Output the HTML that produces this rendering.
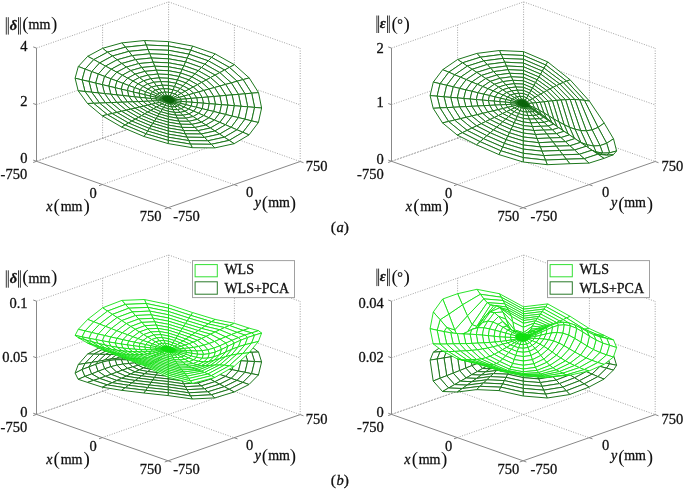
<!DOCTYPE html>
<html><head><meta charset="utf-8"><style>
html,body{margin:0;padding:0;background:#fff;}
svg{display:block;will-change:transform;}
.t{font-family:"Liberation Serif",serif;fill:#111;stroke:#111;stroke-width:0.3px;}
.par{font-size:16px;}
.bar{stroke:#222;stroke-width:0.9;}
.gd{stroke:#8a8a8a;stroke-width:0.8;stroke-dasharray:1 1.5;fill:none;}
.ax{stroke:#888;stroke-width:1;fill:none;}
.gd2{stroke:#8a8a8a;stroke-width:0.9;stroke-dasharray:2 1;fill:none;}
.dk polygon{fill:#fff;stroke:#1c761c;stroke-width:1;stroke-linejoin:round;}
.lt polygon{fill:#fff;stroke:#12e012;stroke-width:0.9;stroke-linejoin:round;}
.dkf polygon{fill:#0b650b;stroke:#0b650b;stroke-width:1;}
.ltf polygon{fill:#12e012;stroke:#12e012;stroke-width:0.9;}
</style></head><body>
<svg width="685" height="489" viewBox="0 0 685 489">
<line class="gd2" x1="36.5" y1="161.3" x2="168.6" y2="115.1"/>
<line class="gd" x1="102.3" y1="184.5" x2="234.4" y2="138.3"/>
<line class="gd" x1="102.6" y1="138.2" x2="234.1" y2="184.6"/>
<line class="gd" x1="168.6" y1="115.1" x2="300.2" y2="161.5"/>
<line class="gd" x1="102.6" y1="138.2" x2="102.6" y2="25.0"/>
<line class="gd" x1="168.6" y1="115.1" x2="168.6" y2="1.9"/>
<line class="gd" x1="36.5" y1="104.7" x2="168.6" y2="58.5"/>
<line class="gd" x1="36.5" y1="48.1" x2="168.6" y2="1.9"/>
<line class="gd" x1="234.4" y1="138.3" x2="234.4" y2="25.1"/>
<line class="gd" x1="300.2" y1="161.5" x2="300.2" y2="48.3"/>
<line class="gd" x1="168.6" y1="58.5" x2="300.2" y2="104.9"/>
<line class="gd" x1="168.6" y1="1.9" x2="300.2" y2="48.3"/>
<line class="ax" x1="36.5" y1="161.3" x2="36.5" y2="48.1"/>
<line class="ax" x1="36.5" y1="161.3" x2="168.1" y2="207.7"/>
<line class="ax" x1="168.1" y1="207.7" x2="300.2" y2="161.5"/>
<line class="ax" x1="36.5" y1="161.3" x2="33.2" y2="160.1"/>
<line class="ax" x1="36.5" y1="104.7" x2="33.2" y2="103.5"/>
<line class="ax" x1="36.5" y1="48.1" x2="33.2" y2="46.9"/>
<line class="ax" x1="36.5" y1="161.3" x2="33.2" y2="162.5"/>
<line class="ax" x1="102.3" y1="184.5" x2="99.0" y2="185.7"/>
<line class="ax" x1="168.1" y1="207.7" x2="164.7" y2="208.9"/>
<line class="ax" x1="168.1" y1="207.7" x2="171.4" y2="208.9"/>
<line class="ax" x1="234.1" y1="184.6" x2="237.5" y2="185.8"/>
<line class="ax" x1="300.2" y1="161.5" x2="303.5" y2="162.7"/>
<line class="gd2" x1="391.5" y1="161.3" x2="523.6" y2="115.1"/>
<line class="gd" x1="457.3" y1="184.5" x2="589.4" y2="138.3"/>
<line class="gd" x1="457.6" y1="138.2" x2="589.1" y2="184.6"/>
<line class="gd" x1="523.6" y1="115.1" x2="655.2" y2="161.5"/>
<line class="gd" x1="457.6" y1="138.2" x2="457.6" y2="25.0"/>
<line class="gd" x1="523.6" y1="115.1" x2="523.6" y2="1.9"/>
<line class="gd" x1="391.5" y1="104.7" x2="523.6" y2="58.5"/>
<line class="gd" x1="391.5" y1="48.1" x2="523.6" y2="1.9"/>
<line class="gd" x1="589.4" y1="138.3" x2="589.4" y2="25.1"/>
<line class="gd" x1="655.2" y1="161.5" x2="655.2" y2="48.3"/>
<line class="gd" x1="523.6" y1="58.5" x2="655.2" y2="104.9"/>
<line class="gd" x1="523.6" y1="1.9" x2="655.2" y2="48.3"/>
<line class="ax" x1="391.5" y1="161.3" x2="391.5" y2="48.1"/>
<line class="ax" x1="391.5" y1="161.3" x2="523.1" y2="207.7"/>
<line class="ax" x1="523.1" y1="207.7" x2="655.2" y2="161.5"/>
<line class="ax" x1="391.5" y1="161.3" x2="388.2" y2="160.1"/>
<line class="ax" x1="391.5" y1="104.7" x2="388.2" y2="103.5"/>
<line class="ax" x1="391.5" y1="48.1" x2="388.2" y2="46.9"/>
<line class="ax" x1="391.5" y1="161.3" x2="388.2" y2="162.5"/>
<line class="ax" x1="457.3" y1="184.5" x2="454.0" y2="185.7"/>
<line class="ax" x1="523.1" y1="207.7" x2="519.7" y2="208.9"/>
<line class="ax" x1="523.1" y1="207.7" x2="526.4" y2="208.9"/>
<line class="ax" x1="589.1" y1="184.6" x2="592.5" y2="185.8"/>
<line class="ax" x1="655.2" y1="161.5" x2="658.5" y2="162.7"/>
<line class="gd2" x1="36.5" y1="414.4" x2="168.6" y2="368.2"/>
<line class="gd" x1="102.3" y1="437.6" x2="234.4" y2="391.4"/>
<line class="gd" x1="102.6" y1="391.3" x2="234.1" y2="437.7"/>
<line class="gd" x1="168.6" y1="368.2" x2="300.2" y2="414.6"/>
<line class="gd" x1="102.6" y1="391.3" x2="102.6" y2="278.1"/>
<line class="gd" x1="168.6" y1="368.2" x2="168.6" y2="255.0"/>
<line class="gd" x1="36.5" y1="357.8" x2="168.6" y2="311.6"/>
<line class="gd" x1="36.5" y1="301.2" x2="168.6" y2="255.0"/>
<line class="gd" x1="234.4" y1="391.4" x2="234.4" y2="278.2"/>
<line class="gd" x1="300.2" y1="414.6" x2="300.2" y2="301.4"/>
<line class="gd" x1="168.6" y1="311.6" x2="300.2" y2="358.0"/>
<line class="gd" x1="168.6" y1="255.0" x2="300.2" y2="301.4"/>
<line class="ax" x1="36.5" y1="414.4" x2="36.5" y2="301.2"/>
<line class="ax" x1="36.5" y1="414.4" x2="168.1" y2="460.8"/>
<line class="ax" x1="168.1" y1="460.8" x2="300.2" y2="414.6"/>
<line class="ax" x1="36.5" y1="414.4" x2="33.2" y2="413.2"/>
<line class="ax" x1="36.5" y1="357.8" x2="33.2" y2="356.6"/>
<line class="ax" x1="36.5" y1="301.2" x2="33.2" y2="300.0"/>
<line class="ax" x1="36.5" y1="414.4" x2="33.2" y2="415.6"/>
<line class="ax" x1="102.3" y1="437.6" x2="99.0" y2="438.8"/>
<line class="ax" x1="168.1" y1="460.8" x2="164.7" y2="462.0"/>
<line class="ax" x1="168.1" y1="460.8" x2="171.4" y2="462.0"/>
<line class="ax" x1="234.1" y1="437.7" x2="237.5" y2="438.9"/>
<line class="ax" x1="300.2" y1="414.6" x2="303.5" y2="415.8"/>
<line class="gd2" x1="391.5" y1="414.4" x2="523.6" y2="368.2"/>
<line class="gd" x1="457.3" y1="437.6" x2="589.4" y2="391.4"/>
<line class="gd" x1="457.6" y1="391.3" x2="589.1" y2="437.7"/>
<line class="gd" x1="523.6" y1="368.2" x2="655.2" y2="414.6"/>
<line class="gd" x1="457.6" y1="391.3" x2="457.6" y2="278.1"/>
<line class="gd" x1="523.6" y1="368.2" x2="523.6" y2="255.0"/>
<line class="gd" x1="391.5" y1="357.8" x2="523.6" y2="311.6"/>
<line class="gd" x1="391.5" y1="301.2" x2="523.6" y2="255.0"/>
<line class="gd" x1="589.4" y1="391.4" x2="589.4" y2="278.2"/>
<line class="gd" x1="655.2" y1="414.6" x2="655.2" y2="301.4"/>
<line class="gd" x1="523.6" y1="311.6" x2="655.2" y2="358.0"/>
<line class="gd" x1="523.6" y1="255.0" x2="655.2" y2="301.4"/>
<line class="ax" x1="391.5" y1="414.4" x2="391.5" y2="301.2"/>
<line class="ax" x1="391.5" y1="414.4" x2="523.1" y2="460.8"/>
<line class="ax" x1="523.1" y1="460.8" x2="655.2" y2="414.6"/>
<line class="ax" x1="391.5" y1="414.4" x2="388.2" y2="413.2"/>
<line class="ax" x1="391.5" y1="357.8" x2="388.2" y2="356.6"/>
<line class="ax" x1="391.5" y1="301.2" x2="388.2" y2="300.0"/>
<line class="ax" x1="391.5" y1="414.4" x2="388.2" y2="415.6"/>
<line class="ax" x1="457.3" y1="437.6" x2="454.0" y2="438.8"/>
<line class="ax" x1="523.1" y1="460.8" x2="519.7" y2="462.0"/>
<line class="ax" x1="523.1" y1="460.8" x2="526.4" y2="462.0"/>
<line class="ax" x1="589.1" y1="437.7" x2="592.5" y2="438.9"/>
<line class="ax" x1="655.2" y1="414.6" x2="658.5" y2="415.8"/>
<g class="dk">
<polygon points="190.8,50.2 168.5,46.0 168.5,41.6 192.7,46.1"/>
<polygon points="168.5,46.0 146.2,45.0 144.4,40.5 168.5,41.6"/>
<polygon points="211.6,57.4 190.8,50.2 192.7,46.1 215.1,53.9"/>
<polygon points="189.0,54.2 168.5,50.3 168.5,46.0 190.8,50.2"/>
<polygon points="168.5,50.3 148.0,49.5 146.2,45.0 168.5,46.0"/>
<polygon points="146.2,45.0 125.4,47.2 121.9,42.9 144.4,40.5"/>
<polygon points="208.2,60.8 189.0,54.2 190.8,50.2 211.6,57.4"/>
<polygon points="187.3,58.1 168.5,54.6 168.5,50.3 189.0,54.2"/>
<polygon points="168.5,54.6 149.7,53.8 148.0,49.5 168.5,50.3"/>
<polygon points="148.0,49.5 128.8,51.4 125.4,47.2 146.2,45.0"/>
<polygon points="229.4,67.4 211.6,57.4 215.1,53.9 234.4,64.7"/>
<polygon points="204.8,64.2 187.3,58.1 189.0,54.2 208.2,60.8"/>
<polygon points="185.6,61.9 168.5,58.8 168.5,54.6 187.3,58.1"/>
<polygon points="149.7,53.8 132.2,55.6 128.8,51.4 148.0,49.5"/>
<polygon points="168.5,58.8 151.4,58.0 149.7,53.8 168.5,54.6"/>
<polygon points="224.6,70.0 208.2,60.8 211.6,57.4 229.4,67.4"/>
<polygon points="125.4,47.2 107.5,52.2 102.6,48.3 121.9,42.9"/>
<polygon points="201.5,67.5 185.6,61.9 187.3,58.1 204.8,64.2"/>
<polygon points="183.9,65.7 168.5,62.8 168.5,58.8 185.6,61.9"/>
<polygon points="151.4,58.0 135.5,59.6 132.2,55.6 149.7,53.8"/>
<polygon points="128.8,51.4 112.4,56.0 107.5,52.2 125.4,47.2"/>
<polygon points="219.8,72.6 204.8,64.2 208.2,60.8 224.6,70.0"/>
<polygon points="168.5,62.8 153.1,62.2 151.4,58.0 168.5,58.8"/>
<polygon points="198.2,70.7 183.9,65.7 185.6,61.9 201.5,67.5"/>
<polygon points="243.1,79.6 229.4,67.4 234.4,64.7 249.2,77.9"/>
<polygon points="132.2,55.6 117.1,59.8 112.4,56.0 128.8,51.4"/>
<polygon points="215.1,75.1 201.5,67.5 204.8,64.2 219.8,72.6"/>
<polygon points="153.1,62.2 138.7,63.6 135.5,59.6 151.4,58.0"/>
<polygon points="182.2,69.4 168.5,66.8 168.5,62.8 183.9,65.7"/>
<polygon points="168.5,66.8 154.7,66.2 153.1,62.2 168.5,62.8"/>
<polygon points="195.0,73.8 182.2,69.4 183.9,65.7 198.2,70.7"/>
<polygon points="237.1,81.2 224.6,70.0 229.4,67.4 243.1,79.6"/>
<polygon points="135.5,59.6 121.8,63.5 117.1,59.8 132.2,55.6"/>
<polygon points="210.5,77.6 198.2,70.7 201.5,67.5 215.1,75.1"/>
<polygon points="154.7,66.2 141.8,67.5 138.7,63.6 153.1,62.2"/>
<polygon points="180.6,73.0 168.4,70.7 168.5,66.8 182.2,69.4"/>
<polygon points="168.4,70.7 156.3,70.2 154.7,66.2 168.5,66.8"/>
<polygon points="107.5,52.2 93.8,59.6 87.7,56.3 102.6,48.3"/>
<polygon points="231.3,82.9 219.8,72.6 224.6,70.0 237.1,81.2"/>
<polygon points="138.7,63.6 126.3,67.1 121.8,63.5 135.5,59.6"/>
<polygon points="191.9,76.9 180.6,73.0 182.2,69.4 195.0,73.8"/>
<polygon points="206.1,80.0 195.0,73.8 198.2,70.7 210.5,77.6"/>
<polygon points="112.4,56.0 99.7,62.9 93.8,59.6 107.5,52.2"/>
<polygon points="156.3,70.2 144.9,71.4 141.8,67.5 154.7,66.2"/>
<polygon points="225.6,84.4 215.1,75.1 219.8,72.6 231.3,82.9"/>
<polygon points="179.0,76.5 168.4,74.5 168.4,70.7 180.6,73.0"/>
<polygon points="168.4,74.5 157.8,74.1 156.3,70.2 168.4,70.7"/>
<polygon points="141.8,67.5 130.8,70.6 126.3,67.1 138.7,63.6"/>
<polygon points="117.1,59.8 105.5,66.1 99.7,62.9 112.4,56.0"/>
<polygon points="188.9,79.9 179.0,76.5 180.6,73.0 191.9,76.9"/>
<polygon points="201.7,82.4 191.9,76.9 195.0,73.8 206.1,80.0"/>
<polygon points="220.0,86.0 210.5,77.6 215.1,75.1 225.6,84.4"/>
<polygon points="157.8,74.1 147.9,75.1 144.9,71.4 156.3,70.2"/>
<polygon points="121.8,63.5 111.2,69.2 105.5,66.1 117.1,59.8"/>
<polygon points="177.5,80.0 168.4,78.3 168.4,74.5 179.0,76.5"/>
<polygon points="144.9,71.4 135.2,74.1 130.8,70.6 141.8,67.5"/>
<polygon points="251.7,93.2 243.1,79.6 249.2,77.9 258.5,92.6"/>
<polygon points="168.4,78.3 159.3,77.9 157.8,74.1 168.4,74.5"/>
<polygon points="214.5,87.5 206.1,80.0 210.5,77.6 220.0,86.0"/>
<polygon points="197.4,84.7 188.9,79.9 191.9,76.9 201.7,82.4"/>
<polygon points="185.9,82.9 177.5,80.0 179.0,76.5 188.9,79.9"/>
<polygon points="245.0,93.8 237.1,81.2 243.1,79.6 251.7,93.2"/>
<polygon points="126.3,67.1 116.8,72.2 111.2,69.2 121.8,63.5"/>
<polygon points="159.3,77.9 150.9,78.7 147.9,75.1 157.8,74.1"/>
<polygon points="147.9,75.1 139.4,77.5 135.2,74.1 144.9,71.4"/>
<polygon points="176.0,83.3 168.4,81.9 168.4,78.3 177.5,80.0"/>
<polygon points="209.1,89.0 201.7,82.4 206.1,80.0 214.5,87.5"/>
<polygon points="238.5,94.4 231.3,82.9 237.1,81.2 245.0,93.8"/>
<polygon points="168.4,81.9 160.8,81.6 159.3,77.9 168.4,78.3"/>
<polygon points="193.2,87.0 185.9,82.9 188.9,79.9 197.4,84.7"/>
<polygon points="130.8,70.6 122.3,75.2 116.8,72.2 126.3,67.1"/>
<polygon points="183.0,85.8 176.0,83.3 177.5,80.0 185.9,82.9"/>
<polygon points="160.8,81.6 153.8,82.3 150.9,78.7 159.3,77.9"/>
<polygon points="232.1,94.9 225.6,84.4 231.3,82.9 238.5,94.4"/>
<polygon points="150.9,78.7 143.6,80.8 139.4,77.5 147.9,75.1"/>
<polygon points="203.9,90.5 197.4,84.7 201.7,82.4 209.1,89.0"/>
<polygon points="135.2,74.1 127.7,78.2 122.3,75.2 130.8,70.6"/>
<polygon points="93.8,59.6 85.1,69.1 78.3,66.5 87.7,56.3"/>
<polygon points="174.5,86.6 168.4,85.4 168.4,81.9 176.0,83.3"/>
<polygon points="189.1,89.2 183.0,85.8 185.9,82.9 193.2,87.0"/>
<polygon points="225.9,95.4 220.0,86.0 225.6,84.4 232.1,94.9"/>
<polygon points="168.4,85.4 162.3,85.2 160.8,81.6 168.4,81.9"/>
<polygon points="99.7,62.9 91.7,71.6 85.1,69.1 93.8,59.6"/>
<polygon points="180.2,88.6 174.5,86.6 176.0,83.3 183.0,85.8"/>
<polygon points="198.7,91.9 193.2,87.0 197.4,84.7 203.9,90.5"/>
<polygon points="153.8,82.3 147.7,84.0 143.6,80.8 150.9,78.7"/>
<polygon points="139.4,77.5 132.9,81.0 127.7,78.2 135.2,74.1"/>
<polygon points="162.3,85.2 156.6,85.8 153.8,82.3 160.8,81.6"/>
<polygon points="219.8,96.0 214.5,87.5 220.0,86.0 225.9,95.4"/>
<polygon points="105.5,66.1 98.3,74.0 91.7,71.6 99.7,62.9"/>
<polygon points="185.1,91.3 180.2,88.6 183.0,85.8 189.1,89.2"/>
<polygon points="213.8,96.5 209.1,89.0 214.5,87.5 219.8,96.0"/>
<polygon points="111.2,69.2 104.6,76.4 98.3,74.0 105.5,66.1"/>
<polygon points="173.1,89.8 168.4,88.9 168.4,85.4 174.5,86.6"/>
<polygon points="143.6,80.8 138.0,83.8 132.9,81.0 139.4,77.5"/>
<polygon points="193.7,93.3 189.1,89.2 193.2,87.0 198.7,91.9"/>
<polygon points="168.4,88.9 163.7,88.7 162.3,85.2 168.4,85.4"/>
<polygon points="156.6,85.8 151.7,87.1 147.7,84.0 153.8,82.3"/>
<polygon points="177.5,91.3 173.1,89.8 174.5,86.6 180.2,88.6"/>
<polygon points="116.8,72.2 110.9,78.8 104.6,76.4 111.2,69.2"/>
<polygon points="163.7,88.7 159.3,89.2 156.6,85.8 162.3,85.2"/>
<polygon points="207.9,97.0 203.9,90.5 209.1,89.0 213.8,96.5"/>
<polygon points="147.7,84.0 143.0,86.5 138.0,83.8 143.6,80.8"/>
<polygon points="181.2,93.4 177.5,91.3 180.2,88.6 185.1,91.3"/>
<polygon points="122.3,75.2 117.0,81.0 110.9,78.8 116.8,72.2"/>
<polygon points="188.9,94.7 185.1,91.3 189.1,89.2 193.7,93.3"/>
<polygon points="202.2,97.5 198.7,91.9 203.9,90.5 207.9,97.0"/>
<polygon points="159.3,89.2 155.5,90.2 151.7,87.1 156.6,85.8"/>
<polygon points="171.7,92.9 168.4,92.3 168.4,88.9 173.1,89.8"/>
<polygon points="168.4,92.3 165.1,92.1 163.7,88.7 168.4,88.9"/>
<polygon points="127.7,78.2 122.9,83.3 117.0,81.0 122.3,75.2"/>
<polygon points="254.6,107.4 251.7,93.2 258.5,92.6 261.6,108.0"/>
<polygon points="174.8,94.0 171.7,92.9 173.1,89.8 177.5,91.3"/>
<polygon points="151.7,87.1 147.9,89.2 143.0,86.5 147.7,84.0"/>
<polygon points="165.1,92.1 162.0,92.5 159.3,89.2 163.7,88.7"/>
<polygon points="247.7,106.8 245.0,93.8 251.7,93.2 254.6,107.4"/>
<polygon points="196.7,97.9 193.7,93.3 198.7,91.9 202.2,97.5"/>
<polygon points="184.1,96.0 181.2,93.4 185.1,91.3 188.9,94.7"/>
<polygon points="132.9,81.0 128.8,85.5 122.9,83.3 127.7,78.2"/>
<polygon points="241.0,106.3 238.5,94.4 245.0,93.8 247.7,106.8"/>
<polygon points="177.4,95.5 174.8,94.0 177.5,91.3 181.2,93.4"/>
<polygon points="162.0,92.5 159.3,93.2 155.5,90.2 159.3,89.2"/>
<polygon points="234.4,105.7 232.1,94.9 238.5,94.4 241.0,106.3"/>
<polygon points="138.0,83.8 134.5,87.6 128.8,85.5 132.9,81.0"/>
<polygon points="155.5,90.2 152.6,91.8 147.9,89.2 151.7,87.1"/>
<polygon points="191.2,98.4 188.9,94.7 193.7,93.3 196.7,97.9"/>
<polygon points="227.9,105.2 225.9,95.4 232.1,94.9 234.4,105.7"/>
<polygon points="170.3,95.9 168.4,95.6 168.4,92.3 171.7,92.9"/>
<polygon points="168.4,95.6 166.4,95.5 165.1,92.1 168.4,92.3"/>
<polygon points="179.5,97.3 177.4,95.5 181.2,93.4 184.1,96.0"/>
<polygon points="143.0,86.5 140.1,89.7 134.5,87.6 138.0,83.8"/>
<polygon points="172.2,96.6 170.3,95.9 171.7,92.9 174.8,94.0"/>
<polygon points="221.6,104.7 219.8,96.0 225.9,95.4 227.9,105.2"/>
<polygon points="166.4,95.5 164.6,95.7 162.0,92.5 165.1,92.1"/>
<polygon points="185.9,98.9 184.1,96.0 188.9,94.7 191.2,98.4"/>
<polygon points="159.3,93.2 157.3,94.3 152.6,91.8 155.5,90.2"/>
<polygon points="215.4,104.2 213.8,96.5 219.8,96.0 221.6,104.7"/>
<polygon points="173.7,97.5 172.2,96.6 174.8,94.0 177.4,95.5"/>
<polygon points="147.9,89.2 145.5,91.8 140.1,89.7 143.0,86.5"/>
<polygon points="164.6,95.7 163.0,96.1 159.3,93.2 162.0,92.5"/>
<polygon points="209.3,103.7 207.9,97.0 213.8,96.5 215.4,104.2"/>
<polygon points="170.0,96.7 168.4,96.4 168.4,95.6 170.3,95.9"/>
<polygon points="168.4,96.4 166.8,96.4 166.4,95.5 168.4,95.6"/>
<polygon points="174.9,98.5 173.7,97.5 177.4,95.5 179.5,97.3"/>
<polygon points="171.5,97.3 170.0,96.7 170.3,95.9 172.2,96.6"/>
<polygon points="180.7,99.3 179.5,97.3 184.1,96.0 185.9,98.9"/>
<polygon points="203.4,103.2 202.2,97.5 207.9,97.0 209.3,103.7"/>
<polygon points="152.6,91.8 150.8,93.8 145.5,91.8 147.9,89.2"/>
<polygon points="166.8,96.4 165.3,96.5 164.6,95.7 166.4,95.5"/>
<polygon points="172.8,98.0 171.5,97.3 172.2,96.6 173.7,97.5"/>
<polygon points="163.0,96.1 161.8,96.8 157.3,94.3 159.3,93.2"/>
<polygon points="197.6,102.7 196.7,97.9 202.2,97.5 203.4,103.2"/>
</g>
<g class="dkf">
<polygon points="169.5,97.8 168.4,97.5 168.4,96.4 170.0,96.7"/>
<polygon points="168.4,97.5 167.2,97.5 166.8,96.4 168.4,96.4"/>
</g>
<g class="dk">
<polygon points="165.3,96.5 164.0,96.9 163.0,96.1 164.6,95.7"/>
</g>
<g class="dkf">
<polygon points="170.6,98.1 169.5,97.8 170.0,96.7 171.5,97.3"/>
<polygon points="167.2,97.5 166.1,97.6 165.3,96.5 166.8,96.4"/>
</g>
<g class="dk">
<polygon points="157.3,94.3 156.0,95.7 150.8,93.8 152.6,91.8"/>
<polygon points="192.0,102.3 191.2,98.4 196.7,97.9 197.6,102.7"/>
<polygon points="173.7,98.9 172.8,98.0 173.7,97.5 174.9,98.5"/>
</g>
<g class="dkf">
<polygon points="171.5,98.6 170.6,98.1 171.5,97.3 172.8,98.0"/>
</g>
<g class="dk">
<polygon points="175.7,99.7 174.9,98.5 179.5,97.3 180.7,99.3"/>
</g>
<g class="dkf">
<polygon points="166.1,97.6 165.2,97.9 164.0,96.9 165.3,96.5"/>
</g>
<g class="dk">
<polygon points="164.0,96.9 163.0,97.4 161.8,96.8 163.0,96.1"/>
</g>
<g class="dkf">
<polygon points="169.1,98.8 168.4,98.6 168.4,97.5 169.5,97.8"/>
<polygon points="168.4,98.6 167.6,98.6 167.2,97.5 168.4,97.5"/>
</g>
<g class="dk">
<polygon points="186.5,101.8 185.9,98.9 191.2,98.4 192.0,102.3"/>
</g>
<g class="dkf">
<polygon points="172.2,99.3 171.5,98.6 172.8,98.0 173.7,98.9"/>
<polygon points="169.7,99.0 169.1,98.8 169.5,97.8 170.6,98.1"/>
<polygon points="167.6,98.6 167.0,98.7 166.1,97.6 167.2,97.5"/>
</g>
<g class="dk">
<polygon points="161.8,96.8 161.0,97.6 156.0,95.7 157.3,94.3"/>
</g>
<g class="dkf">
<polygon points="170.3,99.3 169.7,99.0 170.6,98.1 171.5,98.6"/>
<polygon points="165.2,97.9 164.5,98.2 163.0,97.4 164.0,96.9"/>
</g>
<g class="dk">
<polygon points="174.4,99.8 173.7,98.9 174.9,98.5 175.7,99.7"/>
<polygon points="85.1,69.1 82.1,79.9 75.1,78.2 78.3,66.5"/>
</g>
<g class="dkf">
<polygon points="167.0,98.7 166.4,98.8 165.2,97.9 166.1,97.6"/>
</g>
<g class="dk">
<polygon points="91.7,71.6 89.0,81.5 82.1,79.9 85.1,69.1"/>
<polygon points="181.2,101.4 180.7,99.3 185.9,98.9 186.5,101.8"/>
<polygon points="98.3,74.0 95.7,83.1 89.0,81.5 91.7,71.6"/>
</g>
<g class="dkf">
<polygon points="170.7,99.7 170.3,99.3 171.5,98.6 172.2,99.3"/>
<polygon points="172.7,100.0 172.2,99.3 173.7,98.9 174.4,99.8"/>
</g>
<g class="dk">
<polygon points="104.6,76.4 102.3,84.7 95.7,83.1 98.3,74.0"/>
<polygon points="163.0,97.4 162.3,98.1 161.0,97.6 161.8,96.8"/>
</g>
<g class="dkf">
<polygon points="168.7,99.6 168.4,99.6 168.4,98.6 169.1,98.8"/>
<polygon points="166.4,98.8 166.0,99.1 164.5,98.2 165.2,97.9"/>
</g>
<g class="dk">
<polygon points="110.9,78.8 108.8,86.2 102.3,84.7 104.6,76.4"/>
</g>
<g class="dkf">
<polygon points="168.4,99.6 168.0,99.6 167.6,98.6 168.4,98.6"/>
<polygon points="169.0,99.7 168.7,99.6 169.1,98.8 169.7,99.0"/>
<polygon points="168.0,99.6 167.7,99.6 167.0,98.7 167.6,98.6"/>
</g>
<g class="dk">
<polygon points="117.0,81.0 115.1,87.7 108.8,86.2 110.9,78.8"/>
<polygon points="175.9,101.0 175.7,99.7 180.7,99.3 181.2,101.4"/>
</g>
<g class="dkf">
<polygon points="169.2,99.9 169.0,99.7 169.7,99.0 170.3,99.3"/>
<polygon points="164.5,98.2 164.0,98.7 162.3,98.1 163.0,97.4"/>
</g>
<g class="dk">
<polygon points="122.9,83.3 121.3,89.2 115.1,87.7 117.0,81.0"/>
</g>
<g class="dkf">
<polygon points="171.0,100.1 170.7,99.7 172.2,99.3 172.7,100.0"/>
<polygon points="167.7,99.6 167.5,99.7 166.4,98.8 167.0,98.7"/>
</g>
<g class="dk">
<polygon points="128.8,85.5 127.4,90.6 121.3,89.2 122.9,83.3"/>
</g>
<g class="dkf">
<polygon points="169.4,100.1 169.2,99.9 170.3,99.3 170.7,99.7"/>
</g>
<g class="dk">
<polygon points="134.5,87.6 133.3,92.0 127.4,90.6 128.8,85.5"/>
<polygon points="174.6,100.9 174.4,99.8 175.7,99.7 175.9,101.0"/>
</g>
<g class="dkf">
<polygon points="167.5,99.7 167.3,99.8 166.0,99.1 166.4,98.8"/>
<polygon points="166.0,99.1 165.7,99.4 164.0,98.7 164.5,98.2"/>
</g>
<g class="dk">
<polygon points="140.1,89.7 139.1,93.4 133.3,92.0 134.5,87.6"/>
</g>
<g class="dkf">
<polygon points="172.8,100.7 172.7,100.0 174.4,99.8 174.6,100.9"/>
</g>
<g class="dk">
<polygon points="145.5,91.8 144.7,94.7 139.1,93.4 140.1,89.7"/>
</g>
<g class="dkf">
<polygon points="169.6,100.3 169.4,100.1 170.7,99.7 171.0,100.1"/>
</g>
<g class="dk">
<polygon points="150.8,93.8 150.2,96.0 144.7,94.7 145.5,91.8"/>
</g>
<g class="dkf">
<polygon points="168.3,100.4 168.4,99.6 168.7,99.6"/>
<polygon points="168.3,100.4 168.0,99.6 168.4,99.6"/>
<polygon points="171.1,100.6 171.0,100.1 172.7,100.0 172.8,100.7"/>
<polygon points="167.3,99.8 167.1,99.9 165.7,99.4 166.0,99.1"/>
<polygon points="168.3,100.4 168.7,99.6 169.0,99.7"/>
<polygon points="168.3,100.4 167.7,99.6 168.0,99.6"/>
<polygon points="168.3,100.4 169.0,99.7 169.2,99.9"/>
</g>
<g class="dk">
<polygon points="156.0,95.7 155.5,97.3 150.2,96.0 150.8,93.8"/>
</g>
<g class="dkf">
<polygon points="168.3,100.4 167.5,99.7 167.7,99.6"/>
<polygon points="168.3,100.4 169.2,99.9 169.4,100.1"/>
<polygon points="168.3,100.4 167.3,99.8 167.5,99.7"/>
<polygon points="169.6,100.5 169.6,100.3 171.0,100.1 171.1,100.6"/>
</g>
<g class="dk">
<polygon points="161.0,97.6 160.8,98.6 155.5,97.3 156.0,95.7"/>
</g>
<g class="dkf">
<polygon points="168.3,100.4 169.4,100.1 169.6,100.3"/>
</g>
<g class="dk">
<polygon points="162.3,98.1 162.1,98.9 160.8,98.6 161.0,97.6"/>
</g>
<g class="dkf">
<polygon points="168.3,100.4 167.1,99.9 167.3,99.8"/>
<polygon points="164.0,98.7 163.9,99.3 162.1,98.9 162.3,98.1"/>
<polygon points="165.7,99.4 165.6,99.7 163.9,99.3 164.0,98.7"/>
<polygon points="168.3,100.4 169.6,100.3 169.6,100.5"/>
<polygon points="167.1,99.9 167.1,100.1 165.6,99.7 165.7,99.4"/>
<polygon points="168.3,100.4 167.1,100.1 167.1,99.9"/>
<polygon points="168.3,100.4 169.6,100.5 169.6,100.7"/>
<polygon points="168.3,100.4 167.1,100.2 167.1,100.1"/>
<polygon points="169.6,100.7 169.6,100.5 171.1,100.6 171.0,101.0"/>
<polygon points="168.3,100.4 169.6,100.7 169.4,100.8"/>
<polygon points="168.3,100.4 167.3,100.4 167.1,100.2"/>
<polygon points="171.0,101.0 171.1,100.6 172.8,100.7 172.7,101.4"/>
<polygon points="168.3,100.4 169.4,100.8 169.2,100.9"/>
<polygon points="168.3,100.4 167.5,100.6 167.3,100.4"/>
<polygon points="167.1,100.1 167.1,100.2 165.7,100.1 165.6,99.7"/>
<polygon points="168.3,100.4 169.2,100.9 169.0,101.0"/>
<polygon points="172.7,101.4 172.8,100.7 174.6,100.9 174.4,101.8"/>
<polygon points="168.3,100.4 167.7,100.7 167.5,100.6"/>
<polygon points="168.3,100.4 169.0,101.0 168.7,101.0"/>
<polygon points="168.3,100.4 168.0,100.8 167.7,100.7"/>
<polygon points="168.3,100.4 168.7,101.0 168.3,100.9"/>
</g>
<g class="dk">
<polygon points="174.4,101.8 174.6,100.9 175.9,101.0 175.7,102.2"/>
</g>
<g class="dkf">
<polygon points="168.3,100.4 168.3,100.9 168.0,100.8"/>
<polygon points="169.4,100.8 169.6,100.7 171.0,101.0 170.7,101.4"/>
<polygon points="165.6,99.7 165.7,100.1 164.0,99.9 163.9,99.3"/>
</g>
<g class="dk">
<polygon points="175.7,102.2 175.9,101.0 181.2,101.4 180.7,103.4"/>
</g>
<g class="dkf">
<polygon points="167.1,100.2 167.3,100.4 166.0,100.5 165.7,100.1"/>
<polygon points="169.2,100.9 169.4,100.8 170.7,101.4 170.3,101.6"/>
<polygon points="170.7,101.4 171.0,101.0 172.7,101.4 172.2,102.0"/>
<polygon points="163.9,99.3 164.0,99.9 162.3,99.7 162.1,98.9"/>
<polygon points="167.3,100.4 167.5,100.6 166.4,100.8 166.0,100.5"/>
</g>
<g class="dk">
<polygon points="180.7,103.4 181.2,101.4 186.5,101.8 185.9,104.7"/>
</g>
<g class="dkf">
<polygon points="169.0,101.0 169.2,100.9 170.3,101.6 169.7,101.8"/>
</g>
<g class="dk">
<polygon points="162.1,98.9 162.3,99.7 161.0,99.6 160.8,98.6"/>
</g>
<g class="dkf">
<polygon points="167.5,100.6 167.7,100.7 167.0,101.1 166.4,100.8"/>
<polygon points="165.7,100.1 166.0,100.5 164.5,100.5 164.0,99.9"/>
<polygon points="172.2,102.0 172.7,101.4 174.4,101.8 173.7,102.7"/>
<polygon points="168.7,101.0 169.0,101.0 169.7,101.8 169.1,101.7"/>
</g>
<g class="dk">
<polygon points="185.9,104.7 186.5,101.8 192.0,102.3 191.2,106.0"/>
</g>
<g class="dkf">
<polygon points="167.7,100.7 168.0,100.8 167.6,101.4 167.0,101.1"/>
<polygon points="168.3,100.9 168.7,101.0 169.1,101.7 168.3,101.6"/>
<polygon points="170.3,101.6 170.7,101.4 172.2,102.0 171.5,102.4"/>
<polygon points="168.0,100.8 168.3,100.9 168.3,101.6 167.6,101.4"/>
</g>
<g class="dk">
<polygon points="173.7,102.7 174.4,101.8 175.7,102.2 174.9,103.2"/>
<polygon points="160.8,98.6 161.0,99.6 156.0,99.0 155.5,97.3"/>
<polygon points="191.2,106.0 192.0,102.3 197.6,102.7 196.6,107.3"/>
</g>
<g class="dkf">
<polygon points="166.0,100.5 166.4,100.8 165.2,101.1 164.5,100.5"/>
<polygon points="164.0,99.9 164.5,100.5 163.0,100.6 162.3,99.7"/>
<polygon points="169.7,101.8 170.3,101.6 171.5,102.4 170.6,102.6"/>
</g>
<g class="dk">
<polygon points="196.6,107.3 197.6,102.7 203.4,103.2 202.2,108.7"/>
</g>
<g class="dkf">
<polygon points="171.5,102.4 172.2,102.0 173.7,102.7 172.7,103.2"/>
<polygon points="166.4,100.8 167.0,101.1 166.1,101.6 165.2,101.1"/>
<polygon points="169.1,101.7 169.7,101.8 170.6,102.6 169.5,102.6"/>
</g>
<g class="dk">
<polygon points="162.3,99.7 163.0,100.6 161.8,100.6 161.0,99.6"/>
<polygon points="174.9,103.2 175.7,102.2 180.7,103.4 179.4,105.1"/>
<polygon points="202.2,108.7 203.4,103.2 209.3,103.7 207.9,110.1"/>
</g>
<g class="dkf">
<polygon points="167.0,101.1 167.6,101.4 167.2,102.1 166.1,101.6"/>
</g>
<g class="dk">
<polygon points="155.5,97.3 156.0,99.0 150.8,98.5 150.2,96.0"/>
</g>
<g class="dkf">
<polygon points="168.3,101.6 169.1,101.7 169.5,102.6 168.3,102.4"/>
<polygon points="167.6,101.4 168.3,101.6 168.3,102.4 167.2,102.1"/>
<polygon points="164.5,100.5 165.2,101.1 163.9,101.4 163.0,100.6"/>
</g>
<g class="dk">
<polygon points="172.7,103.2 173.7,102.7 174.9,103.2 173.7,103.9"/>
<polygon points="207.9,110.1 209.3,103.7 215.4,104.2 213.8,111.5"/>
</g>
<g class="dkf">
<polygon points="170.6,102.6 171.5,102.4 172.7,103.2 171.4,103.5"/>
</g>
<g class="dk">
<polygon points="213.8,111.5 215.4,104.2 221.6,104.7 219.7,113.0"/>
</g>
<g class="dkf">
<polygon points="165.2,101.1 166.1,101.6 165.2,102.1 163.9,101.4"/>
</g>
<g class="dk">
<polygon points="163.0,100.6 163.9,101.4 163.0,101.6 161.8,100.6"/>
</g>
<g class="dkf">
<polygon points="169.5,102.6 170.6,102.6 171.4,103.5 169.9,103.5"/>
</g>
<g class="dk">
<polygon points="150.2,96.0 150.8,98.5 145.5,97.9 144.7,94.7"/>
<polygon points="161.0,99.6 161.8,100.6 157.2,100.8 156.0,99.0"/>
<polygon points="219.7,113.0 221.6,104.7 227.9,105.2 225.8,114.5"/>
<polygon points="179.4,105.1 180.7,103.4 185.9,104.7 184.1,107.1"/>
<polygon points="171.4,103.5 172.7,103.2 173.7,103.9 172.1,104.2"/>
</g>
<g class="dkf">
<polygon points="166.1,101.6 167.2,102.1 166.7,102.8 165.2,102.1"/>
<polygon points="168.3,102.4 169.5,102.6 169.9,103.5 168.3,103.2"/>
<polygon points="167.2,102.1 168.3,102.4 168.3,103.2 166.7,102.8"/>
</g>
<g class="dk">
<polygon points="225.8,114.5 227.9,105.2 234.4,105.7 232.1,116.1"/>
<polygon points="173.7,103.9 174.9,103.2 179.4,105.1 177.4,106.3"/>
<polygon points="163.9,101.4 165.2,102.1 164.5,102.5 163.0,101.6"/>
<polygon points="144.7,94.7 145.5,97.9 140.0,97.4 139.1,93.4"/>
<polygon points="169.9,103.5 171.4,103.5 172.1,104.2 170.3,104.2"/>
<polygon points="232.1,116.1 234.4,105.7 241.0,106.3 238.4,117.6"/>
<polygon points="165.2,102.1 166.7,102.8 166.4,103.3 164.5,102.5"/>
<polygon points="238.4,117.6 241.0,106.3 247.7,106.8 245.0,119.2"/>
<polygon points="168.3,103.2 169.9,103.5 170.3,104.2 168.3,103.9"/>
<polygon points="184.1,107.1 185.9,104.7 191.2,106.0 188.8,109.1"/>
<polygon points="166.7,102.8 168.3,103.2 168.3,103.9 166.4,103.3"/>
<polygon points="161.8,100.6 163.0,101.6 159.3,102.5 157.2,100.8"/>
<polygon points="156.0,99.0 157.2,100.8 152.6,101.0 150.8,98.5"/>
<polygon points="139.1,93.4 140.0,97.4 134.5,96.8 133.3,92.0"/>
<polygon points="245.0,119.2 247.7,106.8 254.6,107.4 251.6,120.9"/>
<polygon points="172.1,104.2 173.7,103.9 177.4,106.3 174.7,106.9"/>
<polygon points="251.6,120.9 254.6,107.4 261.6,108.0 258.4,122.5"/>
<polygon points="177.4,106.3 179.4,105.1 184.1,107.1 181.2,108.8"/>
<polygon points="133.3,92.0 134.5,96.8 128.8,96.2 127.4,90.6"/>
<polygon points="163.0,101.6 164.5,102.5 161.9,104.0 159.3,102.5"/>
<polygon points="188.8,109.1 191.2,106.0 196.6,107.3 193.7,111.2"/>
<polygon points="170.3,104.2 172.1,104.2 174.7,106.9 171.6,106.9"/>
<polygon points="164.5,102.5 166.4,103.3 165.0,105.3 161.9,104.0"/>
<polygon points="150.8,98.5 152.6,101.0 147.8,101.2 145.5,97.9"/>
<polygon points="168.3,103.9 170.3,104.2 171.6,106.9 168.3,106.3"/>
<polygon points="127.4,90.6 128.8,96.2 122.9,95.5 121.3,89.2"/>
<polygon points="166.4,103.3 168.3,103.9 168.3,106.3 165.0,105.3"/>
<polygon points="193.7,111.2 196.6,107.3 202.2,108.7 198.7,113.3"/>
<polygon points="157.2,100.8 159.3,102.5 155.5,103.4 152.6,101.0"/>
<polygon points="121.3,89.2 122.9,95.5 116.9,94.9 115.1,87.7"/>
<polygon points="174.7,106.9 177.4,106.3 181.2,108.8 177.4,109.6"/>
<polygon points="181.2,108.8 184.1,107.1 188.8,109.1 185.0,111.3"/>
<polygon points="145.5,97.9 147.8,101.2 143.0,101.4 140.0,97.4"/>
<polygon points="198.7,113.3 202.2,108.7 207.9,110.1 203.8,115.5"/>
<polygon points="115.1,87.7 116.9,94.9 110.8,94.2 108.8,86.2"/>
<polygon points="159.3,102.5 161.9,104.0 159.2,105.5 155.5,103.4"/>
<polygon points="171.6,106.9 174.7,106.9 177.4,109.6 173.0,109.6"/>
<polygon points="108.8,86.2 110.8,94.2 104.6,93.6 102.3,84.7"/>
<polygon points="152.6,101.0 155.5,103.4 151.6,104.3 147.8,101.2"/>
<polygon points="203.8,115.5 207.9,110.1 213.8,111.5 209.0,117.8"/>
<polygon points="185.0,111.3 188.8,109.1 193.7,111.2 189.0,114.0"/>
<polygon points="161.9,104.0 165.0,105.3 163.6,107.4 159.2,105.5"/>
<polygon points="168.3,106.3 171.6,106.9 173.0,109.6 168.3,108.8"/>
<polygon points="140.0,97.4 143.0,101.4 138.0,101.6 134.5,96.8"/>
<polygon points="177.4,109.6 181.2,108.8 185.0,111.3 180.1,112.4"/>
<polygon points="165.0,105.3 168.3,106.3 168.3,108.8 163.6,107.4"/>
<polygon points="102.3,84.7 104.6,93.6 98.2,92.9 95.7,83.1"/>
<polygon points="209.0,117.8 213.8,111.5 219.7,113.0 214.4,120.1"/>
<polygon points="95.7,83.1 98.2,92.9 91.7,92.2 89.0,81.5"/>
<polygon points="189.0,114.0 193.7,111.2 198.7,113.3 193.1,116.6"/>
<polygon points="155.5,103.4 159.2,105.5 156.5,107.1 151.6,104.3"/>
<polygon points="134.5,96.8 138.0,101.6 132.8,101.8 128.8,96.2"/>
<polygon points="147.8,101.2 151.6,104.3 147.6,105.2 143.0,101.4"/>
<polygon points="214.4,120.1 219.7,113.0 225.8,114.5 219.9,122.4"/>
<polygon points="173.0,109.6 177.4,109.6 180.1,112.4 174.4,112.4"/>
<polygon points="89.0,81.5 91.7,92.2 85.0,91.5 82.1,79.9"/>
<polygon points="180.1,112.4 185.0,111.3 189.0,114.0 182.9,115.3"/>
<polygon points="159.2,105.5 163.6,107.4 162.2,109.5 156.5,107.1"/>
<polygon points="82.1,79.9 85.0,91.5 78.2,90.8 75.1,78.2"/>
<polygon points="168.3,108.8 173.0,109.6 174.4,112.4 168.3,111.3"/>
<polygon points="219.9,122.4 225.8,114.5 232.1,116.1 225.5,124.8"/>
<polygon points="128.8,96.2 132.8,101.8 127.6,102.0 122.9,95.5"/>
<polygon points="193.1,116.6 198.7,113.3 203.8,115.5 197.3,119.4"/>
<polygon points="163.6,107.4 168.3,108.8 168.3,111.3 162.2,109.5"/>
<polygon points="143.0,101.4 147.6,105.2 143.5,106.2 138.0,101.6"/>
<polygon points="151.6,104.3 156.5,107.1 153.7,108.7 147.6,105.2"/>
<polygon points="225.5,124.8 232.1,116.1 238.4,117.6 231.2,127.3"/>
<polygon points="174.4,112.4 180.1,112.4 182.9,115.3 175.9,115.2"/>
<polygon points="122.9,95.5 127.6,102.0 122.2,102.2 116.9,94.9"/>
<polygon points="182.9,115.3 189.0,114.0 193.1,116.6 185.8,118.2"/>
<polygon points="197.3,119.4 203.8,115.5 209.0,117.8 201.5,122.2"/>
<polygon points="231.2,127.3 238.4,117.6 245.0,119.2 237.0,129.8"/>
<polygon points="156.5,107.1 162.2,109.5 160.7,111.7 153.7,108.7"/>
<polygon points="168.3,111.3 174.4,112.4 175.9,115.2 168.3,113.9"/>
<polygon points="138.0,101.6 143.5,106.2 139.3,107.1 132.8,101.8"/>
<polygon points="116.9,94.9 122.2,102.2 116.7,102.4 110.8,94.2"/>
<polygon points="162.2,109.5 168.3,111.3 168.3,113.9 160.7,111.7"/>
<polygon points="237.0,129.8 245.0,119.2 251.6,120.9 242.9,132.3"/>
<polygon points="147.6,105.2 153.7,108.7 150.8,110.4 143.5,106.2"/>
<polygon points="201.5,122.2 209.0,117.8 214.4,120.1 205.9,125.1"/>
<polygon points="185.8,118.2 193.1,116.6 197.3,119.4 188.8,121.3"/>
<polygon points="175.9,115.2 182.9,115.3 185.8,118.2 177.4,118.2"/>
<polygon points="242.9,132.3 251.6,120.9 258.4,122.5 249.0,134.9"/>
<polygon points="110.8,94.2 116.7,102.4 111.1,102.6 104.6,93.6"/>
<polygon points="132.8,101.8 139.3,107.1 135.0,108.2 127.6,102.0"/>
<polygon points="153.7,108.7 160.7,111.7 159.2,113.9 150.8,110.4"/>
<polygon points="205.9,125.1 214.4,120.1 219.9,122.4 210.4,128.0"/>
<polygon points="168.3,113.9 175.9,115.2 177.4,118.2 168.3,116.6"/>
<polygon points="160.7,111.7 168.3,113.9 168.3,116.6 159.2,113.9"/>
<polygon points="143.5,106.2 150.8,110.4 147.8,112.1 139.3,107.1"/>
<polygon points="188.8,121.3 197.3,119.4 201.5,122.2 191.8,124.4"/>
<polygon points="104.6,93.6 111.1,102.6 105.4,102.8 98.2,92.9"/>
<polygon points="177.4,118.2 185.8,118.2 188.8,121.3 178.9,121.2"/>
<polygon points="127.6,102.0 135.0,108.2 130.6,109.2 122.2,102.2"/>
<polygon points="210.4,128.0 219.9,122.4 225.5,124.8 214.9,131.0"/>
<polygon points="98.2,92.9 105.4,102.8 99.6,103.1 91.7,92.2"/>
<polygon points="150.8,110.4 159.2,113.9 157.7,116.2 147.8,112.1"/>
<polygon points="191.8,124.4 201.5,122.2 205.9,125.1 194.9,127.5"/>
<polygon points="168.3,116.6 177.4,118.2 178.9,121.2 168.3,119.4"/>
<polygon points="139.3,107.1 147.8,112.1 144.8,113.8 135.0,108.2"/>
<polygon points="214.9,131.0 225.5,124.8 231.2,127.3 219.6,134.1"/>
<polygon points="159.2,113.9 168.3,116.6 168.3,119.4 157.7,116.2"/>
<polygon points="122.2,102.2 130.6,109.2 126.2,110.2 116.7,102.4"/>
<polygon points="91.7,92.2 99.6,103.1 93.6,103.3 85.0,91.5"/>
<polygon points="178.9,121.2 188.8,121.3 191.8,124.4 180.4,124.2"/>
<polygon points="194.9,127.5 205.9,125.1 210.4,128.0 198.0,130.7"/>
<polygon points="219.6,134.1 231.2,127.3 237.0,129.8 224.3,137.2"/>
<polygon points="147.8,112.1 157.7,116.2 156.1,118.6 144.8,113.8"/>
<polygon points="85.0,91.5 93.6,103.3 87.5,103.5 78.2,90.8"/>
<polygon points="135.0,108.2 144.8,113.8 141.7,115.6 130.6,109.2"/>
<polygon points="116.7,102.4 126.2,110.2 121.6,111.3 111.1,102.6"/>
<polygon points="168.3,119.4 178.9,121.2 180.4,124.2 168.3,122.2"/>
<polygon points="157.7,116.2 168.3,119.4 168.3,122.2 156.1,118.6"/>
<polygon points="180.4,124.2 191.8,124.4 194.9,127.5 182.0,127.4"/>
<polygon points="224.3,137.2 237.0,129.8 242.9,132.3 229.2,140.4"/>
<polygon points="198.0,130.7 210.4,128.0 214.9,131.0 201.2,134.0"/>
<polygon points="111.1,102.6 121.6,111.3 116.9,112.4 105.4,102.8"/>
<polygon points="130.6,109.2 141.7,115.6 138.5,117.4 126.2,110.2"/>
<polygon points="144.8,113.8 156.1,118.6 154.5,121.0 141.7,115.6"/>
<polygon points="168.3,122.2 180.4,124.2 182.0,127.4 168.2,125.1"/>
<polygon points="229.2,140.4 242.9,132.3 249.0,134.9 234.1,143.7"/>
<polygon points="182.0,127.4 194.9,127.5 198.0,130.7 183.6,130.6"/>
<polygon points="156.1,118.6 168.3,122.2 168.2,125.1 154.5,121.0"/>
<polygon points="201.2,134.0 214.9,131.0 219.6,134.1 204.5,137.4"/>
<polygon points="105.4,102.8 116.9,112.4 112.1,113.5 99.6,103.1"/>
<polygon points="126.2,110.2 138.5,117.4 135.2,119.2 121.6,111.3"/>
<polygon points="141.7,115.6 154.5,121.0 152.8,123.4 138.5,117.4"/>
<polygon points="168.2,125.1 182.0,127.4 183.6,130.6 168.2,128.0"/>
<polygon points="183.6,130.6 198.0,130.7 201.2,134.0 185.3,133.9"/>
<polygon points="204.5,137.4 219.6,134.1 224.3,137.2 207.9,140.8"/>
<polygon points="154.5,121.0 168.2,125.1 168.2,128.0 152.8,123.4"/>
<polygon points="99.6,103.1 112.1,113.5 107.3,114.6 93.6,103.3"/>
<polygon points="121.6,111.3 135.2,119.2 131.9,121.1 116.9,112.4"/>
<polygon points="138.5,117.4 152.8,123.4 151.1,125.9 135.2,119.2"/>
<polygon points="207.9,140.8 224.3,137.2 229.2,140.4 211.3,144.3"/>
<polygon points="93.6,103.3 107.3,114.6 102.3,115.8 87.5,103.5"/>
<polygon points="168.2,128.0 183.6,130.6 185.3,133.9 168.2,131.0"/>
<polygon points="185.3,133.9 201.2,134.0 204.5,137.4 187.0,137.2"/>
<polygon points="152.8,123.4 168.2,128.0 168.2,131.0 151.1,125.9"/>
<polygon points="116.9,112.4 131.9,121.1 128.5,123.0 112.1,113.5"/>
<polygon points="211.3,144.3 229.2,140.4 234.1,143.7 214.8,147.9"/>
<polygon points="135.2,119.2 151.1,125.9 149.4,128.5 131.9,121.1"/>
<polygon points="187.0,137.2 204.5,137.4 207.9,140.8 188.7,140.6"/>
<polygon points="168.2,131.0 185.3,133.9 187.0,137.2 168.2,134.1"/>
<polygon points="151.1,125.9 168.2,131.0 168.2,134.1 149.4,128.5"/>
<polygon points="112.1,113.5 128.5,123.0 125.1,125.0 107.3,114.6"/>
<polygon points="131.9,121.1 149.4,128.5 147.7,131.1 128.5,123.0"/>
<polygon points="188.7,140.6 207.9,140.8 211.3,144.3 190.5,144.1"/>
<polygon points="168.2,134.1 187.0,137.2 188.7,140.6 168.2,137.2"/>
<polygon points="149.4,128.5 168.2,134.1 168.2,137.2 147.7,131.1"/>
<polygon points="107.3,114.6 125.1,125.0 121.6,127.0 102.3,115.8"/>
<polygon points="128.5,123.0 147.7,131.1 145.9,133.8 125.1,125.0"/>
<polygon points="190.5,144.1 211.3,144.3 214.8,147.9 192.3,147.7"/>
<polygon points="168.2,137.2 188.7,140.6 190.5,144.1 168.2,140.4"/>
<polygon points="147.7,131.1 168.2,137.2 168.2,140.4 145.9,133.8"/>
<polygon points="125.1,125.0 145.9,133.8 144.0,136.5 121.6,127.0"/>
<polygon points="168.2,140.4 190.5,144.1 192.3,147.7 168.2,143.6"/>
<polygon points="145.9,133.8 168.2,140.4 168.2,143.6 144.0,136.5"/>
</g>
<g class="dk">
<polygon points="545.8,65.0 523.5,55.5 523.5,51.6 547.7,61.9"/>
<polygon points="566.6,81.1 545.8,65.0 547.7,61.9 570.1,79.8"/>
<polygon points="523.5,55.5 501.2,54.5 499.4,50.5 523.5,51.6"/>
<polygon points="544.0,68.1 523.5,59.3 523.5,55.5 545.8,65.0"/>
<polygon points="584.4,100.3 566.6,81.1 570.1,79.8 589.4,101.1"/>
<polygon points="563.2,82.5 544.0,68.1 545.8,65.0 566.6,81.1"/>
<polygon points="523.5,59.3 503.0,58.4 501.2,54.5 523.5,55.5"/>
<polygon points="501.2,54.5 480.4,57.2 476.9,53.4 499.4,50.5"/>
<polygon points="542.3,71.1 523.5,63.1 523.5,59.3 544.0,68.1"/>
<polygon points="579.6,99.8 563.2,82.5 566.6,81.1 584.4,100.3"/>
<polygon points="559.8,84.0 542.3,71.1 544.0,68.1 563.2,82.5"/>
<polygon points="503.0,58.4 483.8,60.9 480.4,57.2 501.2,54.5"/>
<polygon points="523.5,63.1 504.7,62.2 503.0,58.4 523.5,59.3"/>
<polygon points="598.1,127.4 584.4,100.3 589.4,101.1 604.2,123.1"/>
<polygon points="540.6,74.1 523.5,66.8 523.5,63.1 542.3,71.1"/>
<polygon points="574.8,99.5 559.8,84.0 563.2,82.5 579.6,99.8"/>
<polygon points="504.7,62.2 487.2,64.5 483.8,60.9 503.0,58.4"/>
<polygon points="556.5,85.6 540.6,74.1 542.3,71.1 559.8,84.0"/>
<polygon points="480.4,57.2 462.5,62.8 457.6,59.5 476.9,53.4"/>
<polygon points="523.5,66.8 506.4,66.0 504.7,62.2 523.5,63.1"/>
<polygon points="592.1,129.9 579.6,99.8 584.4,100.3 598.1,127.4"/>
<polygon points="538.9,77.0 523.5,70.4 523.5,66.8 540.6,74.1"/>
<polygon points="570.1,99.5 556.5,85.6 559.8,84.0 574.8,99.5"/>
<polygon points="483.8,60.9 467.4,66.1 462.5,62.8 480.4,57.2"/>
<polygon points="506.4,66.0 490.5,68.1 487.2,64.5 504.7,62.2"/>
<polygon points="586.3,130.8 574.8,99.5 579.6,99.8 592.1,129.9"/>
<polygon points="553.2,87.3 538.9,77.0 540.6,74.1 556.5,85.6"/>
<polygon points="523.5,70.4 508.1,69.7 506.4,66.0 523.5,66.8"/>
<polygon points="487.2,64.5 472.1,69.3 467.4,66.1 483.8,60.9"/>
<polygon points="580.6,130.5 570.1,99.5 574.8,99.5 586.3,130.8"/>
<polygon points="565.5,99.7 553.2,87.3 556.5,85.6 570.1,99.5"/>
<polygon points="537.2,79.8 523.5,73.9 523.5,70.4 538.9,77.0"/>
<polygon points="508.1,69.7 493.7,71.6 490.5,68.1 506.4,66.0"/>
<polygon points="550.0,88.9 537.2,79.8 538.9,77.0 553.2,87.3"/>
<polygon points="606.7,143.3 598.1,127.4 604.2,123.1 613.5,138.8"/>
<polygon points="523.5,73.9 509.7,73.3 508.1,69.7 523.5,70.4"/>
<polygon points="600.0,145.6 592.1,129.9 598.1,127.4 606.7,143.3"/>
<polygon points="490.5,68.1 476.8,72.4 472.1,69.3 487.2,64.5"/>
<polygon points="575.0,129.2 565.5,99.7 570.1,99.5 580.6,130.5"/>
<polygon points="462.5,62.8 448.8,72.2 442.7,69.7 457.6,59.5"/>
<polygon points="561.1,100.0 550.0,88.9 553.2,87.3 565.5,99.7"/>
<polygon points="593.5,146.0 586.3,130.8 592.1,129.9 600.0,145.6"/>
<polygon points="509.7,73.3 496.8,75.0 493.7,71.6 508.1,69.7"/>
<polygon points="535.6,82.6 523.4,77.4 523.5,73.9 537.2,79.8"/>
<polygon points="546.9,90.6 535.6,82.6 537.2,79.8 550.0,88.9"/>
<polygon points="523.4,77.4 511.3,76.8 509.7,73.3 523.5,73.9"/>
<polygon points="587.1,144.8 580.6,130.5 586.3,130.8 593.5,146.0"/>
<polygon points="493.7,71.6 481.3,75.5 476.8,72.4 490.5,68.1"/>
<polygon points="467.4,66.1 454.7,74.8 448.8,72.2 462.5,62.8"/>
<polygon points="569.5,127.3 561.1,100.0 565.5,99.7 575.0,129.2"/>
<polygon points="556.7,100.4 546.9,90.6 550.0,88.9 561.1,100.0"/>
<polygon points="511.3,76.8 499.9,78.3 496.8,75.0 509.7,73.3"/>
<polygon points="534.0,85.3 523.4,80.8 523.4,77.4 535.6,82.6"/>
<polygon points="580.9,142.5 575.0,129.2 580.6,130.5 587.1,144.8"/>
<polygon points="543.9,92.3 534.0,85.3 535.6,82.6 546.9,90.6"/>
<polygon points="472.1,69.3 460.5,77.2 454.7,74.8 467.4,66.1"/>
<polygon points="523.4,80.8 512.8,80.3 511.3,76.8 523.4,77.4"/>
<polygon points="496.8,75.0 485.8,78.5 481.3,75.5 493.7,71.6"/>
<polygon points="564.1,124.7 556.7,100.4 561.1,100.0 569.5,127.3"/>
<polygon points="574.8,139.3 569.5,127.3 575.0,129.2 580.9,142.5"/>
<polygon points="552.4,100.8 543.9,92.3 546.9,90.6 556.7,100.4"/>
<polygon points="512.8,80.3 502.9,81.6 499.9,78.3 511.3,76.8"/>
<polygon points="476.8,72.4 466.2,79.6 460.5,77.2 472.1,69.3"/>
<polygon points="532.5,88.0 523.4,84.1 523.4,80.8 534.0,85.3"/>
<polygon points="499.9,78.3 490.2,81.4 485.8,78.5 496.8,75.0"/>
<polygon points="540.9,94.0 532.5,88.0 534.0,85.3 543.9,92.3"/>
<polygon points="523.4,84.1 514.3,83.7 512.8,80.3 523.4,80.8"/>
<polygon points="558.9,121.9 552.4,100.8 556.7,100.4 564.1,124.7"/>
<polygon points="568.8,135.4 564.1,124.7 569.5,127.3 574.8,139.3"/>
<polygon points="481.3,75.5 471.8,82.0 466.2,79.6 476.8,72.4"/>
<polygon points="548.2,101.3 540.9,94.0 543.9,92.3 552.4,100.8"/>
<polygon points="514.3,83.7 505.9,84.8 502.9,81.6 512.8,80.3"/>
<polygon points="502.9,81.6 494.4,84.3 490.2,81.4 499.9,78.3"/>
<polygon points="609.6,152.9 606.7,143.3 613.5,138.8 616.6,150.9"/>
<polygon points="602.7,153.1 600.0,145.6 606.7,143.3 609.6,152.9"/>
<polygon points="531.0,90.5 523.4,87.3 523.4,84.1 532.5,88.0"/>
<polygon points="596.0,151.9 593.5,146.0 600.0,145.6 602.7,153.1"/>
<polygon points="485.8,78.5 477.3,84.3 471.8,82.0 481.3,75.5"/>
<polygon points="553.7,118.9 548.2,101.3 552.4,100.8 558.9,121.9"/>
<polygon points="538.0,95.6 531.0,90.5 532.5,88.0 540.9,94.0"/>
<polygon points="562.9,131.1 558.9,121.9 564.1,124.7 568.8,135.4"/>
<polygon points="523.4,87.3 515.8,87.0 514.3,83.7 523.4,84.1"/>
<polygon points="448.8,72.2 440.1,83.7 433.3,82.1 442.7,69.7"/>
<polygon points="589.4,149.6 587.1,144.8 593.5,146.0 596.0,151.9"/>
<polygon points="544.1,101.8 538.0,95.6 540.9,94.0 548.2,101.3"/>
<polygon points="515.8,87.0 508.8,87.9 505.9,84.8 514.3,83.7"/>
<polygon points="505.9,84.8 498.6,87.1 494.4,84.3 502.9,81.6"/>
<polygon points="582.9,146.4 580.9,142.5 587.1,144.8 589.4,149.6"/>
<polygon points="490.2,81.4 482.7,86.5 477.3,84.3 485.8,78.5"/>
<polygon points="454.7,74.8 446.7,85.3 440.1,83.7 448.8,72.2"/>
<polygon points="557.2,126.7 553.7,118.9 558.9,121.9 562.9,131.1"/>
<polygon points="548.7,115.8 544.1,101.8 548.2,101.3 553.7,118.9"/>
<polygon points="529.5,93.1 523.4,90.4 523.4,87.3 531.0,90.5"/>
<polygon points="576.6,142.5 574.8,139.3 580.9,142.5 582.9,146.4"/>
<polygon points="535.2,97.2 529.5,93.1 531.0,90.5 538.0,95.6"/>
<polygon points="460.5,77.2 453.3,86.8 446.7,85.3 454.7,74.8"/>
<polygon points="523.4,90.4 517.3,90.2 515.8,87.0 523.4,87.3"/>
<polygon points="494.4,84.3 487.9,88.7 482.7,86.5 490.2,81.4"/>
<polygon points="508.8,87.9 502.7,89.8 498.6,87.1 505.9,84.8"/>
<polygon points="540.1,102.3 535.2,97.2 538.0,95.6 544.1,101.8"/>
<polygon points="517.3,90.2 511.6,90.9 508.8,87.9 515.8,87.0"/>
<polygon points="466.2,79.6 459.6,88.4 453.3,86.8 460.5,77.2"/>
<polygon points="570.4,138.2 568.8,135.4 574.8,139.3 576.6,142.5"/>
<polygon points="551.7,122.2 548.7,115.8 553.7,118.9 557.2,126.7"/>
<polygon points="543.9,112.9 540.1,102.3 544.1,101.8 548.7,115.8"/>
<polygon points="498.6,87.1 493.0,90.9 487.9,88.7 494.4,84.3"/>
<polygon points="471.8,82.0 465.9,89.9 459.6,88.4 466.2,79.6"/>
<polygon points="528.1,95.5 523.4,93.5 523.4,90.4 529.5,93.1"/>
<polygon points="564.3,133.6 562.9,131.1 568.8,135.4 570.4,138.2"/>
<polygon points="532.5,98.8 528.1,95.5 529.5,93.1 535.2,97.2"/>
<polygon points="523.4,93.5 518.7,93.3 517.3,90.2 523.4,90.4"/>
<polygon points="511.6,90.9 506.7,92.5 502.7,89.8 508.8,87.9"/>
<polygon points="477.3,84.3 472.0,91.3 465.9,89.9 471.8,82.0"/>
<polygon points="536.2,102.7 532.5,98.8 535.2,97.2 540.1,102.3"/>
<polygon points="518.7,93.3 514.3,93.9 511.6,90.9 517.3,90.2"/>
<polygon points="546.2,117.9 543.9,112.9 548.7,115.8 551.7,122.2"/>
<polygon points="502.7,89.8 498.0,93.0 493.0,90.9 498.6,87.1"/>
<polygon points="558.4,128.9 557.2,126.7 562.9,131.1 564.3,133.6"/>
<polygon points="539.1,110.2 536.2,102.7 540.1,102.3 543.9,112.9"/>
<polygon points="482.7,86.5 477.9,92.8 472.0,91.3 477.3,84.3"/>
<polygon points="514.3,93.9 510.5,95.1 506.7,92.5 511.6,90.9"/>
<polygon points="526.7,97.9 523.4,96.5 523.4,93.5 528.1,95.5"/>
<polygon points="529.8,100.3 526.7,97.9 528.1,95.5 532.5,98.8"/>
<polygon points="523.4,96.5 520.1,96.4 518.7,93.3 523.4,93.5"/>
<polygon points="487.9,88.7 483.8,94.2 477.9,92.8 482.7,86.5"/>
<polygon points="506.7,92.5 502.9,95.0 498.0,93.0 502.7,89.8"/>
<polygon points="552.6,124.3 551.7,122.2 557.2,126.7 558.4,128.9"/>
<polygon points="540.9,113.9 539.1,110.2 543.9,112.9 546.2,117.9"/>
<polygon points="532.4,103.1 529.8,100.3 532.5,98.8 536.2,102.7"/>
<polygon points="520.1,96.4 517.0,96.8 514.3,93.9 518.7,93.3"/>
<polygon points="493.0,90.9 489.5,95.5 483.8,94.2 487.9,88.7"/>
<polygon points="534.5,107.8 532.4,103.1 536.2,102.7 539.1,110.2"/>
<polygon points="510.5,95.1 507.6,97.0 502.9,95.0 506.7,92.5"/>
<polygon points="547.0,119.7 546.2,117.9 551.7,122.2 552.6,124.3"/>
<polygon points="517.0,96.8 514.3,97.6 510.5,95.1 514.3,93.9"/>
<polygon points="498.0,93.0 495.1,96.9 489.5,95.5 493.0,90.9"/>
<polygon points="535.7,110.3 534.5,107.8 539.1,110.2 540.9,113.9"/>
<polygon points="525.3,100.3 523.4,99.4 523.4,96.5 526.7,97.9"/>
<polygon points="527.2,101.7 525.3,100.3 526.7,97.9 529.8,100.3"/>
<polygon points="523.4,99.4 521.4,99.3 520.1,96.4 523.4,96.5"/>
<polygon points="587.1,149.8 589.4,149.6 596.0,151.9 593.4,152.5"/>
<polygon points="593.4,152.5 596.0,151.9 602.7,153.1 600.0,154.4"/>
<polygon points="528.7,103.4 527.2,101.7 529.8,100.3 532.4,103.1"/>
<polygon points="580.8,146.3 582.9,146.4 589.4,149.6 587.1,149.8"/>
<polygon points="521.4,99.3 519.6,99.6 517.0,96.8 520.1,96.4"/>
<polygon points="541.5,115.5 540.9,113.9 546.2,117.9 547.0,119.7"/>
<polygon points="502.9,95.0 500.5,98.2 495.1,96.9 498.0,93.0"/>
<polygon points="514.3,97.6 512.3,99.0 507.6,97.0 510.5,95.1"/>
<polygon points="574.7,142.3 576.6,142.5 582.9,146.4 580.8,146.3"/>
<polygon points="600.0,154.4 602.7,153.1 609.6,152.9 606.6,155.2"/>
<polygon points="529.9,105.8 528.7,103.4 532.4,103.1 534.5,107.8"/>
<polygon points="440.1,83.7 437.1,96.2 430.1,95.6 433.3,82.1"/>
<polygon points="568.8,138.0 570.4,138.2 576.6,142.5 574.7,142.3"/>
<polygon points="519.6,99.6 518.0,100.1 514.3,97.6 517.0,96.8"/>
<polygon points="446.7,85.3 444.0,96.8 437.1,96.2 440.1,83.7"/>
<polygon points="606.6,155.2 609.6,152.9 616.6,150.9 613.4,154.7"/>
<polygon points="507.6,97.0 505.8,99.5 500.5,98.2 502.9,95.0"/>
<polygon points="562.9,133.5 564.3,133.6 570.4,138.2 568.8,138.0"/>
<polygon points="453.3,86.8 450.7,97.4 444.0,96.8 446.7,85.3"/>
<polygon points="525.0,100.9 523.4,100.2 523.4,99.4 525.3,100.3"/>
<polygon points="526.5,102.0 525.0,100.9 525.3,100.3 527.2,101.7"/>
<polygon points="523.4,100.2 521.8,100.1 521.4,99.3 523.4,99.4"/>
<polygon points="530.7,107.2 529.9,105.8 534.5,107.8 535.7,110.3"/>
<polygon points="536.2,111.5 535.7,110.3 540.9,113.9 541.5,115.5"/>
<polygon points="459.6,88.4 457.3,97.9 450.7,97.4 453.3,86.8"/>
<polygon points="527.8,103.4 526.5,102.0 527.2,101.7 528.7,103.4"/>
<polygon points="521.8,100.1 520.3,100.3 519.6,99.6 521.4,99.3"/>
<polygon points="557.2,128.9 558.4,128.9 564.3,133.6 562.9,133.5"/>
<polygon points="518.0,100.1 516.8,100.9 512.3,99.0 514.3,97.6"/>
<polygon points="465.9,89.9 463.8,98.5 457.3,97.9 459.6,88.4"/>
<polygon points="528.7,105.3 527.8,103.4 528.7,103.4 529.9,105.8"/>
</g>
<g class="dkf">
<polygon points="524.5,101.7 523.4,101.2 523.4,100.2 525.0,100.9"/>
</g>
<g class="dk">
<polygon points="512.3,99.0 511.0,100.7 505.8,99.5 507.6,97.0"/>
</g>
<g class="dkf">
<polygon points="525.6,102.5 524.5,101.7 525.0,100.9 526.5,102.0"/>
</g>
<g class="dk">
<polygon points="520.3,100.3 519.0,100.7 518.0,100.1 519.6,99.6"/>
</g>
<g class="dkf">
<polygon points="523.4,101.2 522.2,101.1 521.8,100.1 523.4,100.2"/>
</g>
<g class="dk">
<polygon points="472.0,91.3 470.1,99.0 463.8,98.5 465.9,89.9"/>
</g>
<g class="dkf">
<polygon points="526.5,103.5 525.6,102.5 526.5,102.0 527.8,103.4"/>
</g>
<g class="dk">
<polygon points="551.6,124.3 552.6,124.3 558.4,128.9 557.2,128.9"/>
</g>
<g class="dkf">
<polygon points="522.2,101.1 521.1,101.3 520.3,100.3 521.8,100.1"/>
</g>
<g class="dk">
<polygon points="477.9,92.8 476.3,99.6 470.1,99.0 472.0,91.3"/>
<polygon points="529.4,106.5 528.7,105.3 529.9,105.8 530.7,107.2"/>
</g>
<g class="dkf">
<polygon points="527.2,104.8 526.5,103.5 527.8,103.4 528.7,105.3"/>
</g>
<g class="dk">
<polygon points="530.9,108.0 530.7,107.2 535.7,110.3 536.2,111.5"/>
</g>
<g class="dkf">
<polygon points="521.1,101.3 520.2,101.5 519.0,100.7 520.3,100.3"/>
</g>
<g class="dk">
<polygon points="483.8,94.2 482.4,100.1 476.3,99.6 477.9,92.8"/>
<polygon points="519.0,100.7 518.0,101.4 516.8,100.9 518.0,100.1"/>
<polygon points="546.2,119.9 547.0,119.7 552.6,124.3 551.6,124.3"/>
</g>
<g class="dkf">
<polygon points="524.1,102.4 523.4,102.1 523.4,101.2 524.5,101.7"/>
<polygon points="524.7,103.0 524.1,102.4 524.5,101.7 525.6,102.5"/>
<polygon points="523.4,102.1 522.6,102.1 522.2,101.1 523.4,101.2"/>
</g>
<g class="dk">
<polygon points="516.8,100.9 516.0,101.9 511.0,100.7 512.3,99.0"/>
<polygon points="489.5,95.5 488.3,100.6 482.4,100.1 483.8,94.2"/>
</g>
<g class="dkf">
<polygon points="527.7,105.6 527.2,104.8 528.7,105.3 529.4,106.5"/>
<polygon points="525.3,103.6 524.7,103.0 525.6,102.5 526.5,103.5"/>
<polygon points="522.6,102.1 522.0,102.2 521.1,101.3 522.2,101.1"/>
<polygon points="520.2,101.5 519.5,102.0 518.0,101.4 519.0,100.7"/>
</g>
<g class="dk">
<polygon points="495.1,96.9 494.1,101.1 488.3,100.6 489.5,95.5"/>
</g>
<g class="dkf">
<polygon points="525.7,104.3 525.3,103.6 526.5,103.5 527.2,104.8"/>
</g>
<g class="dk">
<polygon points="540.9,115.7 541.5,115.5 547.0,119.7 546.2,119.9"/>
</g>
<g class="dkf">
<polygon points="522.0,102.2 521.4,102.4 520.2,101.5 521.1,101.3"/>
</g>
<g class="dk">
<polygon points="529.6,107.2 529.4,106.5 530.7,107.2 530.9,108.0"/>
<polygon points="500.5,98.2 499.7,101.6 494.1,101.1 495.1,96.9"/>
<polygon points="518.0,101.4 517.3,102.2 516.0,101.9 516.8,100.9"/>
</g>
<g class="dkf">
<polygon points="526.0,104.8 525.7,104.3 527.2,104.8 527.7,105.6"/>
<polygon points="521.4,102.4 521.0,102.7 519.5,102.0 520.2,101.5"/>
<polygon points="527.8,106.1 527.7,105.6 529.4,106.5 529.6,107.2"/>
<polygon points="523.7,103.1 523.4,103.0 523.4,102.1 524.1,102.4"/>
<polygon points="524.0,103.3 523.7,103.1 524.1,102.4 524.7,103.0"/>
<polygon points="523.4,103.0 523.0,103.0 522.6,102.1 523.4,102.1"/>
</g>
<g class="dk">
<polygon points="505.8,99.5 505.2,102.1 499.7,101.6 500.5,98.2"/>
<polygon points="535.7,111.8 536.2,111.5 541.5,115.5 540.9,115.7"/>
</g>
<g class="dkf">
<polygon points="519.5,102.0 519.0,102.6 517.3,102.2 518.0,101.4"/>
<polygon points="524.2,103.6 524.0,103.3 524.7,103.0 525.3,103.6"/>
<polygon points="523.0,103.0 522.7,103.0 522.0,102.2 522.6,102.1"/>
<polygon points="524.4,103.9 524.2,103.6 525.3,103.6 525.7,104.3"/>
<polygon points="522.7,103.0 522.5,103.1 521.4,102.4 522.0,102.2"/>
</g>
<g class="dk">
<polygon points="511.0,100.7 510.5,102.6 505.2,102.1 505.8,99.5"/>
</g>
<g class="dkf">
<polygon points="526.1,105.1 526.0,104.8 527.7,105.6 527.8,106.1"/>
<polygon points="521.0,102.7 520.7,103.0 519.0,102.6 519.5,102.0"/>
<polygon points="524.6,104.2 524.4,103.9 525.7,104.3 526.0,104.8"/>
<polygon points="522.5,103.1 522.3,103.2 521.0,102.7 521.4,102.4"/>
</g>
<g class="dk">
<polygon points="530.7,108.2 530.9,108.0 536.2,111.5 535.7,111.8"/>
<polygon points="516.0,101.9 515.8,103.0 510.5,102.6 511.0,100.7"/>
</g>
<g class="dkf">
<polygon points="524.6,104.3 524.6,104.2 526.0,104.8 526.1,105.1"/>
<polygon points="522.3,103.2 522.1,103.4 520.7,103.0 521.0,102.7"/>
</g>
<g class="dk">
<polygon points="529.4,107.4 529.6,107.2 530.9,108.0 530.7,108.2"/>
<polygon points="517.3,102.2 517.1,103.1 515.8,103.0 516.0,101.9"/>
</g>
<g class="dkf">
<polygon points="523.4,103.7 523.4,103.0 523.7,103.1"/>
<polygon points="523.4,103.7 523.7,103.1 524.0,103.3"/>
<polygon points="523.4,103.7 523.0,103.0 523.4,103.0"/>
<polygon points="523.4,103.7 524.0,103.3 524.2,103.6"/>
<polygon points="523.4,103.7 522.7,103.0 523.0,103.0"/>
<polygon points="523.4,103.7 524.2,103.6 524.4,103.9"/>
<polygon points="519.0,102.6 518.9,103.3 517.1,103.1 517.3,102.2"/>
<polygon points="527.7,106.3 527.8,106.1 529.6,107.2 529.4,107.4"/>
<polygon points="523.4,103.7 522.5,103.1 522.7,103.0"/>
<polygon points="523.4,103.7 524.4,103.9 524.6,104.2"/>
<polygon points="523.4,103.7 522.3,103.2 522.5,103.1"/>
<polygon points="520.7,103.0 520.6,103.4 518.9,103.3 519.0,102.6"/>
<polygon points="526.0,105.2 526.1,105.1 527.8,106.1 527.7,106.3"/>
<polygon points="523.4,103.7 524.6,104.2 524.6,104.3"/>
<polygon points="523.4,103.7 522.1,103.4 522.3,103.2"/>
<polygon points="522.1,103.4 522.1,103.6 520.6,103.4 520.7,103.0"/>
<polygon points="524.6,104.4 524.6,104.3 526.1,105.1 526.0,105.2"/>
<polygon points="523.4,103.7 522.1,103.6 522.1,103.4"/>
<polygon points="523.4,103.7 524.6,104.3 524.6,104.4"/>
<polygon points="523.4,103.7 522.1,103.7 522.1,103.6"/>
<polygon points="523.4,103.7 524.6,104.4 524.4,104.4"/>
<polygon points="523.4,103.7 522.3,103.9 522.1,103.7"/>
<polygon points="523.4,103.7 524.4,104.4 524.2,104.5"/>
<polygon points="522.1,103.6 522.1,103.7 520.7,103.8 520.6,103.4"/>
<polygon points="523.4,103.7 522.5,104.1 522.3,103.9"/>
<polygon points="523.4,103.7 524.2,104.5 524.0,104.5"/>
<polygon points="524.4,104.4 524.6,104.4 526.0,105.2 525.7,105.3"/>
<polygon points="523.4,103.7 522.7,104.2 522.5,104.1"/>
<polygon points="523.4,103.7 524.0,104.5 523.7,104.5"/>
<polygon points="523.4,103.7 523.0,104.3 522.7,104.2"/>
<polygon points="523.4,103.7 523.7,104.5 523.3,104.4"/>
<polygon points="523.4,103.7 523.3,104.4 523.0,104.3"/>
<polygon points="520.6,103.4 520.7,103.8 519.0,103.9 518.9,103.3"/>
<polygon points="525.7,105.3 526.0,105.2 527.7,106.3 527.2,106.3"/>
<polygon points="522.1,103.7 522.3,103.9 521.0,104.2 520.7,103.8"/>
<polygon points="518.9,103.3 519.0,103.9 517.3,104.0 517.1,103.1"/>
<polygon points="524.2,104.5 524.4,104.4 525.7,105.3 525.3,105.4"/>
<polygon points="527.2,106.3 527.7,106.3 529.4,107.4 528.7,107.3"/>
</g>
<g class="dk">
<polygon points="517.1,103.1 517.3,104.0 516.0,104.0 515.8,103.0"/>
</g>
<g class="dkf">
<polygon points="522.3,103.9 522.5,104.1 521.4,104.6 521.0,104.2"/>
<polygon points="524.0,104.5 524.2,104.5 525.3,105.4 524.7,105.4"/>
</g>
<g class="dk">
<polygon points="528.7,107.3 529.4,107.4 530.7,108.2 529.9,108.1"/>
</g>
<g class="dkf">
<polygon points="520.7,103.8 521.0,104.2 519.5,104.6 519.0,103.9"/>
<polygon points="522.5,104.1 522.7,104.2 522.0,104.9 521.4,104.6"/>
<polygon points="523.7,104.5 524.0,104.5 524.7,105.4 524.1,105.5"/>
</g>
<g class="dk">
<polygon points="515.8,103.0 516.0,104.0 511.0,104.3 510.5,102.6"/>
</g>
<g class="dkf">
<polygon points="525.3,105.4 525.7,105.3 527.2,106.3 526.5,106.5"/>
<polygon points="522.7,104.2 523.0,104.3 522.6,105.2 522.0,104.9"/>
<polygon points="523.3,104.4 523.7,104.5 524.1,105.5 523.3,105.4"/>
<polygon points="523.0,104.3 523.3,104.4 523.3,105.4 522.6,105.2"/>
</g>
<g class="dk">
<polygon points="529.9,108.1 530.7,108.2 535.7,111.8 534.4,111.2"/>
</g>
<g class="dkf">
<polygon points="519.0,103.9 519.5,104.6 518.0,105.0 517.3,104.0"/>
<polygon points="521.0,104.2 521.4,104.6 520.2,105.2 519.5,104.6"/>
<polygon points="524.7,105.4 525.3,105.4 526.5,106.5 525.6,106.6"/>
<polygon points="526.5,106.5 527.2,106.3 528.7,107.3 527.7,107.6"/>
</g>
<g class="dk">
<polygon points="510.5,102.6 511.0,104.3 505.8,104.6 505.2,102.1"/>
<polygon points="517.3,104.0 518.0,105.0 516.8,105.2 516.0,104.0"/>
</g>
<g class="dkf">
<polygon points="521.4,104.6 522.0,104.9 521.1,105.6 520.2,105.2"/>
<polygon points="524.1,105.5 524.7,105.4 525.6,106.6 524.5,106.6"/>
</g>
<g class="dk">
<polygon points="534.4,111.2 535.7,111.8 540.9,115.7 539.1,114.3"/>
</g>
<g class="dkf">
<polygon points="522.0,104.9 522.6,105.2 522.2,106.1 521.1,105.6"/>
</g>
<g class="dk">
<polygon points="527.7,107.6 528.7,107.3 529.9,108.1 528.7,108.5"/>
</g>
<g class="dkf">
<polygon points="519.5,104.6 520.2,105.2 518.9,105.8 518.0,105.0"/>
<polygon points="523.3,105.4 524.1,105.5 524.5,106.6 523.3,106.5"/>
<polygon points="522.6,105.2 523.3,105.4 523.3,106.5 522.2,106.1"/>
</g>
<g class="dk">
<polygon points="505.2,102.1 505.8,104.6 500.5,104.8 499.7,101.6"/>
</g>
<g class="dkf">
<polygon points="525.6,106.6 526.5,106.5 527.7,107.6 526.4,107.7"/>
</g>
<g class="dk">
<polygon points="539.1,114.3 540.9,115.7 546.2,119.9 543.8,117.5"/>
<polygon points="516.0,104.0 516.8,105.2 512.2,106.3 511.0,104.3"/>
</g>
<g class="dkf">
<polygon points="520.2,105.2 521.1,105.6 520.2,106.4 518.9,105.8"/>
</g>
<g class="dk">
<polygon points="518.0,105.0 518.9,105.8 518.0,106.2 516.8,105.2"/>
<polygon points="499.7,101.6 500.5,104.8 495.0,105.1 494.1,101.1"/>
</g>
<g class="dkf">
<polygon points="524.5,106.6 525.6,106.6 526.4,107.7 524.9,107.7"/>
</g>
<g class="dk">
<polygon points="526.4,107.7 527.7,107.6 528.7,108.5 527.1,108.6"/>
<polygon points="528.7,108.5 529.9,108.1 534.4,111.2 532.4,111.8"/>
</g>
<g class="dkf">
<polygon points="521.1,105.6 522.2,106.1 521.7,107.1 520.2,106.4"/>
<polygon points="523.3,106.5 524.5,106.6 524.9,107.7 523.3,107.6"/>
</g>
<g class="dk">
<polygon points="543.8,117.5 546.2,119.9 551.6,124.3 548.7,120.8"/>
</g>
<g class="dkf">
<polygon points="522.2,106.1 523.3,106.5 523.3,107.6 521.7,107.1"/>
</g>
<g class="dk">
<polygon points="494.1,101.1 495.0,105.1 489.5,105.4 488.3,100.6"/>
<polygon points="518.9,105.8 520.2,106.4 519.5,107.0 518.0,106.2"/>
<polygon points="524.9,107.7 526.4,107.7 527.1,108.6 525.3,108.6"/>
<polygon points="548.7,120.8 551.6,124.3 557.2,128.9 553.7,124.2"/>
<polygon points="520.2,106.4 521.7,107.1 521.4,107.8 519.5,107.0"/>
<polygon points="488.3,100.6 489.5,105.4 483.8,105.7 482.4,100.1"/>
<polygon points="511.0,104.3 512.2,106.3 507.6,107.4 505.8,104.6"/>
<polygon points="516.8,105.2 518.0,106.2 514.3,108.0 512.2,106.3"/>
<polygon points="523.3,107.6 524.9,107.7 525.3,108.6 523.3,108.4"/>
<polygon points="521.7,107.1 523.3,107.6 523.3,108.4 521.4,107.8"/>
<polygon points="553.7,124.2 557.2,128.9 562.9,133.5 558.8,127.7"/>
<polygon points="527.1,108.6 528.7,108.5 532.4,111.8 529.7,111.9"/>
<polygon points="482.4,100.1 483.8,105.7 477.9,106.0 476.3,99.6"/>
<polygon points="532.4,111.8 534.4,111.2 539.1,114.3 536.2,115.3"/>
<polygon points="558.8,127.7 562.9,133.5 568.8,138.0 564.0,131.3"/>
<polygon points="518.0,106.2 519.5,107.0 516.9,109.3 514.3,108.0"/>
<polygon points="476.3,99.6 477.9,106.0 471.9,106.3 470.1,99.0"/>
<polygon points="505.8,104.6 507.6,107.4 502.8,108.6 500.5,104.8"/>
<polygon points="525.3,108.6 527.1,108.6 529.7,111.9 526.6,112.1"/>
<polygon points="564.0,131.3 568.8,138.0 574.7,142.3 569.4,134.9"/>
<polygon points="519.5,107.0 521.4,107.8 520.0,110.7 516.9,109.3"/>
<polygon points="470.1,99.0 471.9,106.3 465.8,106.6 463.8,98.5"/>
<polygon points="523.3,108.4 525.3,108.6 526.6,112.1 523.3,111.7"/>
<polygon points="512.2,106.3 514.3,108.0 510.5,109.8 507.6,107.4"/>
<polygon points="521.4,107.8 523.3,108.4 523.3,111.7 520.0,110.7"/>
<polygon points="536.2,115.3 539.1,114.3 543.8,117.5 540.0,118.8"/>
<polygon points="569.4,134.9 574.7,142.3 580.8,146.3 574.9,138.6"/>
<polygon points="463.8,98.5 465.8,106.6 459.6,106.9 457.3,97.9"/>
<polygon points="529.7,111.9 532.4,111.8 536.2,115.3 532.4,115.4"/>
<polygon points="500.5,104.8 502.8,108.6 498.0,109.7 495.0,105.1"/>
<polygon points="457.3,97.9 459.6,106.9 453.2,107.3 450.7,97.4"/>
<polygon points="574.9,138.6 580.8,146.3 587.1,149.8 580.5,142.4"/>
<polygon points="514.3,108.0 516.9,109.3 514.2,111.7 510.5,109.8"/>
<polygon points="540.0,118.8 543.8,117.5 548.7,120.8 544.0,122.4"/>
<polygon points="450.7,97.4 453.2,107.3 446.7,107.6 444.0,96.8"/>
<polygon points="507.6,107.4 510.5,109.8 506.6,111.6 502.8,108.6"/>
<polygon points="526.6,112.1 529.7,111.9 532.4,115.4 528.0,115.6"/>
<polygon points="495.0,105.1 498.0,109.7 493.0,110.9 489.5,105.4"/>
<polygon points="580.5,142.4 587.1,149.8 593.4,152.5 586.2,146.3"/>
<polygon points="444.0,96.8 446.7,107.6 440.0,107.9 437.1,96.2"/>
<polygon points="516.9,109.3 520.0,110.7 518.6,113.6 514.2,111.7"/>
<polygon points="523.3,111.7 526.6,112.1 528.0,115.6 523.3,115.0"/>
<polygon points="532.4,115.4 536.2,115.3 540.0,118.8 535.1,118.9"/>
<polygon points="520.0,110.7 523.3,111.7 523.3,115.0 518.6,113.6"/>
<polygon points="437.1,96.2 440.0,107.9 433.2,108.3 430.1,95.6"/>
<polygon points="586.2,146.3 593.4,152.5 600.0,154.4 592.0,150.2"/>
<polygon points="544.0,122.4 548.7,120.8 553.7,124.2 548.1,126.0"/>
<polygon points="489.5,105.4 493.0,110.9 487.8,112.1 483.8,105.7"/>
<polygon points="502.8,108.6 506.6,111.6 502.6,113.5 498.0,109.7"/>
<polygon points="510.5,109.8 514.2,111.7 511.5,114.1 506.6,111.6"/>
<polygon points="592.0,150.2 600.0,154.4 606.6,155.2 597.9,154.2"/>
<polygon points="528.0,115.6 532.4,115.4 535.1,118.9 529.4,119.2"/>
<polygon points="483.8,105.7 487.8,112.1 482.6,113.4 477.9,106.0"/>
<polygon points="548.1,126.0 553.7,124.2 558.8,127.7 552.3,129.8"/>
<polygon points="535.1,118.9 540.0,118.8 544.0,122.4 537.9,122.5"/>
<polygon points="514.2,111.7 518.6,113.6 517.2,116.6 511.5,114.1"/>
<polygon points="597.9,154.2 606.6,155.2 613.4,154.7 604.0,158.4"/>
<polygon points="523.3,115.0 528.0,115.6 529.4,119.2 523.3,118.5"/>
<polygon points="518.6,113.6 523.3,115.0 523.3,118.5 517.2,116.6"/>
<polygon points="498.0,109.7 502.6,113.5 498.5,115.5 493.0,110.9"/>
<polygon points="477.9,106.0 482.6,113.4 477.2,114.7 471.9,106.3"/>
<polygon points="552.3,129.8 558.8,127.7 564.0,131.3 556.5,133.7"/>
<polygon points="506.6,111.6 511.5,114.1 508.7,116.6 502.6,113.5"/>
<polygon points="537.9,122.5 544.0,122.4 548.1,126.0 540.8,126.3"/>
<polygon points="529.4,119.2 535.1,118.9 537.9,122.5 530.9,122.9"/>
<polygon points="471.9,106.3 477.2,114.7 471.7,116.0 465.8,106.6"/>
<polygon points="493.0,110.9 498.5,115.5 494.3,117.5 487.8,112.1"/>
<polygon points="556.5,133.7 564.0,131.3 569.4,134.9 560.9,137.6"/>
<polygon points="511.5,114.1 517.2,116.6 515.7,119.7 508.7,116.6"/>
<polygon points="523.3,118.5 529.4,119.2 530.9,122.9 523.3,122.0"/>
<polygon points="517.2,116.6 523.3,118.5 523.3,122.0 515.7,119.7"/>
<polygon points="502.6,113.5 508.7,116.6 505.8,119.1 498.5,115.5"/>
<polygon points="465.8,106.6 471.7,116.0 466.1,117.3 459.6,106.9"/>
<polygon points="540.8,126.3 548.1,126.0 552.3,129.8 543.8,130.1"/>
<polygon points="560.9,137.6 569.4,134.9 574.9,138.6 565.4,141.7"/>
<polygon points="530.9,122.9 537.9,122.5 540.8,126.3 532.4,126.6"/>
<polygon points="487.8,112.1 494.3,117.5 490.0,119.5 482.6,113.4"/>
<polygon points="459.6,106.9 466.1,117.3 460.4,118.7 453.2,107.3"/>
<polygon points="508.7,116.6 515.7,119.7 514.2,122.8 505.8,119.1"/>
<polygon points="523.3,122.0 530.9,122.9 532.4,126.6 523.3,125.6"/>
<polygon points="565.4,141.7 574.9,138.6 580.5,142.4 569.9,145.8"/>
<polygon points="498.5,115.5 505.8,119.1 502.8,121.8 494.3,117.5"/>
<polygon points="543.8,130.1 552.3,129.8 556.5,133.7 546.8,134.0"/>
<polygon points="515.7,119.7 523.3,122.0 523.3,125.6 514.2,122.8"/>
<polygon points="453.2,107.3 460.4,118.7 454.6,120.1 446.7,107.6"/>
<polygon points="482.6,113.4 490.0,119.5 485.6,121.6 477.2,114.7"/>
<polygon points="532.4,126.6 540.8,126.3 543.8,130.1 533.9,130.5"/>
<polygon points="569.9,145.8 580.5,142.4 586.2,146.3 574.6,150.0"/>
<polygon points="446.7,107.6 454.6,120.1 448.6,121.5 440.0,107.9"/>
<polygon points="546.8,134.0 556.5,133.7 560.9,137.6 549.9,138.0"/>
<polygon points="505.8,119.1 514.2,122.8 512.7,126.1 502.8,121.8"/>
<polygon points="494.3,117.5 502.8,121.8 499.8,124.4 490.0,119.5"/>
<polygon points="477.2,114.7 485.6,121.6 481.2,123.7 471.7,116.0"/>
<polygon points="523.3,125.6 532.4,126.6 533.9,130.5 523.3,129.3"/>
<polygon points="574.6,150.0 586.2,146.3 592.0,150.2 579.3,154.3"/>
<polygon points="514.2,122.8 523.3,125.6 523.3,129.3 512.7,126.1"/>
<polygon points="440.0,107.9 448.6,121.5 442.5,122.9 433.2,108.3"/>
<polygon points="533.9,130.5 543.8,130.1 546.8,134.0 535.4,134.5"/>
<polygon points="549.9,138.0 560.9,137.6 565.4,141.7 553.0,142.0"/>
<polygon points="471.7,116.0 481.2,123.7 476.6,125.9 466.1,117.3"/>
<polygon points="579.3,154.3 592.0,150.2 597.9,154.2 584.2,158.7"/>
<polygon points="490.0,119.5 499.8,124.4 496.7,127.2 485.6,121.6"/>
<polygon points="502.8,121.8 512.7,126.1 511.1,129.4 499.8,124.4"/>
<polygon points="523.3,129.3 533.9,130.5 535.4,134.5 523.3,133.1"/>
<polygon points="512.7,126.1 523.3,129.3 523.3,133.1 511.1,129.4"/>
<polygon points="535.4,134.5 546.8,134.0 549.9,138.0 537.0,138.5"/>
<polygon points="584.2,158.7 597.9,154.2 604.0,158.4 589.1,163.1"/>
<polygon points="466.1,117.3 476.6,125.9 471.9,128.1 460.4,118.7"/>
<polygon points="553.0,142.0 565.4,141.7 569.9,145.8 556.2,146.2"/>
<polygon points="485.6,121.6 496.7,127.2 493.5,130.0 481.2,123.7"/>
<polygon points="499.8,124.4 511.1,129.4 509.5,132.8 496.7,127.2"/>
<polygon points="523.3,133.1 535.4,134.5 537.0,138.5 523.2,137.0"/>
<polygon points="460.4,118.7 471.9,128.1 467.1,130.4 454.6,120.1"/>
<polygon points="537.0,138.5 549.9,138.0 553.0,142.0 538.6,142.7"/>
<polygon points="556.2,146.2 569.9,145.8 574.6,150.0 559.5,150.5"/>
<polygon points="511.1,129.4 523.3,133.1 523.2,137.0 509.5,132.8"/>
<polygon points="481.2,123.7 493.5,130.0 490.2,132.8 476.6,125.9"/>
<polygon points="496.7,127.2 509.5,132.8 507.8,136.2 493.5,130.0"/>
<polygon points="454.6,120.1 467.1,130.4 462.3,132.7 448.6,121.5"/>
<polygon points="559.5,150.5 574.6,150.0 579.3,154.3 562.9,154.8"/>
<polygon points="523.2,137.0 537.0,138.5 538.6,142.7 523.2,140.9"/>
<polygon points="538.6,142.7 553.0,142.0 556.2,146.2 540.3,146.9"/>
<polygon points="509.5,132.8 523.2,137.0 523.2,140.9 507.8,136.2"/>
<polygon points="476.6,125.9 490.2,132.8 486.9,135.7 471.9,128.1"/>
<polygon points="448.6,121.5 462.3,132.7 457.3,135.1 442.5,122.9"/>
<polygon points="562.9,154.8 579.3,154.3 584.2,158.7 566.3,159.2"/>
<polygon points="493.5,130.0 507.8,136.2 506.1,139.7 490.2,132.8"/>
<polygon points="523.2,140.9 538.6,142.7 540.3,146.9 523.2,145.0"/>
<polygon points="540.3,146.9 556.2,146.2 559.5,150.5 542.0,151.2"/>
<polygon points="507.8,136.2 523.2,140.9 523.2,145.0 506.1,139.7"/>
<polygon points="471.9,128.1 486.9,135.7 483.5,138.7 467.1,130.4"/>
<polygon points="566.3,159.2 584.2,158.7 589.1,163.1 569.8,163.7"/>
<polygon points="490.2,132.8 506.1,139.7 504.4,143.4 486.9,135.7"/>
<polygon points="542.0,151.2 559.5,150.5 562.9,154.8 543.7,155.6"/>
<polygon points="523.2,145.0 540.3,146.9 542.0,151.2 523.2,149.1"/>
<polygon points="467.1,130.4 483.5,138.7 480.1,141.7 462.3,132.7"/>
<polygon points="506.1,139.7 523.2,145.0 523.2,149.1 504.4,143.4"/>
<polygon points="486.9,135.7 504.4,143.4 502.7,147.0 483.5,138.7"/>
<polygon points="543.7,155.6 562.9,154.8 566.3,159.2 545.5,160.1"/>
<polygon points="523.2,149.1 542.0,151.2 543.7,155.6 523.2,153.3"/>
<polygon points="462.3,132.7 480.1,141.7 476.6,144.8 457.3,135.1"/>
<polygon points="504.4,143.4 523.2,149.1 523.2,153.3 502.7,147.0"/>
<polygon points="483.5,138.7 502.7,147.0 500.9,150.8 480.1,141.7"/>
<polygon points="545.5,160.1 566.3,159.2 569.8,163.7 547.3,164.7"/>
<polygon points="523.2,153.3 543.7,155.6 545.5,160.1 523.2,157.6"/>
<polygon points="502.7,147.0 523.2,153.3 523.2,157.6 500.9,150.8"/>
<polygon points="480.1,141.7 500.9,150.8 499.0,154.6 476.6,144.8"/>
<polygon points="523.2,157.6 545.5,160.1 547.3,164.7 523.2,162.0"/>
<polygon points="500.9,150.8 523.2,157.6 523.2,162.0 499.0,154.6"/>
</g>
<g class="dk">
<polygon points="168.5,334.9 146.2,336.9 144.4,335.3 168.5,333.1"/>
<polygon points="190.8,334.9 168.5,334.9 168.5,333.1 192.7,333.1"/>
<polygon points="146.2,336.9 125.4,341.0 121.9,339.7 144.4,335.3"/>
<polygon points="211.6,336.9 190.8,334.9 192.7,333.1 215.1,335.2"/>
<polygon points="168.5,336.6 148.0,338.5 146.2,336.9 168.5,334.9"/>
<polygon points="189.0,336.6 168.5,336.6 168.5,334.9 190.8,334.9"/>
</g>
<g class="lt">
<polygon points="190.8,315.4 168.5,308.1 168.5,304.6 192.7,312.6"/>
</g>
<g class="dk">
<polygon points="148.0,338.5 128.8,342.2 125.4,341.0 146.2,336.9"/>
</g>
<g class="lt">
<polygon points="168.5,308.1 146.2,303.5 144.4,299.5 168.5,304.6"/>
</g>
<g class="dk">
<polygon points="208.2,338.4 189.0,336.6 190.8,334.9 211.6,336.9"/>
</g>
<g class="lt">
<polygon points="211.6,321.7 190.8,315.4 192.7,312.6 215.1,319.4"/>
</g>
<g class="dk">
<polygon points="168.5,338.3 149.7,340.1 148.0,338.5 168.5,336.6"/>
<polygon points="187.3,338.3 168.5,338.3 168.5,336.6 189.0,336.6"/>
</g>
<g class="lt">
<polygon points="189.0,318.1 168.5,311.5 168.5,308.1 190.8,315.4"/>
</g>
<g class="dk">
<polygon points="125.4,341.0 107.5,346.8 102.6,346.0 121.9,339.7"/>
</g>
<g class="lt">
<polygon points="168.5,311.5 148.0,307.4 146.2,303.5 168.5,308.1"/>
</g>
<g class="dk">
<polygon points="149.7,340.1 132.2,343.5 128.8,342.2 148.0,338.5"/>
<polygon points="229.4,340.6 211.6,336.9 215.1,335.2 234.4,339.3"/>
<polygon points="204.8,340.0 187.3,338.3 189.0,336.6 208.2,338.4"/>
</g>
<g class="lt">
<polygon points="146.2,303.5 125.4,304.4 121.9,300.4 144.4,299.5"/>
<polygon points="208.2,323.9 189.0,318.1 190.8,315.4 211.6,321.7"/>
</g>
<g class="dk">
<polygon points="168.5,340.0 151.4,341.6 149.7,340.1 168.5,338.3"/>
<polygon points="185.6,340.0 168.5,340.0 168.5,338.3 187.3,338.3"/>
<polygon points="128.8,342.2 112.4,347.6 107.5,346.8 125.4,341.0"/>
</g>
<g class="lt">
<polygon points="187.3,320.8 168.5,314.8 168.5,311.5 189.0,318.1"/>
</g>
<g class="dk">
<polygon points="224.6,341.9 208.2,338.4 211.6,336.9 229.4,340.6"/>
</g>
<g class="lt">
<polygon points="168.5,314.8 149.7,311.1 148.0,307.4 168.5,311.5"/>
<polygon points="229.4,325.5 211.6,321.7 215.1,319.4 234.4,323.3"/>
</g>
<g class="dk">
<polygon points="151.4,341.6 135.5,344.7 132.2,343.5 149.7,340.1"/>
</g>
<g class="lt">
<polygon points="148.0,307.4 128.8,308.2 125.4,304.4 146.2,303.5"/>
</g>
<g class="dk">
<polygon points="201.5,341.5 185.6,340.0 187.3,338.3 204.8,340.0"/>
</g>
<g class="lt">
<polygon points="204.8,326.2 187.3,320.8 189.0,318.1 208.2,323.9"/>
</g>
<g class="dk">
<polygon points="168.5,341.6 153.1,343.1 151.4,341.6 168.5,340.0"/>
<polygon points="183.9,341.6 168.5,341.6 168.5,340.0 185.6,340.0"/>
<polygon points="132.2,343.5 117.1,348.4 112.4,347.6 128.8,342.2"/>
</g>
<g class="lt">
<polygon points="185.6,323.5 168.5,318.0 168.5,314.8 187.3,320.8"/>
</g>
<g class="dk">
<polygon points="219.8,343.2 204.8,340.0 208.2,338.4 224.6,341.9"/>
</g>
<g class="lt">
<polygon points="224.6,327.6 208.2,323.9 211.6,321.7 229.4,325.5"/>
<polygon points="168.5,318.0 151.4,314.8 149.7,311.1 168.5,314.8"/>
<polygon points="149.7,311.1 132.2,311.9 128.8,308.2 148.0,307.4"/>
</g>
<g class="dk">
<polygon points="153.1,343.1 138.7,345.9 135.5,344.7 151.4,341.6"/>
</g>
<g class="lt">
<polygon points="125.4,304.4 107.5,311.1 102.6,307.8 121.9,300.4"/>
<polygon points="201.5,328.4 185.6,323.5 187.3,320.8 204.8,326.2"/>
</g>
<g class="dk">
<polygon points="198.2,343.0 183.9,341.6 185.6,340.0 201.5,341.5"/>
<polygon points="107.5,346.8 93.8,354.1 87.7,353.9 102.6,346.0"/>
<polygon points="135.5,344.7 121.8,349.2 117.1,348.4 132.2,343.5"/>
<polygon points="168.5,343.3 154.7,344.5 153.1,343.1 168.5,341.6"/>
<polygon points="182.2,343.3 168.5,343.3 168.5,341.6 183.9,341.6"/>
</g>
<g class="lt">
<polygon points="183.9,326.0 168.5,321.2 168.5,318.0 185.6,323.5"/>
</g>
<g class="dk">
<polygon points="215.1,344.4 201.5,341.5 204.8,340.0 219.8,343.2"/>
</g>
<g class="lt">
<polygon points="219.8,329.8 204.8,326.2 208.2,323.9 224.6,327.6"/>
</g>
<g class="dk">
<polygon points="243.1,345.9 229.4,340.6 234.4,339.3 249.2,345.0"/>
</g>
<g class="lt">
<polygon points="128.8,308.2 112.4,314.4 107.5,311.1 125.4,304.4"/>
<polygon points="151.4,314.8 135.5,315.5 132.2,311.9 149.7,311.1"/>
<polygon points="168.5,321.2 153.1,318.3 151.4,314.8 168.5,318.0"/>
</g>
<g class="dk">
<polygon points="112.4,347.6 99.7,354.3 93.8,354.1 107.5,346.8"/>
<polygon points="154.7,344.5 141.8,347.0 138.7,345.9 153.1,343.1"/>
</g>
<g class="lt">
<polygon points="198.2,330.6 183.9,326.0 185.6,323.5 201.5,328.4"/>
</g>
<g class="dk">
<polygon points="195.0,344.5 182.2,343.3 183.9,341.6 198.2,343.0"/>
<polygon points="138.7,345.9 126.3,349.9 121.8,349.2 135.5,344.7"/>
<polygon points="237.1,346.7 224.6,341.9 229.4,340.6 243.1,345.9"/>
<polygon points="168.4,344.8 156.3,345.9 154.7,344.5 168.5,343.3"/>
<polygon points="180.6,344.8 168.4,344.8 168.5,343.3 182.2,343.3"/>
</g>
<g class="lt">
<polygon points="215.1,332.0 201.5,328.4 204.8,326.2 219.8,329.8"/>
</g>
<g class="dk">
<polygon points="210.5,345.6 198.2,343.0 201.5,341.5 215.1,344.4"/>
</g>
<g class="lt">
<polygon points="132.2,311.9 117.1,317.5 112.4,314.4 128.8,308.2"/>
<polygon points="182.2,328.6 168.5,324.3 168.5,321.2 183.9,326.0"/>
</g>
<g class="dk">
<polygon points="117.1,348.4 105.5,354.4 99.7,354.3 112.4,347.6"/>
</g>
<g class="lt">
<polygon points="243.1,330.4 229.4,325.5 234.4,323.3 249.2,328.2"/>
<polygon points="153.1,318.3 138.7,319.0 135.5,315.5 151.4,314.8"/>
<polygon points="168.5,324.3 154.7,321.8 153.1,318.3 168.5,321.2"/>
</g>
<g class="dk">
<polygon points="156.3,345.9 144.9,348.2 141.8,347.0 154.7,344.5"/>
</g>
<g class="lt">
<polygon points="195.0,332.8 182.2,328.6 183.9,326.0 198.2,330.6"/>
</g>
<g class="dk">
<polygon points="231.3,347.6 219.8,343.2 224.6,341.9 237.1,346.7"/>
<polygon points="191.9,345.9 180.6,344.8 182.2,343.3 195.0,344.5"/>
<polygon points="141.8,347.0 130.8,350.6 126.3,349.9 138.7,345.9"/>
</g>
<g class="lt">
<polygon points="210.5,334.2 198.2,330.6 201.5,328.4 215.1,332.0"/>
<polygon points="135.5,315.5 121.8,320.6 117.1,317.5 132.2,311.9"/>
</g>
<g class="dk">
<polygon points="206.1,346.8 195.0,344.5 198.2,343.0 210.5,345.6"/>
</g>
<g class="lt">
<polygon points="237.1,332.4 224.6,327.6 229.4,325.5 243.1,330.4"/>
</g>
<g class="dk">
<polygon points="121.8,349.2 111.2,354.5 105.5,354.4 117.1,348.4"/>
<polygon points="168.4,346.4 157.8,347.3 156.3,345.9 168.4,344.8"/>
</g>
<g class="lt">
<polygon points="107.5,311.1 93.8,321.8 87.7,319.4 102.6,307.8"/>
</g>
<g class="dk">
<polygon points="179.0,346.4 168.4,346.4 168.4,344.8 180.6,344.8"/>
</g>
<g class="lt">
<polygon points="180.6,331.1 168.4,327.3 168.5,324.3 182.2,328.6"/>
<polygon points="154.7,321.8 141.8,322.4 138.7,319.0 153.1,318.3"/>
</g>
<g class="dk">
<polygon points="225.6,348.4 215.1,344.4 219.8,343.2 231.3,347.6"/>
</g>
<g class="lt">
<polygon points="168.4,327.3 156.3,325.1 154.7,321.8 168.5,324.3"/>
<polygon points="191.9,334.9 180.6,331.1 182.2,328.6 195.0,332.8"/>
</g>
<g class="dk">
<polygon points="157.8,347.3 147.9,349.3 144.9,348.2 156.3,345.9"/>
</g>
<g class="lt">
<polygon points="231.3,334.6 219.8,329.8 224.6,327.6 237.1,332.4"/>
</g>
<g class="dk">
<polygon points="144.9,348.2 135.2,351.3 130.8,350.6 141.8,347.0"/>
<polygon points="188.9,347.3 179.0,346.4 180.6,344.8 191.9,345.9"/>
</g>
<g class="lt">
<polygon points="138.7,319.0 126.3,323.6 121.8,320.6 135.5,315.5"/>
<polygon points="112.4,314.4 99.7,324.1 93.8,321.8 107.5,311.1"/>
</g>
<g class="dk">
<polygon points="126.3,349.9 116.8,354.6 111.2,354.5 121.8,349.2"/>
</g>
<g class="lt">
<polygon points="206.1,336.4 195.0,332.8 198.2,330.6 210.5,334.2"/>
</g>
<g class="dk">
<polygon points="201.7,348.0 191.9,345.9 195.0,344.5 206.1,346.8"/>
<polygon points="93.8,354.1 85.1,363.4 78.3,364.5 87.7,353.9"/>
<polygon points="220.0,349.2 210.5,345.6 215.1,344.4 225.6,348.4"/>
</g>
<g class="lt">
<polygon points="156.3,325.1 144.9,325.7 141.8,322.4 154.7,321.8"/>
</g>
<g class="dk">
<polygon points="168.4,347.9 159.3,348.7 157.8,347.3 168.4,346.4"/>
</g>
<g class="lt">
<polygon points="179.0,333.6 168.4,330.2 168.4,327.3 180.6,331.1"/>
</g>
<g class="dk">
<polygon points="177.5,347.9 168.4,347.9 168.4,346.4 179.0,346.4"/>
</g>
<g class="lt">
<polygon points="225.6,336.9 215.1,332.0 219.8,329.8 231.3,334.6"/>
<polygon points="117.1,317.5 105.5,326.4 99.7,324.1 112.4,314.4"/>
<polygon points="168.4,330.2 157.8,328.4 156.3,325.1 168.4,327.3"/>
</g>
<g class="dk">
<polygon points="130.8,350.6 122.3,354.6 116.8,354.6 126.3,349.9"/>
</g>
<g class="lt">
<polygon points="141.8,322.4 130.8,326.5 126.3,323.6 138.7,319.0"/>
<polygon points="188.9,337.0 179.0,333.6 180.6,331.1 191.9,334.9"/>
</g>
<g class="dk">
<polygon points="147.9,349.3 139.4,351.9 135.2,351.3 144.9,348.2"/>
<polygon points="99.7,354.3 91.7,362.4 85.1,363.4 93.8,354.1"/>
<polygon points="159.3,348.7 150.9,350.3 147.9,349.3 157.8,347.3"/>
</g>
<g class="lt">
<polygon points="201.7,338.5 191.9,334.9 195.0,332.8 206.1,336.4"/>
</g>
<g class="dk">
<polygon points="185.9,348.7 177.5,347.9 179.0,346.4 188.9,347.3"/>
<polygon points="197.4,349.1 188.9,347.3 191.9,345.9 201.7,348.0"/>
<polygon points="251.7,352.3 243.1,345.9 249.2,345.0 258.5,352.0"/>
<polygon points="214.5,350.0 206.1,346.8 210.5,345.6 220.0,349.2"/>
</g>
<g class="lt">
<polygon points="220.0,339.2 210.5,334.2 215.1,332.0 225.6,336.9"/>
<polygon points="121.8,320.6 111.2,328.6 105.5,326.4 117.1,317.5"/>
<polygon points="157.8,328.4 147.9,328.9 144.9,325.7 156.3,325.1"/>
</g>
<g class="dk">
<polygon points="105.5,354.4 98.3,361.3 91.7,362.4 99.7,354.3"/>
</g>
<g class="lt">
<polygon points="177.5,336.0 168.4,333.1 168.4,330.2 179.0,333.6"/>
</g>
<g class="dk">
<polygon points="168.4,349.3 160.8,350.0 159.3,348.7 168.4,347.9"/>
<polygon points="135.2,351.3 127.7,354.7 122.3,354.6 130.8,350.6"/>
<polygon points="245.0,352.7 237.1,346.7 243.1,345.9 251.7,352.3"/>
<polygon points="176.0,349.3 168.4,349.3 168.4,347.9 177.5,347.9"/>
</g>
<g class="lt">
<polygon points="144.9,325.7 135.2,329.3 130.8,326.5 141.8,322.4"/>
<polygon points="168.4,333.1 159.3,331.5 157.8,328.4 168.4,330.2"/>
<polygon points="197.4,340.4 188.9,337.0 191.9,334.9 201.7,338.5"/>
</g>
<g class="dk">
<polygon points="150.9,350.3 143.6,352.6 139.4,351.9 147.9,349.3"/>
</g>
<g class="lt">
<polygon points="185.9,339.1 177.5,336.0 179.0,333.6 188.9,337.0"/>
</g>
<g class="dk">
<polygon points="209.1,350.8 201.7,348.0 206.1,346.8 214.5,350.0"/>
</g>
<g class="lt">
<polygon points="214.5,341.5 206.1,336.4 210.5,334.2 220.0,339.2"/>
</g>
<g class="dk">
<polygon points="160.8,350.0 153.8,351.4 150.9,350.3 159.3,348.7"/>
<polygon points="193.2,350.2 185.9,348.7 188.9,347.3 197.4,349.1"/>
</g>
<g class="lt">
<polygon points="126.3,323.6 116.8,330.8 111.2,328.6 121.8,320.6"/>
</g>
<g class="dk">
<polygon points="183.0,350.0 176.0,349.3 177.5,347.9 185.9,348.7"/>
<polygon points="111.2,354.5 104.6,360.1 98.3,361.3 105.5,354.4"/>
<polygon points="238.5,353.0 231.3,347.6 237.1,346.7 245.0,352.7"/>
</g>
<g class="lt">
<polygon points="159.3,331.5 150.9,332.0 147.9,328.9 157.8,328.4"/>
</g>
<g class="dk">
<polygon points="139.4,351.9 132.9,354.8 127.7,354.7 135.2,351.3"/>
</g>
<g class="lt">
<polygon points="147.9,328.9 139.4,332.0 135.2,329.3 144.9,325.7"/>
<polygon points="251.7,332.9 243.1,330.4 249.2,328.2 258.5,330.7"/>
<polygon points="209.1,343.5 201.7,338.5 206.1,336.4 214.5,341.5"/>
<polygon points="176.0,338.3 168.4,335.9 168.4,333.1 177.5,336.0"/>
</g>
<g class="dk">
<polygon points="203.9,351.6 197.4,349.1 201.7,348.0 209.1,350.8"/>
<polygon points="232.1,353.4 225.6,348.4 231.3,347.6 238.5,353.0"/>
</g>
<g class="lt">
<polygon points="130.8,326.5 122.3,332.8 116.8,330.8 126.3,323.6"/>
</g>
<g class="dk">
<polygon points="116.8,354.6 110.9,359.0 104.6,360.1 111.2,354.5"/>
</g>
<g class="lt">
<polygon points="193.2,342.2 185.9,339.1 188.9,337.0 197.4,340.4"/>
</g>
<g class="dk">
<polygon points="168.4,350.8 162.3,351.3 160.8,350.0 168.4,349.3"/>
<polygon points="174.5,350.8 168.4,350.8 168.4,349.3 176.0,349.3"/>
<polygon points="153.8,351.4 147.7,353.2 143.6,352.6 150.9,350.3"/>
</g>
<g class="lt">
<polygon points="168.4,335.9 160.8,334.6 159.3,331.5 168.4,333.1"/>
<polygon points="183.0,341.0 176.0,338.3 177.5,336.0 185.9,339.1"/>
<polygon points="93.8,321.8 85.1,330.9 78.3,329.3 87.7,319.4"/>
</g>
<g class="dk">
<polygon points="189.1,351.3 183.0,350.0 185.9,348.7 193.2,350.2"/>
</g>
<g class="lt">
<polygon points="245.0,335.1 237.1,332.4 243.1,330.4 251.7,332.9"/>
</g>
<g class="dk">
<polygon points="162.3,351.3 156.6,352.4 153.8,351.4 160.8,350.0"/>
<polygon points="180.2,351.3 174.5,350.8 176.0,349.3 183.0,350.0"/>
<polygon points="225.9,353.7 220.0,349.2 225.6,348.4 232.1,353.4"/>
<polygon points="143.6,352.6 138.0,355.0 132.9,354.8 139.4,351.9"/>
<polygon points="122.3,354.6 117.0,358.3 110.9,359.0 116.8,354.6"/>
</g>
<g class="lt">
<polygon points="203.9,345.2 197.4,340.4 201.7,338.5 209.1,343.5"/>
<polygon points="160.8,334.6 153.8,335.0 150.9,332.0 159.3,331.5"/>
<polygon points="150.9,332.0 143.6,334.6 139.4,332.0 147.9,328.9"/>
<polygon points="135.2,329.3 127.7,334.8 122.3,332.8 130.8,326.5"/>
<polygon points="238.5,337.6 231.3,334.6 237.1,332.4 245.0,335.1"/>
<polygon points="99.7,324.1 91.7,332.5 85.1,330.9 93.8,321.8"/>
</g>
<g class="dk">
<polygon points="198.7,352.3 193.2,350.2 197.4,349.1 203.9,351.6"/>
</g>
<g class="lt">
<polygon points="189.1,343.7 183.0,341.0 185.9,339.1 193.2,342.2"/>
</g>
<g class="dk">
<polygon points="219.8,354.0 214.5,350.0 220.0,349.2 225.9,353.7"/>
</g>
<g class="lt">
<polygon points="174.5,340.6 168.4,338.7 168.4,335.9 176.0,338.3"/>
<polygon points="232.1,340.3 225.6,336.9 231.3,334.6 238.5,337.6"/>
</g>
<g class="dk">
<polygon points="156.6,352.4 151.7,353.9 147.7,353.2 153.8,351.4"/>
</g>
<g class="lt">
<polygon points="105.5,326.4 98.3,334.1 91.7,332.5 99.7,324.1"/>
<polygon points="168.4,338.7 162.3,337.6 160.8,334.6 168.4,335.9"/>
</g>
<g class="dk">
<polygon points="127.7,354.7 122.9,357.9 117.0,358.3 122.3,354.6"/>
<polygon points="185.1,352.3 180.2,351.3 183.0,350.0 189.1,351.3"/>
<polygon points="168.4,352.1 163.7,352.6 162.3,351.3 168.4,350.8"/>
<polygon points="173.1,352.1 168.4,352.1 168.4,350.8 174.5,350.8"/>
</g>
<g class="lt">
<polygon points="180.2,342.9 174.5,340.6 176.0,338.3 183.0,341.0"/>
</g>
<g class="dk">
<polygon points="147.7,353.2 143.0,355.3 138.0,355.0 143.6,352.6"/>
</g>
<g class="lt">
<polygon points="198.7,346.5 193.2,342.2 197.4,340.4 203.9,345.2"/>
<polygon points="139.4,332.0 132.9,336.8 127.7,334.8 135.2,329.3"/>
<polygon points="225.9,343.1 220.0,339.2 225.6,336.9 232.1,340.3"/>
</g>
<g class="dk">
<polygon points="193.7,353.1 189.1,351.3 193.2,350.2 198.7,352.3"/>
<polygon points="163.7,352.6 159.3,353.4 156.6,352.4 162.3,351.3"/>
</g>
<g class="lt">
<polygon points="153.8,335.0 147.7,337.1 143.6,334.6 150.9,332.0"/>
</g>
<g class="dk">
<polygon points="213.8,354.4 209.1,350.8 214.5,350.0 219.8,354.0"/>
<polygon points="177.5,352.6 173.1,352.1 174.5,350.8 180.2,351.3"/>
</g>
<g class="lt">
<polygon points="111.2,328.6 104.6,335.5 98.3,334.1 105.5,326.4"/>
<polygon points="162.3,337.6 156.6,337.9 153.8,335.0 160.8,334.6"/>
</g>
<g class="dk">
<polygon points="132.9,354.8 128.8,357.8 122.9,357.9 127.7,354.7"/>
</g>
<g class="lt">
<polygon points="219.8,345.8 214.5,341.5 220.0,339.2 225.9,343.1"/>
<polygon points="185.1,345.1 180.2,342.9 183.0,341.0 189.1,343.7"/>
<polygon points="143.6,334.6 138.0,338.6 132.9,336.8 139.4,332.0"/>
<polygon points="116.8,330.8 110.9,337.0 104.6,335.5 111.2,328.6"/>
</g>
<g class="dk">
<polygon points="85.1,363.4 82.1,369.5 75.1,373.1 78.3,364.5"/>
<polygon points="159.3,353.4 155.5,354.5 151.7,353.9 156.6,352.4"/>
<polygon points="207.9,354.7 203.9,351.6 209.1,350.8 213.8,354.4"/>
</g>
<g class="lt">
<polygon points="193.7,347.4 189.1,343.7 193.2,342.2 198.7,346.5"/>
</g>
<g class="dk">
<polygon points="151.7,353.9 147.9,355.6 143.0,355.3 147.7,353.2"/>
</g>
<g class="lt">
<polygon points="173.1,342.9 168.4,341.3 168.4,338.7 174.5,340.6"/>
</g>
<g class="dk">
<polygon points="181.2,353.4 177.5,352.6 180.2,351.3 185.1,352.3"/>
</g>
<g class="lt">
<polygon points="213.8,348.1 209.1,343.5 214.5,341.5 219.8,345.8"/>
</g>
<g class="dk">
<polygon points="188.9,353.8 185.1,352.3 189.1,351.3 193.7,353.1"/>
</g>
<g class="lt">
<polygon points="168.4,341.3 163.7,340.5 162.3,337.6 168.4,338.7"/>
</g>
<g class="dk">
<polygon points="138.0,355.0 134.5,357.9 128.8,357.8 132.9,354.8"/>
</g>
<g class="lt">
<polygon points="177.5,344.6 173.1,342.9 174.5,340.6 180.2,342.9"/>
<polygon points="156.6,337.9 151.7,339.6 147.7,337.1 153.8,335.0"/>
</g>
<g class="dk">
<polygon points="168.4,353.5 165.1,353.8 163.7,352.6 168.4,352.1"/>
<polygon points="91.7,362.4 89.0,366.9 82.1,369.5 85.1,363.4"/>
<polygon points="171.7,353.5 168.4,353.5 168.4,352.1 173.1,352.1"/>
</g>
<g class="lt">
<polygon points="122.3,332.8 117.0,338.4 110.9,337.0 116.8,330.8"/>
</g>
<g class="dk">
<polygon points="202.2,355.0 198.7,352.3 203.9,351.6 207.9,354.7"/>
</g>
<g class="lt">
<polygon points="207.9,349.8 203.9,345.2 209.1,343.5 213.8,348.1"/>
</g>
<g class="dk">
<polygon points="165.1,353.8 162.0,354.4 159.3,353.4 163.7,352.6"/>
</g>
<g class="lt">
<polygon points="163.7,340.5 159.3,340.7 156.6,337.9 162.3,337.6"/>
</g>
<g class="dk">
<polygon points="174.8,353.8 171.7,353.5 173.1,352.1 177.5,352.6"/>
</g>
<g class="lt">
<polygon points="147.7,337.1 143.0,340.5 138.0,338.6 143.6,334.6"/>
</g>
<g class="dk">
<polygon points="98.3,361.3 95.7,364.3 89.0,366.9 91.7,362.4"/>
</g>
<g class="lt">
<polygon points="188.9,348.0 185.1,345.1 189.1,343.7 193.7,347.4"/>
<polygon points="181.2,346.3 177.5,344.6 180.2,342.9 185.1,345.1"/>
</g>
<g class="dk">
<polygon points="143.0,355.3 140.1,357.9 134.5,357.9 138.0,355.0"/>
<polygon points="155.5,354.5 152.6,355.9 147.9,355.6 151.7,353.9"/>
</g>
<g class="lt">
<polygon points="127.7,334.8 122.9,339.7 117.0,338.4 122.3,332.8"/>
</g>
<g class="dk">
<polygon points="254.6,361.5 251.7,352.3 258.5,352.0 261.6,361.9"/>
<polygon points="184.1,354.5 181.2,353.4 185.1,352.3 188.9,353.8"/>
</g>
<g class="lt">
<polygon points="202.2,350.7 198.7,346.5 203.9,345.2 207.9,349.8"/>
</g>
<g class="dk">
<polygon points="162.0,354.4 159.3,355.2 155.5,354.5 159.3,353.4"/>
<polygon points="196.7,355.3 193.7,353.1 198.7,352.3 202.2,355.0"/>
<polygon points="177.4,354.4 174.8,353.8 177.5,352.6 181.2,353.4"/>
<polygon points="104.6,360.1 102.3,362.1 95.7,364.3 98.3,361.3"/>
<polygon points="247.7,361.2 245.0,352.7 251.7,352.3 254.6,361.5"/>
</g>
<g class="lt">
<polygon points="159.3,340.7 155.5,341.9 151.7,339.6 156.6,337.9"/>
<polygon points="171.7,345.0 168.4,343.9 168.4,341.3 173.1,342.9"/>
<polygon points="132.9,336.8 128.8,341.0 122.9,339.7 127.7,334.8"/>
<polygon points="168.4,343.9 165.1,343.3 163.7,340.5 168.4,341.3"/>
<polygon points="151.7,339.6 147.9,342.2 143.0,340.5 147.7,337.1"/>
</g>
<g class="dk">
<polygon points="147.9,355.6 145.5,357.9 140.1,357.9 143.0,355.3"/>
</g>
<g class="lt">
<polygon points="174.8,346.2 171.7,345.0 173.1,342.9 177.5,344.6"/>
</g>
<g class="dk">
<polygon points="241.0,360.8 238.5,353.0 245.0,352.7 247.7,361.2"/>
</g>
<g class="lt">
<polygon points="196.7,351.0 193.7,347.4 198.7,346.5 202.2,350.7"/>
</g>
<g class="dk">
<polygon points="110.9,359.0 108.8,360.6 102.3,362.1 104.6,360.1"/>
<polygon points="191.2,355.6 188.9,353.8 193.7,353.1 196.7,355.3"/>
</g>
<g class="lt">
<polygon points="184.1,348.4 181.2,346.3 185.1,345.1 188.9,348.0"/>
</g>
<g class="dk">
<polygon points="168.4,354.8 166.4,355.0 165.1,353.8 168.4,353.5"/>
<polygon points="170.3,354.8 168.4,354.8 168.4,353.5 171.7,353.5"/>
<polygon points="234.4,360.4 232.1,353.4 238.5,353.0 241.0,360.8"/>
</g>
<g class="lt">
<polygon points="165.1,343.3 162.0,343.4 159.3,340.7 163.7,340.5"/>
</g>
<g class="dk">
<polygon points="159.3,355.2 157.3,356.2 152.6,355.9 155.5,354.5"/>
<polygon points="166.4,355.0 164.6,355.3 162.0,354.4 165.1,353.8"/>
<polygon points="179.5,355.1 177.4,354.4 181.2,353.4 184.1,354.5"/>
<polygon points="172.2,355.0 170.3,354.8 171.7,353.5 174.8,353.8"/>
</g>
<g class="lt">
<polygon points="177.4,347.4 174.8,346.2 177.5,344.6 181.2,346.3"/>
<polygon points="138.0,338.6 134.5,342.2 128.8,341.0 132.9,336.8"/>
</g>
<g class="dk">
<polygon points="117.0,358.3 115.1,359.8 108.8,360.6 110.9,359.0"/>
<polygon points="227.9,360.1 225.9,353.7 232.1,353.4 234.4,360.4"/>
<polygon points="152.6,355.9 150.8,357.8 145.5,357.9 147.9,355.6"/>
<polygon points="164.6,355.3 163.0,355.8 159.3,355.2 162.0,354.4"/>
</g>
<g class="lt">
<polygon points="191.2,350.9 188.9,348.0 193.7,347.4 196.7,351.0"/>
<polygon points="155.5,341.9 152.6,343.9 147.9,342.2 151.7,339.6"/>
</g>
<g class="dk">
<polygon points="221.6,359.7 219.8,354.0 225.9,353.7 227.9,360.1"/>
<polygon points="185.9,355.8 184.1,354.5 188.9,353.8 191.2,355.6"/>
<polygon points="173.7,355.3 172.2,355.0 174.8,353.8 177.4,354.4"/>
<polygon points="122.9,357.9 121.3,359.7 115.1,359.8 117.0,358.3"/>
</g>
<g class="lt">
<polygon points="162.0,343.4 159.3,344.2 155.5,341.9 159.3,340.7"/>
<polygon points="143.0,340.5 140.1,343.4 134.5,342.2 138.0,338.6"/>
</g>
<g class="dk">
<polygon points="215.4,359.4 213.8,354.4 219.8,354.0 221.6,359.7"/>
<polygon points="128.8,357.8 127.4,359.9 121.3,359.7 122.9,357.9"/>
<polygon points="168.4,355.2 166.8,355.3 166.4,355.0 168.4,354.8"/>
</g>
<g class="lt">
<polygon points="179.5,348.8 177.4,347.4 181.2,346.3 184.1,348.4"/>
</g>
<g class="dk">
<polygon points="170.0,355.2 168.4,355.2 168.4,354.8 170.3,354.8"/>
</g>
<g class="lt">
<polygon points="170.3,347.1 168.4,346.4 168.4,343.9 171.7,345.0"/>
</g>
<g class="dk">
<polygon points="157.3,356.2 156.0,357.6 150.8,357.8 152.6,355.9"/>
</g>
<g class="lt">
<polygon points="168.4,346.4 166.4,346.0 165.1,343.3 168.4,343.9"/>
</g>
<g class="dk">
<polygon points="163.0,355.8 161.8,356.4 157.3,356.2 159.3,355.2"/>
<polygon points="166.8,355.3 165.3,355.6 164.6,355.3 166.4,355.0"/>
</g>
<g class="lt">
<polygon points="172.2,347.7 170.3,347.1 171.7,345.0 174.8,346.2"/>
</g>
<g class="dk">
<polygon points="171.5,355.3 170.0,355.2 170.3,354.8 172.2,355.0"/>
<polygon points="209.3,359.0 207.9,354.7 213.8,354.4 215.4,359.4"/>
<polygon points="134.5,357.9 133.3,360.1 127.4,359.9 128.8,357.8"/>
<polygon points="174.9,355.8 173.7,355.3 177.4,354.4 179.5,355.1"/>
<polygon points="180.7,356.1 179.5,355.1 184.1,354.5 185.9,355.8"/>
</g>
<g class="lt">
<polygon points="185.9,350.6 184.1,348.4 188.9,348.0 191.2,350.9"/>
<polygon points="166.4,346.0 164.6,346.1 162.0,343.4 165.1,343.3"/>
<polygon points="147.9,342.2 145.5,344.6 140.1,343.4 143.0,340.5"/>
</g>
<g class="dk">
<polygon points="165.3,355.6 164.0,356.0 163.0,355.8 164.6,355.3"/>
<polygon points="140.1,357.9 139.1,360.1 133.3,360.1 134.5,357.9"/>
<polygon points="203.4,358.7 202.2,355.0 207.9,354.7 209.3,359.0"/>
<polygon points="172.8,355.6 171.5,355.3 172.2,355.0 173.7,355.3"/>
</g>
<g class="lt">
<polygon points="159.3,344.2 157.3,345.6 152.6,343.9 155.5,341.9"/>
</g>
<g class="dkf">
<polygon points="168.4,355.6 167.2,355.7 166.8,355.3 168.4,355.2"/>
<polygon points="169.5,355.6 168.4,355.6 168.4,355.2 170.0,355.2"/>
</g>
<g class="lt">
<polygon points="173.7,348.4 172.2,347.7 174.8,346.2 177.4,347.4"/>
</g>
<g class="dkf">
<polygon points="167.2,355.7 166.1,355.9 165.3,355.6 166.8,355.3"/>
<polygon points="170.6,355.7 169.5,355.6 170.0,355.2 171.5,355.3"/>
</g>
<g class="dk">
<polygon points="145.5,357.9 144.7,359.9 139.1,360.1 140.1,357.9"/>
<polygon points="197.6,358.4 196.7,355.3 202.2,355.0 203.4,358.7"/>
<polygon points="164.0,356.0 163.0,356.5 161.8,356.4 163.0,355.8"/>
</g>
<g class="lt">
<polygon points="164.6,346.1 163.0,346.5 159.3,344.2 162.0,343.4"/>
</g>
<g class="dk">
<polygon points="161.8,356.4 161.0,357.3 156.0,357.6 157.3,356.2"/>
</g>
<g class="dkf">
<polygon points="166.1,355.9 165.2,356.2 164.0,356.0 165.3,355.6"/>
<polygon points="171.5,355.9 170.6,355.7 171.5,355.3 172.8,355.6"/>
</g>
<g class="dk">
<polygon points="173.7,356.0 172.8,355.6 173.7,355.3 174.9,355.8"/>
</g>
<g class="lt">
<polygon points="215.4,352.0 213.8,348.1 219.8,345.8 221.6,349.4"/>
<polygon points="209.3,353.7 207.9,349.8 213.8,348.1 215.4,352.0"/>
<polygon points="221.6,349.4 219.8,345.8 225.9,343.1 227.9,346.3"/>
</g>
<g class="dk">
<polygon points="175.7,356.4 174.9,355.8 179.5,355.1 180.7,356.1"/>
</g>
<g class="lt">
<polygon points="152.6,343.9 150.8,345.7 145.5,344.6 147.9,342.2"/>
</g>
<g class="dk">
<polygon points="192.0,358.1 191.2,355.6 196.7,355.3 197.6,358.4"/>
<polygon points="150.8,357.8 150.2,359.4 144.7,359.9 145.5,357.9"/>
</g>
<g class="ltf">
<polygon points="170.0,347.6 168.4,347.1 168.4,346.4 170.3,347.1"/>
</g>
<g class="lt">
<polygon points="85.1,330.9 82.1,336.9 75.1,335.4 78.3,329.3"/>
<polygon points="227.9,346.3 225.9,343.1 232.1,340.3 234.4,343.1"/>
<polygon points="180.7,350.2 179.5,348.8 184.1,348.4 185.9,350.6"/>
<polygon points="203.4,354.4 202.2,350.7 207.9,349.8 209.3,353.7"/>
<polygon points="174.9,349.2 173.7,348.4 177.4,347.4 179.5,348.8"/>
</g>
<g class="dkf">
<polygon points="168.4,356.0 167.6,356.1 167.2,355.7 168.4,355.6"/>
</g>
<g class="lt">
<polygon points="254.6,335.2 251.7,332.9 258.5,330.7 261.6,333.0"/>
</g>
<g class="dkf">
<polygon points="169.1,356.0 168.4,356.0 168.4,355.6 169.5,355.6"/>
</g>
<g class="ltf">
<polygon points="168.4,347.1 166.8,346.8 166.4,346.0 168.4,346.4"/>
</g>
<g class="lt">
<polygon points="234.4,343.1 232.1,340.3 238.5,337.6 241.0,340.1"/>
</g>
<g class="ltf">
<polygon points="171.5,348.1 170.0,347.6 170.3,347.1 172.2,347.7"/>
</g>
<g class="lt">
<polygon points="247.7,337.5 245.0,335.1 251.7,332.9 254.6,335.2"/>
</g>
<g class="dkf">
<polygon points="165.2,356.2 164.5,356.6 163.0,356.5 164.0,356.0"/>
</g>
<g class="lt">
<polygon points="241.0,340.1 238.5,337.6 245.0,335.1 247.7,337.5"/>
</g>
<g class="dkf">
<polygon points="167.6,356.1 167.0,356.2 166.1,355.9 167.2,355.7"/>
<polygon points="169.7,356.1 169.1,356.0 169.5,355.6 170.6,355.7"/>
</g>
<g class="lt">
<polygon points="91.7,332.5 89.0,338.3 82.1,336.9 85.1,330.9"/>
</g>
<g class="dkf">
<polygon points="172.2,356.2 171.5,355.9 172.8,355.6 173.7,356.0"/>
</g>
<g class="dk">
<polygon points="186.5,357.8 185.9,355.8 191.2,355.6 192.0,358.1"/>
</g>
<g class="ltf">
<polygon points="166.8,346.8 165.3,346.8 164.6,346.1 166.4,346.0"/>
</g>
<g class="lt">
<polygon points="197.6,354.2 196.7,351.0 202.2,350.7 203.4,354.4"/>
</g>
<g class="dk">
<polygon points="163.0,356.5 162.3,357.2 161.0,357.3 161.8,356.4"/>
</g>
<g class="dkf">
<polygon points="167.0,356.2 166.4,356.4 165.2,356.2 166.1,355.9"/>
</g>
<g class="lt">
<polygon points="98.3,334.1 95.7,339.6 89.0,338.3 91.7,332.5"/>
</g>
<g class="dk">
<polygon points="156.0,357.6 155.5,358.7 150.2,359.4 150.8,357.8"/>
</g>
<g class="dkf">
<polygon points="170.3,356.2 169.7,356.1 170.6,355.7 171.5,355.9"/>
</g>
<g class="ltf">
<polygon points="172.8,348.7 171.5,348.1 172.2,347.7 173.7,348.4"/>
</g>
<g class="dk">
<polygon points="174.4,356.4 173.7,356.0 174.9,355.8 175.7,356.4"/>
</g>
<g class="lt">
<polygon points="163.0,346.5 161.8,347.3 157.3,345.6 159.3,344.2"/>
<polygon points="104.6,335.5 102.3,340.8 95.7,339.6 98.3,334.1"/>
</g>
<g class="ltf">
<polygon points="169.5,348.2 168.4,347.9 168.4,347.1 170.0,347.6"/>
</g>
<g class="dkf">
<polygon points="166.4,356.4 166.0,356.6 164.5,356.6 165.2,356.2"/>
<polygon points="164.5,356.6 164.0,357.1 162.3,357.2 163.0,356.5"/>
</g>
<g class="dk">
<polygon points="181.2,357.5 180.7,356.1 185.9,355.8 186.5,357.8"/>
</g>
<g class="dkf">
<polygon points="170.7,356.4 170.3,356.2 171.5,355.9 172.2,356.2"/>
</g>
<g class="ltf">
<polygon points="168.4,347.9 167.2,347.7 166.8,346.8 168.4,347.1"/>
</g>
<g class="lt">
<polygon points="157.3,345.6 156.0,346.8 150.8,345.7 152.6,343.9"/>
<polygon points="192.0,353.4 191.2,350.9 196.7,351.0 197.6,354.2"/>
</g>
<g class="ltf">
<polygon points="165.3,346.8 164.0,347.1 163.0,346.5 164.6,346.1"/>
<polygon points="170.6,348.6 169.5,348.2 170.0,347.6 171.5,348.1"/>
</g>
<g class="dkf">
<polygon points="172.7,356.5 172.2,356.2 173.7,356.0 174.4,356.4"/>
</g>
<g class="lt">
<polygon points="110.9,337.0 108.8,342.0 102.3,340.8 104.6,335.5"/>
</g>
<g class="dkf">
<polygon points="168.4,356.4 168.0,356.4 167.6,356.1 168.4,356.0"/>
<polygon points="168.7,356.4 168.4,356.4 168.4,356.0 169.1,356.0"/>
</g>
<g class="dk">
<polygon points="161.0,357.3 160.8,358.0 155.5,358.7 156.0,357.6"/>
</g>
<g class="dkf">
<polygon points="168.0,356.4 167.7,356.5 167.0,356.2 167.6,356.1"/>
<polygon points="169.0,356.4 168.7,356.4 169.1,356.0 169.7,356.1"/>
</g>
<g class="ltf">
<polygon points="167.2,347.7 166.1,347.7 165.3,346.8 166.8,346.8"/>
</g>
<g class="lt">
<polygon points="117.0,338.4 115.1,343.0 108.8,342.0 110.9,337.0"/>
</g>
<g class="dkf">
<polygon points="167.7,356.5 167.5,356.6 166.4,356.4 167.0,356.2"/>
<polygon points="169.2,356.5 169.0,356.4 169.7,356.1 170.3,356.2"/>
</g>
<g class="ltf">
<polygon points="173.7,349.3 172.8,348.7 173.7,348.4 174.9,349.2"/>
</g>
<g class="dkf">
<polygon points="166.0,356.6 165.7,356.9 164.0,357.1 164.5,356.6"/>
</g>
<g class="ltf">
<polygon points="171.5,349.0 170.6,348.6 171.5,348.1 172.8,348.7"/>
</g>
<g class="lt">
<polygon points="175.7,350.0 174.9,349.2 179.5,348.8 180.7,350.2"/>
</g>
<g class="dk">
<polygon points="175.9,357.2 175.7,356.4 180.7,356.1 181.2,357.5"/>
</g>
<g class="dkf">
<polygon points="171.0,356.6 170.7,356.4 172.2,356.2 172.7,356.5"/>
</g>
<g class="dk">
<polygon points="162.3,357.2 162.1,357.7 160.8,358.0 161.0,357.3"/>
</g>
<g class="dkf">
<polygon points="167.5,356.6 167.3,356.7 166.0,356.6 166.4,356.4"/>
<polygon points="169.4,356.6 169.2,356.5 170.3,356.2 170.7,356.4"/>
</g>
<g class="lt">
<polygon points="122.9,339.7 121.3,344.0 115.1,343.0 117.0,338.4"/>
<polygon points="186.5,352.4 185.9,350.6 191.2,350.9 192.0,353.4"/>
</g>
<g class="ltf">
<polygon points="166.1,347.7 165.2,347.9 164.0,347.1 165.3,346.8"/>
</g>
<g class="dkf">
<polygon points="164.0,357.1 163.9,357.5 162.1,357.7 162.3,357.2"/>
</g>
<g class="dk">
<polygon points="174.6,357.1 174.4,356.4 175.7,356.4 175.9,357.2"/>
</g>
<g class="ltf">
<polygon points="164.0,347.1 163.0,347.7 161.8,347.3 163.0,346.5"/>
</g>
<g class="dkf">
<polygon points="167.3,356.7 167.1,356.8 165.7,356.9 166.0,356.6"/>
<polygon points="172.8,357.0 172.7,356.5 174.4,356.4 174.6,357.1"/>
<polygon points="169.6,356.7 169.4,356.6 170.7,356.4 171.0,356.6"/>
</g>
<g class="lt">
<polygon points="128.8,341.0 127.4,344.9 121.3,344.0 122.9,339.7"/>
</g>
<g class="ltf">
<polygon points="169.1,348.9 168.4,348.7 168.4,347.9 169.5,348.2"/>
</g>
<g class="dkf">
<polygon points="165.7,356.9 165.6,357.2 163.9,357.5 164.0,357.1"/>
<polygon points="168.3,356.7 168.0,356.4 168.4,356.4"/>
<polygon points="168.3,356.7 168.4,356.4 168.7,356.4"/>
</g>
<g class="ltf">
<polygon points="172.2,349.5 171.5,349.0 172.8,348.7 173.7,349.3"/>
<polygon points="168.4,348.7 167.6,348.5 167.2,347.7 168.4,347.9"/>
</g>
<g class="dkf">
<polygon points="168.3,356.7 167.7,356.5 168.0,356.4"/>
<polygon points="168.3,356.7 168.7,356.4 169.0,356.4"/>
</g>
<g class="ltf">
<polygon points="169.7,349.1 169.1,348.9 169.5,348.2 170.6,348.6"/>
</g>
<g class="dkf">
<polygon points="171.1,356.9 171.0,356.6 172.7,356.5 172.8,357.0"/>
<polygon points="168.3,356.7 167.5,356.6 167.7,356.5"/>
<polygon points="168.3,356.7 169.0,356.4 169.2,356.5"/>
</g>
<g class="lt">
<polygon points="161.8,347.3 161.0,348.0 156.0,346.8 157.3,345.6"/>
</g>
<g class="dkf">
<polygon points="168.3,356.7 167.3,356.7 167.5,356.6"/>
<polygon points="167.1,356.8 167.1,356.9 165.6,357.2 165.7,356.9"/>
<polygon points="168.3,356.7 169.2,356.5 169.4,356.6"/>
</g>
<g class="ltf">
<polygon points="167.6,348.5 167.0,348.6 166.1,347.7 167.2,347.7"/>
</g>
<g class="lt">
<polygon points="134.5,342.2 133.3,345.7 127.4,344.9 128.8,341.0"/>
</g>
<g class="dkf">
<polygon points="169.6,356.8 169.6,356.7 171.0,356.6 171.1,356.9"/>
<polygon points="168.3,356.7 167.1,356.8 167.3,356.7"/>
<polygon points="168.3,356.7 169.4,356.6 169.6,356.7"/>
</g>
<g class="ltf">
<polygon points="170.3,349.4 169.7,349.1 170.6,348.6 171.5,349.0"/>
<polygon points="174.4,350.0 173.7,349.3 174.9,349.2 175.7,350.0"/>
</g>
<g class="dkf">
<polygon points="168.3,356.7 167.1,356.9 167.1,356.8"/>
</g>
<g class="ltf">
<polygon points="165.2,347.9 164.5,348.3 163.0,347.7 164.0,347.1"/>
</g>
<g class="dkf">
<polygon points="168.3,356.7 169.6,356.7 169.6,356.8"/>
</g>
<g class="lt">
<polygon points="181.2,351.5 180.7,350.2 185.9,350.6 186.5,352.4"/>
</g>
<g class="dkf">
<polygon points="168.3,356.7 167.1,357.0 167.1,356.9"/>
<polygon points="168.3,356.7 169.6,356.8 169.6,357.0"/>
<polygon points="167.1,356.9 167.1,357.0 165.7,357.4 165.6,357.2"/>
</g>
<g class="lt">
<polygon points="140.1,343.4 139.1,346.5 133.3,345.7 134.5,342.2"/>
</g>
<g class="ltf">
<polygon points="167.0,348.6 166.4,348.7 165.2,347.9 166.1,347.7"/>
</g>
<g class="dkf">
<polygon points="169.6,357.0 169.6,356.8 171.1,356.9 171.0,357.3"/>
<polygon points="168.3,356.7 169.6,357.0 169.4,357.1"/>
<polygon points="168.3,356.7 167.3,357.1 167.1,357.0"/>
<polygon points="165.6,357.2 165.7,357.4 164.0,357.8 163.9,357.5"/>
<polygon points="168.3,356.7 169.4,357.1 169.2,357.2"/>
<polygon points="171.0,357.3 171.1,356.9 172.8,357.0 172.7,357.6"/>
<polygon points="168.3,356.7 167.5,357.1 167.3,357.1"/>
<polygon points="163.9,357.5 164.0,357.8 162.3,358.2 162.1,357.7"/>
<polygon points="168.3,356.7 169.2,357.2 169.0,357.3"/>
</g>
<g class="ltf">
<polygon points="170.7,349.6 170.3,349.4 171.5,349.0 172.2,349.5"/>
</g>
<g class="dk">
<polygon points="162.1,357.7 162.3,358.2 161.0,358.5 160.8,358.0"/>
</g>
<g class="dkf">
<polygon points="168.3,356.7 167.7,357.2 167.5,357.1"/>
<polygon points="172.7,357.6 172.8,357.0 174.6,357.1 174.4,358.0"/>
</g>
<g class="ltf">
<polygon points="172.7,349.9 172.2,349.5 173.7,349.3 174.4,350.0"/>
</g>
<g class="dkf">
<polygon points="168.3,356.7 169.0,357.3 168.7,357.3"/>
<polygon points="168.3,356.7 168.0,357.2 167.7,357.2"/>
</g>
<g class="ltf">
<polygon points="163.0,347.7 162.3,348.3 161.0,348.0 161.8,347.3"/>
</g>
<g class="dkf">
<polygon points="168.3,356.7 168.7,357.3 168.3,357.2"/>
<polygon points="168.3,356.7 168.3,357.2 168.0,357.2"/>
</g>
<g class="lt">
<polygon points="145.5,344.6 144.7,347.2 139.1,346.5 140.1,343.4"/>
</g>
<g class="dkf">
<polygon points="169.4,357.1 169.6,357.0 171.0,357.3 170.7,357.6"/>
<polygon points="167.1,357.0 167.3,357.1 166.0,357.5 165.7,357.4"/>
</g>
<g class="dk">
<polygon points="174.4,358.0 174.6,357.1 175.9,357.2 175.7,358.2"/>
<polygon points="160.8,358.0 161.0,358.5 156.0,359.6 155.5,358.7"/>
</g>
<g class="ltf">
<polygon points="166.4,348.7 166.0,348.9 164.5,348.3 165.2,347.9"/>
<polygon points="168.7,349.4 168.4,349.4 168.4,348.7 169.1,348.9"/>
<polygon points="168.4,349.4 168.0,349.3 167.6,348.5 168.4,348.7"/>
<polygon points="169.0,349.5 168.7,349.4 169.1,348.9 169.7,349.1"/>
</g>
<g class="lt">
<polygon points="175.9,350.7 175.7,350.0 180.7,350.2 181.2,351.5"/>
</g>
<g class="dk">
<polygon points="175.7,358.2 175.9,357.2 181.2,357.5 180.7,359.3"/>
</g>
<g class="ltf">
<polygon points="168.0,349.3 167.7,349.3 167.0,348.6 167.6,348.5"/>
<polygon points="164.5,348.3 164.0,348.8 162.3,348.3 163.0,347.7"/>
</g>
<g class="lt">
<polygon points="150.8,345.7 150.2,347.8 144.7,347.2 145.5,344.6"/>
</g>
<g class="dkf">
<polygon points="169.2,357.2 169.4,357.1 170.7,357.6 170.3,357.8"/>
<polygon points="167.3,357.1 167.5,357.1 166.4,357.6 166.0,357.5"/>
</g>
<g class="dk">
<polygon points="155.5,358.7 156.0,359.6 150.8,360.6 150.2,359.4"/>
</g>
<g class="ltf">
<polygon points="169.2,349.6 169.0,349.5 169.7,349.1 170.3,349.4"/>
</g>
<g class="dkf">
<polygon points="170.7,357.6 171.0,357.3 172.7,357.6 172.2,358.1"/>
<polygon points="165.7,357.4 166.0,357.5 164.5,357.9 164.0,357.8"/>
</g>
<g class="ltf">
<polygon points="171.0,349.9 170.7,349.6 172.2,349.5 172.7,349.9"/>
<polygon points="167.7,349.3 167.5,349.4 166.4,348.7 167.0,348.6"/>
</g>
<g class="dkf">
<polygon points="169.0,357.3 169.2,357.2 170.3,357.8 169.7,357.9"/>
</g>
<g class="ltf">
<polygon points="169.4,349.8 169.2,349.6 170.3,349.4 170.7,349.6"/>
</g>
<g class="dk">
<polygon points="180.7,359.3 181.2,357.5 186.5,357.8 185.9,360.3"/>
</g>
<g class="dkf">
<polygon points="167.5,357.1 167.7,357.2 167.0,357.7 166.4,357.6"/>
</g>
<g class="lt">
<polygon points="156.0,346.8 155.5,348.4 150.2,347.8 150.8,345.7"/>
</g>
<g class="ltf">
<polygon points="174.6,350.5 174.4,350.0 175.7,350.0 175.9,350.7"/>
<polygon points="166.0,348.9 165.7,349.2 164.0,348.8 164.5,348.3"/>
</g>
<g class="dk">
<polygon points="150.2,359.4 150.8,360.6 145.5,361.6 144.7,359.9"/>
</g>
<g class="ltf">
<polygon points="167.5,349.4 167.3,349.5 166.0,348.9 166.4,348.7"/>
</g>
<g class="dkf">
<polygon points="168.7,357.3 169.0,357.3 169.7,357.9 169.1,358.0"/>
<polygon points="172.2,358.1 172.7,357.6 174.4,358.0 173.7,358.6"/>
<polygon points="164.0,357.8 164.5,357.9 163.0,358.4 162.3,358.2"/>
<polygon points="167.7,357.2 168.0,357.2 167.6,357.8 167.0,357.7"/>
</g>
<g class="ltf">
<polygon points="172.8,350.3 172.7,349.9 174.4,350.0 174.6,350.5"/>
</g>
<g class="dkf">
<polygon points="168.3,357.2 168.7,357.3 169.1,358.0 168.3,357.9"/>
<polygon points="168.0,357.2 168.3,357.2 168.3,357.9 167.6,357.8"/>
</g>
<g class="ltf">
<polygon points="169.6,349.9 169.4,349.8 170.7,349.6 171.0,349.9"/>
</g>
<g class="lt">
<polygon points="161.0,348.0 160.8,348.9 155.5,348.4 156.0,346.8"/>
</g>
<g class="dkf">
<polygon points="170.3,357.8 170.7,357.6 172.2,358.1 171.5,358.4"/>
</g>
<g class="dk">
<polygon points="185.9,360.3 186.5,357.8 192.0,358.1 191.2,361.4"/>
</g>
<g class="dkf">
<polygon points="166.0,357.5 166.4,357.6 165.2,358.2 164.5,357.9"/>
</g>
<g class="ltf">
<polygon points="167.3,349.5 167.1,349.6 165.7,349.2 166.0,348.9"/>
<polygon points="171.1,350.2 171.0,349.9 172.7,349.9 172.8,350.3"/>
<polygon points="168.3,349.9 168.4,349.4 168.7,349.4"/>
<polygon points="168.3,349.9 168.0,349.3 168.4,349.4"/>
<polygon points="168.3,349.9 168.7,349.4 169.0,349.5"/>
</g>
<g class="dk">
<polygon points="144.7,359.9 145.5,361.6 140.0,362.3 139.1,360.1"/>
</g>
<g class="ltf">
<polygon points="168.3,349.9 167.7,349.3 168.0,349.3"/>
<polygon points="162.3,348.3 162.1,349.1 160.8,348.9 161.0,348.0"/>
<polygon points="168.3,349.9 169.0,349.5 169.2,349.6"/>
</g>
<g class="dk">
<polygon points="173.7,358.6 174.4,358.0 175.7,358.2 174.9,359.0"/>
</g>
<g class="ltf">
<polygon points="168.3,349.9 167.5,349.4 167.7,349.3"/>
</g>
<g class="dk">
<polygon points="162.3,358.2 163.0,358.4 161.8,358.7 161.0,358.5"/>
</g>
<g class="ltf">
<polygon points="168.3,349.9 169.2,349.6 169.4,349.8"/>
<polygon points="164.0,348.8 163.9,349.3 162.1,349.1 162.3,348.3"/>
<polygon points="169.6,350.0 169.6,349.9 171.0,349.9 171.1,350.2"/>
<polygon points="168.3,349.9 167.3,349.5 167.5,349.4"/>
<polygon points="168.3,349.9 169.4,349.8 169.6,349.9"/>
<polygon points="165.7,349.2 165.6,349.5 163.9,349.3 164.0,348.8"/>
<polygon points="168.3,349.9 167.1,349.6 167.3,349.5"/>
</g>
<g class="dk">
<polygon points="191.2,361.4 192.0,358.1 197.6,358.4 196.6,362.5"/>
</g>
<g class="ltf">
<polygon points="167.1,349.6 167.1,349.7 165.6,349.5 165.7,349.2"/>
<polygon points="168.3,349.9 169.6,349.9 169.6,350.0"/>
</g>
<g class="dkf">
<polygon points="169.7,357.9 170.3,357.8 171.5,358.4 170.6,358.7"/>
</g>
<g class="ltf">
<polygon points="168.3,349.9 167.1,349.7 167.1,349.6"/>
</g>
<g class="dkf">
<polygon points="166.4,357.6 167.0,357.7 166.1,358.3 165.2,358.2"/>
</g>
<g class="ltf">
<polygon points="168.3,349.9 169.6,350.0 169.6,350.1"/>
<polygon points="168.3,349.9 167.1,349.9 167.1,349.7"/>
</g>
<g class="dk">
<polygon points="139.1,360.1 140.0,362.3 134.5,362.9 133.3,360.1"/>
</g>
<g class="ltf">
<polygon points="169.6,350.1 169.6,350.0 171.1,350.2 171.0,350.4"/>
<polygon points="168.3,349.9 169.6,350.1 169.4,350.2"/>
</g>
<g class="dkf">
<polygon points="171.5,358.4 172.2,358.1 173.7,358.6 172.7,359.1"/>
</g>
<g class="ltf">
<polygon points="168.3,349.9 167.3,350.0 167.1,349.9"/>
</g>
<g class="dkf">
<polygon points="164.5,357.9 165.2,358.2 163.9,358.7 163.0,358.4"/>
</g>
<g class="ltf">
<polygon points="171.0,350.4 171.1,350.2 172.8,350.3 172.7,350.8"/>
<polygon points="167.1,349.7 167.1,349.9 165.7,349.9 165.6,349.5"/>
<polygon points="168.3,349.9 169.4,350.2 169.2,350.3"/>
</g>
<g class="dkf">
<polygon points="169.1,358.0 169.7,357.9 170.6,358.7 169.5,358.8"/>
</g>
<g class="dk">
<polygon points="196.6,362.5 197.6,358.4 203.4,358.7 202.2,363.6"/>
</g>
<g class="ltf">
<polygon points="168.3,349.9 167.5,350.1 167.3,350.0"/>
<polygon points="172.7,350.8 172.8,350.3 174.6,350.5 174.4,351.2"/>
<polygon points="168.3,349.9 169.2,350.3 169.0,350.4"/>
</g>
<g class="dkf">
<polygon points="167.0,357.7 167.6,357.8 167.2,358.5 166.1,358.3"/>
</g>
<g class="ltf">
<polygon points="168.3,349.9 167.7,350.2 167.5,350.1"/>
<polygon points="168.3,349.9 169.0,350.4 168.7,350.4"/>
<polygon points="168.3,349.9 168.0,350.3 167.7,350.2"/>
<polygon points="174.4,351.2 174.6,350.5 175.9,350.7 175.7,351.5"/>
<polygon points="168.3,349.9 168.7,350.4 168.3,350.4"/>
<polygon points="168.3,349.9 168.3,350.4 168.0,350.3"/>
<polygon points="165.6,349.5 165.7,349.9 164.0,349.9 163.9,349.3"/>
</g>
<g class="dk">
<polygon points="174.9,359.0 175.7,358.2 180.7,359.3 179.4,360.6"/>
</g>
<g class="ltf">
<polygon points="169.4,350.2 169.6,350.1 171.0,350.4 170.7,350.7"/>
</g>
<g class="dk">
<polygon points="161.0,358.5 161.8,358.7 157.2,360.1 156.0,359.6"/>
</g>
<g class="dkf">
<polygon points="168.3,357.9 169.1,358.0 169.5,358.8 168.3,358.6"/>
<polygon points="167.6,357.8 168.3,357.9 168.3,358.6 167.2,358.5"/>
</g>
<g class="lt">
<polygon points="175.7,351.5 175.9,350.7 181.2,351.5 180.7,352.8"/>
</g>
<g class="ltf">
<polygon points="167.1,349.9 167.3,350.0 166.0,350.1 165.7,349.9"/>
</g>
<g class="dk">
<polygon points="133.3,360.1 134.5,362.9 128.8,363.5 127.4,359.9"/>
</g>
<g class="ltf">
<polygon points="163.9,349.3 164.0,349.9 162.3,349.9 162.1,349.1"/>
</g>
<g class="dk">
<polygon points="202.2,363.6 203.4,358.7 209.3,359.0 207.9,364.8"/>
<polygon points="172.7,359.1 173.7,358.6 174.9,359.0 173.7,359.6"/>
</g>
<g class="ltf">
<polygon points="169.2,350.3 169.4,350.2 170.7,350.7 170.3,350.9"/>
</g>
<g class="lt">
<polygon points="180.7,352.8 181.2,351.5 186.5,352.4 185.9,354.3"/>
</g>
<g class="dkf">
<polygon points="170.6,358.7 171.5,358.4 172.7,359.1 171.4,359.5"/>
</g>
<g class="ltf">
<polygon points="162.1,349.1 162.3,349.9 161.0,349.9 160.8,348.9"/>
</g>
<g class="dk">
<polygon points="163.0,358.4 163.9,358.7 163.0,359.2 161.8,358.7"/>
</g>
<g class="ltf">
<polygon points="170.7,350.7 171.0,350.4 172.7,350.8 172.2,351.2"/>
<polygon points="167.3,350.0 167.5,350.1 166.4,350.4 166.0,350.1"/>
</g>
<g class="dkf">
<polygon points="165.2,358.2 166.1,358.3 165.2,358.9 163.9,358.7"/>
</g>
<g class="lt">
<polygon points="185.9,354.3 186.5,352.4 192.0,353.4 191.2,356.0"/>
</g>
<g class="ltf">
<polygon points="169.0,350.4 169.2,350.3 170.3,350.9 169.7,351.0"/>
<polygon points="165.7,349.9 166.0,350.1 164.5,350.3 164.0,349.9"/>
</g>
<g class="dk">
<polygon points="207.9,364.8 209.3,359.0 215.4,359.4 213.8,366.0"/>
</g>
<g class="ltf">
<polygon points="167.5,350.1 167.7,350.2 167.0,350.6 166.4,350.4"/>
</g>
<g class="dk">
<polygon points="127.4,359.9 128.8,363.5 122.9,364.1 121.3,359.7"/>
</g>
<g class="lt">
<polygon points="160.8,348.9 161.0,349.9 156.0,349.9 155.5,348.4"/>
</g>
<g class="ltf">
<polygon points="168.7,350.4 169.0,350.4 169.7,351.0 169.1,351.0"/>
</g>
<g class="lt">
<polygon points="191.2,356.0 192.0,353.4 197.6,354.2 196.6,357.4"/>
</g>
<g class="ltf">
<polygon points="172.2,351.2 172.7,350.8 174.4,351.2 173.7,351.7"/>
<polygon points="167.7,350.2 168.0,350.3 167.6,350.8 167.0,350.6"/>
</g>
<g class="dkf">
<polygon points="169.5,358.8 170.6,358.7 171.4,359.5 169.9,359.6"/>
</g>
<g class="ltf">
<polygon points="168.3,350.4 168.7,350.4 169.1,351.0 168.3,350.9"/>
<polygon points="168.0,350.3 168.3,350.4 168.3,350.9 167.6,350.8"/>
<polygon points="170.3,350.9 170.7,350.7 172.2,351.2 171.5,351.5"/>
</g>
<g class="dkf">
<polygon points="166.1,358.3 167.2,358.5 166.7,359.1 165.2,358.9"/>
</g>
<g class="dk">
<polygon points="213.8,366.0 215.4,359.4 221.6,359.7 219.7,367.2"/>
</g>
<g class="ltf">
<polygon points="164.0,349.9 164.5,350.3 163.0,350.4 162.3,349.9"/>
<polygon points="166.0,350.1 166.4,350.4 165.2,350.7 164.5,350.3"/>
</g>
<g class="lt">
<polygon points="196.6,357.4 197.6,354.2 203.4,354.4 202.2,358.3"/>
</g>
<g class="ltf">
<polygon points="173.7,351.7 174.4,351.2 175.7,351.5 174.9,352.1"/>
</g>
<g class="dk">
<polygon points="171.4,359.5 172.7,359.1 173.7,359.6 172.1,360.1"/>
</g>
<g class="dkf">
<polygon points="168.3,358.6 169.5,358.8 169.9,359.6 168.3,359.3"/>
<polygon points="167.2,358.5 168.3,358.6 168.3,359.3 166.7,359.1"/>
</g>
<g class="dk">
<polygon points="179.4,360.6 180.7,359.3 185.9,360.3 184.1,362.2"/>
<polygon points="121.3,359.7 122.9,364.1 116.9,365.1 115.1,359.8"/>
<polygon points="156.0,359.6 157.2,360.1 152.6,361.4 150.8,360.6"/>
<polygon points="163.9,358.7 165.2,358.9 164.5,359.4 163.0,359.2"/>
</g>
<g class="lt">
<polygon points="155.5,348.4 156.0,349.9 150.8,349.8 150.2,347.8"/>
</g>
<g class="ltf">
<polygon points="169.7,351.0 170.3,350.9 171.5,351.5 170.6,351.7"/>
</g>
<g class="dk">
<polygon points="219.7,367.2 221.6,359.7 227.9,360.1 225.8,368.4"/>
</g>
<g class="ltf">
<polygon points="162.3,349.9 163.0,350.4 161.8,350.6 161.0,349.9"/>
</g>
<g class="dk">
<polygon points="173.7,359.6 174.9,359.0 179.4,360.6 177.4,361.6"/>
</g>
<g class="ltf">
<polygon points="166.4,350.4 167.0,350.6 166.1,351.1 165.2,350.7"/>
<polygon points="171.5,351.5 172.2,351.2 173.7,351.7 172.7,352.1"/>
</g>
<g class="dk">
<polygon points="115.1,359.8 116.9,365.1 110.8,366.7 108.8,360.6"/>
<polygon points="161.8,358.7 163.0,359.2 159.3,360.8 157.2,360.1"/>
</g>
<g class="lt">
<polygon points="202.2,358.3 203.4,354.4 209.3,353.7 207.9,358.1"/>
</g>
<g class="ltf">
<polygon points="169.1,351.0 169.7,351.0 170.6,351.7 169.5,351.7"/>
</g>
<g class="dk">
<polygon points="169.9,359.6 171.4,359.5 172.1,360.1 170.3,360.2"/>
<polygon points="82.1,369.5 85.0,376.4 78.2,379.3 75.1,373.1"/>
</g>
<g class="ltf">
<polygon points="167.0,350.6 167.6,350.8 167.2,351.4 166.1,351.1"/>
</g>
<g class="lt">
<polygon points="174.9,352.1 175.7,351.5 180.7,352.8 179.4,353.9"/>
</g>
<g class="dk">
<polygon points="225.8,368.4 227.9,360.1 234.4,360.4 232.1,369.7"/>
<polygon points="108.8,360.6 110.8,366.7 104.6,368.8 102.3,362.1"/>
</g>
<g class="ltf">
<polygon points="164.5,350.3 165.2,350.7 163.9,351.0 163.0,350.4"/>
</g>
<g class="dk">
<polygon points="165.2,358.9 166.7,359.1 166.4,359.7 164.5,359.4"/>
<polygon points="89.0,366.9 91.7,373.9 85.0,376.4 82.1,369.5"/>
</g>
<g class="ltf">
<polygon points="168.3,350.9 169.1,351.0 169.5,351.7 168.3,351.6"/>
</g>
<g class="dk">
<polygon points="95.7,364.3 98.2,371.3 91.7,373.9 89.0,366.9"/>
<polygon points="102.3,362.1 104.6,368.8 98.2,371.3 95.7,364.3"/>
</g>
<g class="ltf">
<polygon points="167.6,350.8 168.3,350.9 168.3,351.6 167.2,351.4"/>
</g>
<g class="lt">
<polygon points="150.2,347.8 150.8,349.8 145.5,349.8 144.7,347.2"/>
</g>
<g class="dk">
<polygon points="168.3,359.3 169.9,359.6 170.3,360.2 168.3,359.9"/>
</g>
<g class="ltf">
<polygon points="172.7,352.1 173.7,351.7 174.9,352.1 173.7,352.7"/>
</g>
<g class="dk">
<polygon points="166.7,359.1 168.3,359.3 168.3,359.9 166.4,359.7"/>
</g>
<g class="ltf">
<polygon points="170.6,351.7 171.5,351.5 172.7,352.1 171.4,352.4"/>
</g>
<g class="dk">
<polygon points="232.1,369.7 234.4,360.4 241.0,360.8 238.4,371.0"/>
<polygon points="184.1,362.2 185.9,360.3 191.2,361.4 188.8,363.8"/>
</g>
<g class="lt">
<polygon points="161.0,349.9 161.8,350.6 157.2,351.0 156.0,349.9"/>
</g>
<g class="ltf">
<polygon points="165.2,350.7 166.1,351.1 165.2,351.5 163.9,351.0"/>
</g>
<g class="dk">
<polygon points="150.8,360.6 152.6,361.4 147.8,362.7 145.5,361.6"/>
</g>
<g class="ltf">
<polygon points="163.0,350.4 163.9,351.0 163.0,351.2 161.8,350.6"/>
</g>
<g class="lt">
<polygon points="207.9,358.1 209.3,353.7 215.4,352.0 213.8,356.9"/>
<polygon points="144.7,347.2 145.5,349.8 140.0,349.6 139.1,346.5"/>
</g>
<g class="dk">
<polygon points="238.4,371.0 241.0,360.8 247.7,361.2 245.0,372.3"/>
</g>
<g class="ltf">
<polygon points="169.5,351.7 170.6,351.7 171.4,352.4 169.9,352.4"/>
</g>
<g class="dk">
<polygon points="172.1,360.1 173.7,359.6 177.4,361.6 174.7,362.4"/>
</g>
<g class="ltf">
<polygon points="166.1,351.1 167.2,351.4 166.7,351.9 165.2,351.5"/>
</g>
<g class="lt">
<polygon points="179.4,353.9 180.7,352.8 185.9,354.3 184.1,355.9"/>
</g>
<g class="dk">
<polygon points="163.0,359.2 164.5,359.4 161.9,361.3 159.3,360.8"/>
</g>
<g class="ltf">
<polygon points="171.4,352.4 172.7,352.1 173.7,352.7 172.1,353.0"/>
<polygon points="168.3,351.6 169.5,351.7 169.9,352.4 168.3,352.2"/>
<polygon points="167.2,351.4 168.3,351.6 168.3,352.2 166.7,351.9"/>
</g>
<g class="dk">
<polygon points="245.0,372.3 247.7,361.2 254.6,361.5 251.6,373.7"/>
</g>
<g class="ltf">
<polygon points="163.9,351.0 165.2,351.5 164.5,351.8 163.0,351.2"/>
</g>
<g class="lt">
<polygon points="139.1,346.5 140.0,349.6 134.5,349.2 133.3,345.7"/>
<polygon points="173.7,352.7 174.9,352.1 179.4,353.9 177.4,354.8"/>
</g>
<g class="dk">
<polygon points="177.4,361.6 179.4,360.6 184.1,362.2 181.2,363.6"/>
<polygon points="251.6,373.7 254.6,361.5 261.6,361.9 258.4,375.0"/>
</g>
<g class="lt">
<polygon points="213.8,356.9 215.4,352.0 221.6,349.4 219.7,354.7"/>
</g>
<g class="dk">
<polygon points="170.3,360.2 172.1,360.1 174.7,362.4 171.6,362.6"/>
</g>
<g class="ltf">
<polygon points="169.9,352.4 171.4,352.4 172.1,353.0 170.3,353.0"/>
</g>
<g class="dk">
<polygon points="188.8,363.8 191.2,361.4 196.6,362.5 193.7,365.5"/>
<polygon points="157.2,360.1 159.3,360.8 155.5,362.5 152.6,361.4"/>
<polygon points="145.5,361.6 147.8,362.7 143.0,364.0 140.0,362.3"/>
<polygon points="164.5,359.4 166.4,359.7 165.0,361.7 161.9,361.3"/>
</g>
<g class="ltf">
<polygon points="165.2,351.5 166.7,351.9 166.4,352.3 164.5,351.8"/>
</g>
<g class="lt">
<polygon points="156.0,349.9 157.2,351.0 152.6,351.3 150.8,349.8"/>
<polygon points="161.8,350.6 163.0,351.2 159.3,352.0 157.2,351.0"/>
<polygon points="184.1,355.9 185.9,354.3 191.2,356.0 188.8,358.0"/>
</g>
<g class="ltf">
<polygon points="168.3,352.2 169.9,352.4 170.3,353.0 168.3,352.7"/>
</g>
<g class="lt">
<polygon points="133.3,345.7 134.5,349.2 128.8,348.7 127.4,344.9"/>
</g>
<g class="ltf">
<polygon points="166.7,351.9 168.3,352.2 168.3,352.7 166.4,352.3"/>
</g>
<g class="dk">
<polygon points="168.3,359.9 170.3,360.2 171.6,362.6 168.3,362.1"/>
<polygon points="166.4,359.7 168.3,359.9 168.3,362.1 165.0,361.7"/>
</g>
<g class="lt">
<polygon points="172.1,353.0 173.7,352.7 177.4,354.8 174.7,355.2"/>
<polygon points="127.4,344.9 128.8,348.7 122.9,348.1 121.3,344.0"/>
</g>
<g class="dk">
<polygon points="193.7,365.5 196.6,362.5 202.2,363.6 198.7,367.2"/>
</g>
<g class="lt">
<polygon points="219.7,354.7 221.6,349.4 227.9,346.3 225.8,352.0"/>
<polygon points="188.8,358.0 191.2,356.0 196.6,357.4 193.7,359.9"/>
<polygon points="163.0,351.2 164.5,351.8 161.9,353.0 159.3,352.0"/>
</g>
<g class="dk">
<polygon points="140.0,362.3 143.0,364.0 138.0,365.3 134.5,362.9"/>
</g>
<g class="lt">
<polygon points="177.4,354.8 179.4,353.9 184.1,355.9 181.2,357.1"/>
</g>
<g class="dk">
<polygon points="174.7,362.4 177.4,361.6 181.2,363.6 177.4,364.8"/>
</g>
<g class="lt">
<polygon points="150.8,349.8 152.6,351.3 147.8,351.6 145.5,349.8"/>
</g>
<g class="dk">
<polygon points="181.2,363.6 184.1,362.2 188.8,363.8 185.0,365.7"/>
</g>
<g class="lt">
<polygon points="170.3,353.0 172.1,353.0 174.7,355.2 171.6,355.2"/>
</g>
<g class="dk">
<polygon points="159.3,360.8 161.9,361.3 159.2,363.2 155.5,362.5"/>
</g>
<g class="lt">
<polygon points="121.3,344.0 122.9,348.1 116.9,347.2 115.1,343.0"/>
</g>
<g class="dk">
<polygon points="152.6,361.4 155.5,362.5 151.6,364.2 147.8,362.7"/>
</g>
<g class="lt">
<polygon points="164.5,351.8 166.4,352.3 165.0,353.8 161.9,353.0"/>
<polygon points="168.3,352.7 170.3,353.0 171.6,355.2 168.3,354.6"/>
<polygon points="157.2,351.0 159.3,352.0 155.5,352.8 152.6,351.3"/>
</g>
<g class="dk">
<polygon points="198.7,367.2 202.2,363.6 207.9,364.8 203.8,369.0"/>
</g>
<g class="lt">
<polygon points="166.4,352.3 168.3,352.7 168.3,354.6 165.0,353.8"/>
<polygon points="225.8,352.0 227.9,346.3 234.4,343.1 232.1,349.2"/>
<polygon points="193.7,359.9 196.6,357.4 202.2,358.3 198.7,361.3"/>
<polygon points="115.1,343.0 116.9,347.2 110.8,346.2 108.8,342.0"/>
</g>
<g class="dk">
<polygon points="134.5,362.9 138.0,365.3 132.8,366.8 128.8,363.5"/>
<polygon points="171.6,362.6 174.7,362.4 177.4,364.8 173.0,365.0"/>
<polygon points="161.9,361.3 165.0,361.7 163.6,363.8 159.2,363.2"/>
</g>
<g class="lt">
<polygon points="145.5,349.8 147.8,351.6 143.0,351.8 140.0,349.6"/>
<polygon points="181.2,357.1 184.1,355.9 188.8,358.0 185.0,359.4"/>
<polygon points="174.7,355.2 177.4,354.8 181.2,357.1 177.4,357.6"/>
<polygon points="108.8,342.0 110.8,346.2 104.6,344.9 102.3,340.8"/>
</g>
<g class="dk">
<polygon points="185.0,365.7 188.8,363.8 193.7,365.5 189.0,367.8"/>
<polygon points="168.3,362.1 171.6,362.6 173.0,365.0 168.3,364.3"/>
<polygon points="203.8,369.0 207.9,364.8 213.8,366.0 209.0,370.8"/>
<polygon points="165.0,361.7 168.3,362.1 168.3,364.3 163.6,363.8"/>
</g>
<g class="lt">
<polygon points="232.1,349.2 234.4,343.1 241.0,340.1 238.4,346.8"/>
<polygon points="198.7,361.3 202.2,358.3 207.9,358.1 203.8,361.9"/>
</g>
<g class="dk">
<polygon points="147.8,362.7 151.6,364.2 147.6,366.0 143.0,364.0"/>
<polygon points="177.4,364.8 181.2,363.6 185.0,365.7 180.1,367.2"/>
</g>
<g class="lt">
<polygon points="159.3,352.0 161.9,353.0 159.2,354.1 155.5,352.8"/>
</g>
<g class="dk">
<polygon points="128.8,363.5 132.8,366.8 127.6,368.4 122.9,364.1"/>
<polygon points="155.5,362.5 159.2,363.2 156.5,365.2 151.6,364.2"/>
</g>
<g class="lt">
<polygon points="102.3,340.8 104.6,344.9 98.2,343.4 95.7,339.6"/>
<polygon points="152.6,351.3 155.5,352.8 151.6,353.4 147.8,351.6"/>
<polygon points="171.6,355.2 174.7,355.2 177.4,357.6 173.0,357.4"/>
<polygon points="140.0,349.6 143.0,351.8 138.0,351.9 134.5,349.2"/>
</g>
<g class="dk">
<polygon points="209.0,370.8 213.8,366.0 219.7,367.2 214.4,372.6"/>
</g>
<g class="lt">
<polygon points="185.0,359.4 188.8,358.0 193.7,359.9 189.0,361.7"/>
<polygon points="238.4,346.8 241.0,340.1 247.7,337.5 245.0,344.7"/>
<polygon points="161.9,353.0 165.0,353.8 163.6,355.3 159.2,354.1"/>
</g>
<g class="dk">
<polygon points="122.9,364.1 127.6,368.4 122.2,370.2 116.9,365.1"/>
</g>
<g class="lt">
<polygon points="95.7,339.6 98.2,343.4 91.7,341.7 89.0,338.3"/>
<polygon points="168.3,354.6 171.6,355.2 173.0,357.4 168.3,356.4"/>
</g>
<g class="dk">
<polygon points="189.0,367.8 193.7,365.5 198.7,367.2 193.1,370.0"/>
</g>
<g class="lt">
<polygon points="203.8,361.9 207.9,358.1 213.8,356.9 209.0,361.5"/>
<polygon points="177.4,357.6 181.2,357.1 185.0,359.4 180.1,360.0"/>
<polygon points="165.0,353.8 168.3,354.6 168.3,356.4 163.6,355.3"/>
</g>
<g class="dk">
<polygon points="173.0,365.0 177.4,364.8 180.1,367.2 174.4,367.5"/>
<polygon points="143.0,364.0 147.6,366.0 143.5,367.9 138.0,365.3"/>
<polygon points="159.2,363.2 163.6,363.8 162.2,365.9 156.5,365.2"/>
<polygon points="214.4,372.6 219.7,367.2 225.8,368.4 219.9,374.5"/>
</g>
<g class="lt">
<polygon points="245.0,344.7 247.7,337.5 254.6,335.2 251.6,343.1"/>
<polygon points="134.5,349.2 138.0,351.9 132.8,351.7 128.8,348.7"/>
<polygon points="89.0,338.3 91.7,341.7 85.0,339.8 82.1,336.9"/>
</g>
<g class="dk">
<polygon points="180.1,367.2 185.0,365.7 189.0,367.8 182.9,369.7"/>
<polygon points="116.9,365.1 122.2,370.2 116.7,372.2 110.8,366.7"/>
<polygon points="168.3,364.3 173.0,365.0 174.4,367.5 168.3,366.6"/>
</g>
<g class="lt">
<polygon points="147.8,351.6 151.6,353.4 147.6,354.0 143.0,351.8"/>
<polygon points="155.5,352.8 159.2,354.1 156.5,355.1 151.6,353.4"/>
</g>
<g class="dk">
<polygon points="163.6,363.8 168.3,364.3 168.3,366.6 162.2,365.9"/>
<polygon points="151.6,364.2 156.5,365.2 153.7,367.2 147.6,366.0"/>
</g>
<g class="lt">
<polygon points="189.0,361.7 193.7,359.9 198.7,361.3 193.1,363.6"/>
<polygon points="251.6,343.1 254.6,335.2 261.6,333.0 258.4,341.5"/>
</g>
<g class="dk">
<polygon points="219.9,374.5 225.8,368.4 232.1,369.7 225.5,376.4"/>
</g>
<g class="lt">
<polygon points="82.1,336.9 85.0,339.8 78.2,337.6 75.1,335.4"/>
</g>
<g class="dk">
<polygon points="193.1,370.0 198.7,367.2 203.8,369.0 197.3,372.2"/>
</g>
<g class="lt">
<polygon points="209.0,361.5 213.8,356.9 219.7,354.7 214.4,360.2"/>
<polygon points="173.0,357.4 177.4,357.6 180.1,360.0 174.4,359.7"/>
</g>
<g class="dk">
<polygon points="110.8,366.7 116.7,372.2 111.1,374.3 104.6,368.8"/>
</g>
<g class="lt">
<polygon points="128.8,348.7 132.8,351.7 127.6,351.4 122.9,348.1"/>
</g>
<g class="dk">
<polygon points="138.0,365.3 143.5,367.9 139.3,369.9 132.8,366.8"/>
</g>
<g class="lt">
<polygon points="180.1,360.0 185.0,359.4 189.0,361.7 182.9,362.3"/>
<polygon points="159.2,354.1 163.6,355.3 162.2,356.6 156.5,355.1"/>
</g>
<g class="dk">
<polygon points="174.4,367.5 180.1,367.2 182.9,369.7 175.9,370.0"/>
</g>
<g class="lt">
<polygon points="168.3,356.4 173.0,357.4 174.4,359.7 168.3,358.2"/>
</g>
<g class="dk">
<polygon points="225.5,376.4 232.1,369.7 238.4,371.0 231.2,378.4"/>
</g>
<g class="lt">
<polygon points="163.6,355.3 168.3,356.4 168.3,358.2 162.2,356.6"/>
</g>
<g class="dk">
<polygon points="182.9,369.7 189.0,367.8 193.1,370.0 185.8,372.3"/>
<polygon points="104.6,368.8 111.1,374.3 105.4,376.3 98.2,371.3"/>
</g>
<g class="lt">
<polygon points="143.0,351.8 147.6,354.0 143.5,354.4 138.0,351.9"/>
</g>
<g class="dk">
<polygon points="156.5,365.2 162.2,365.9 160.7,368.1 153.7,367.2"/>
</g>
<g class="lt">
<polygon points="193.1,363.6 198.7,361.3 203.8,361.9 197.3,364.9"/>
</g>
<g class="dk">
<polygon points="197.3,372.2 203.8,369.0 209.0,370.8 201.5,374.5"/>
<polygon points="147.6,366.0 153.7,367.2 150.8,369.3 143.5,367.9"/>
</g>
<g class="lt">
<polygon points="214.4,360.2 219.7,354.7 225.8,352.0 219.9,358.5"/>
<polygon points="151.6,353.4 156.5,355.1 153.7,356.0 147.6,354.0"/>
<polygon points="122.9,348.1 127.6,351.4 122.2,350.9 116.9,347.2"/>
</g>
<g class="dk">
<polygon points="168.3,366.6 174.4,367.5 175.9,370.0 168.3,369.0"/>
<polygon points="132.8,366.8 139.3,369.9 135.0,371.9 127.6,368.4"/>
<polygon points="231.2,378.4 238.4,371.0 245.0,372.3 237.0,380.4"/>
<polygon points="162.2,365.9 168.3,366.6 168.3,369.0 160.7,368.1"/>
<polygon points="98.2,371.3 105.4,376.3 99.6,378.4 91.7,373.9"/>
</g>
<g class="lt">
<polygon points="174.4,359.7 180.1,360.0 182.9,362.3 175.9,361.9"/>
<polygon points="182.9,362.3 189.0,361.7 193.1,363.6 185.8,364.5"/>
</g>
<g class="dk">
<polygon points="91.7,373.9 99.6,378.4 93.6,380.4 85.0,376.4"/>
</g>
<g class="lt">
<polygon points="138.0,351.9 143.5,354.4 139.3,354.7 132.8,351.7"/>
<polygon points="197.3,364.9 203.8,361.9 209.0,361.5 201.5,365.5"/>
<polygon points="116.9,347.2 122.2,350.9 116.7,350.2 110.8,346.2"/>
</g>
<g class="dk">
<polygon points="237.0,380.4 245.0,372.3 251.6,373.7 242.9,382.4"/>
<polygon points="201.5,374.5 209.0,370.8 214.4,372.6 205.9,376.9"/>
</g>
<g class="lt">
<polygon points="156.5,355.1 162.2,356.6 160.7,357.9 153.7,356.0"/>
</g>
<g class="dk">
<polygon points="175.9,370.0 182.9,369.7 185.8,372.3 177.4,372.7"/>
<polygon points="185.8,372.3 193.1,370.0 197.3,372.2 188.8,374.9"/>
</g>
<g class="lt">
<polygon points="219.9,358.5 225.8,352.0 232.1,349.2 225.5,356.7"/>
<polygon points="168.3,358.2 174.4,359.7 175.9,361.9 168.3,359.9"/>
</g>
<g class="dk">
<polygon points="127.6,368.4 135.0,371.9 130.6,374.0 122.2,370.2"/>
<polygon points="153.7,367.2 160.7,368.1 159.2,370.4 150.8,369.3"/>
<polygon points="143.5,367.9 150.8,369.3 147.8,371.5 139.3,369.9"/>
</g>
<g class="lt">
<polygon points="162.2,356.6 168.3,358.2 168.3,359.9 160.7,357.9"/>
<polygon points="147.6,354.0 153.7,356.0 150.8,356.8 143.5,354.4"/>
</g>
<g class="dk">
<polygon points="85.0,376.4 93.6,380.4 87.5,382.4 78.2,379.3"/>
<polygon points="242.9,382.4 251.6,373.7 258.4,375.0 249.0,384.5"/>
<polygon points="168.3,369.0 175.9,370.0 177.4,372.7 168.3,371.4"/>
</g>
<g class="lt">
<polygon points="110.8,346.2 116.7,350.2 111.1,349.3 104.6,344.9"/>
</g>
<g class="dk">
<polygon points="160.7,368.1 168.3,369.0 168.3,371.4 159.2,370.4"/>
</g>
<g class="lt">
<polygon points="185.8,364.5 193.1,363.6 197.3,364.9 188.8,366.3"/>
<polygon points="175.9,361.9 182.9,362.3 185.8,364.5 177.4,364.1"/>
</g>
<g class="dk">
<polygon points="205.9,376.9 214.4,372.6 219.9,374.5 210.4,379.2"/>
</g>
<g class="lt">
<polygon points="132.8,351.7 139.3,354.7 135.0,354.9 127.6,351.4"/>
<polygon points="201.5,365.5 209.0,361.5 214.4,360.2 205.9,365.6"/>
<polygon points="225.5,356.7 232.1,349.2 238.4,346.8 231.2,355.2"/>
</g>
<g class="dk">
<polygon points="122.2,370.2 130.6,374.0 126.2,376.2 116.7,372.2"/>
<polygon points="188.8,374.9 197.3,372.2 201.5,374.5 191.8,377.5"/>
<polygon points="177.4,372.7 185.8,372.3 188.8,374.9 178.9,375.3"/>
</g>
<g class="lt">
<polygon points="153.7,356.0 160.7,357.9 159.2,359.1 150.8,356.8"/>
</g>
<g class="dk">
<polygon points="139.3,369.9 147.8,371.5 144.8,373.7 135.0,371.9"/>
<polygon points="150.8,369.3 159.2,370.4 157.7,372.7 147.8,371.5"/>
</g>
<g class="lt">
<polygon points="168.3,359.9 175.9,361.9 177.4,364.1 168.3,361.6"/>
<polygon points="104.6,344.9 111.1,349.3 105.4,348.1 98.2,343.4"/>
<polygon points="143.5,354.4 150.8,356.8 147.8,357.6 139.3,354.7"/>
</g>
<g class="dk">
<polygon points="210.4,379.2 219.9,374.5 225.5,376.4 214.9,381.7"/>
</g>
<g class="lt">
<polygon points="160.7,357.9 168.3,359.9 168.3,361.6 159.2,359.1"/>
<polygon points="231.2,355.2 238.4,346.8 245.0,344.7 237.0,354.1"/>
<polygon points="188.8,366.3 197.3,364.9 201.5,365.5 191.8,367.8"/>
</g>
<g class="dk">
<polygon points="116.7,372.2 126.2,376.2 121.6,378.3 111.1,374.3"/>
<polygon points="168.3,371.4 177.4,372.7 178.9,375.3 168.3,373.8"/>
</g>
<g class="lt">
<polygon points="127.6,351.4 135.0,354.9 130.6,354.8 122.2,350.9"/>
<polygon points="177.4,364.1 185.8,364.5 188.8,366.3 178.9,366.1"/>
</g>
<g class="dk">
<polygon points="159.2,370.4 168.3,371.4 168.3,373.8 157.7,372.7"/>
</g>
<g class="lt">
<polygon points="205.9,365.6 214.4,360.2 219.9,358.5 210.4,365.4"/>
</g>
<g class="dk">
<polygon points="191.8,377.5 201.5,374.5 205.9,376.9 194.9,380.3"/>
</g>
<g class="lt">
<polygon points="98.2,343.4 105.4,348.1 99.6,346.7 91.7,341.7"/>
</g>
<g class="dk">
<polygon points="178.9,375.3 188.8,374.9 191.8,377.5 180.4,378.1"/>
<polygon points="135.0,371.9 144.8,373.7 141.7,375.9 130.6,374.0"/>
<polygon points="214.9,381.7 225.5,376.4 231.2,378.4 219.6,384.2"/>
</g>
<g class="lt">
<polygon points="237.0,354.1 245.0,344.7 251.6,343.1 242.9,353.4"/>
<polygon points="150.8,356.8 159.2,359.1 157.7,360.2 147.8,357.6"/>
</g>
<g class="dk">
<polygon points="147.8,371.5 157.7,372.7 156.1,375.0 144.8,373.7"/>
<polygon points="111.1,374.3 121.6,378.3 116.9,380.5 105.4,376.3"/>
</g>
<g class="lt">
<polygon points="139.3,354.7 147.8,357.6 144.8,358.1 135.0,354.9"/>
<polygon points="168.3,361.6 177.4,364.1 178.9,366.1 168.3,363.3"/>
<polygon points="122.2,350.9 130.6,354.8 126.2,354.5 116.7,350.2"/>
<polygon points="191.8,367.8 201.5,365.5 205.9,365.6 194.9,369.1"/>
<polygon points="159.2,359.1 168.3,361.6 168.3,363.3 157.7,360.2"/>
<polygon points="91.7,341.7 99.6,346.7 93.6,345.0 85.0,339.8"/>
</g>
<g class="dk">
<polygon points="194.9,380.3 205.9,376.9 210.4,379.2 198.0,383.1"/>
</g>
<g class="lt">
<polygon points="210.4,365.4 219.9,358.5 225.5,356.7 214.9,365.1"/>
</g>
<g class="dk">
<polygon points="168.3,373.8 178.9,375.3 180.4,378.1 168.3,376.4"/>
</g>
<g class="lt">
<polygon points="178.9,366.1 188.8,366.3 191.8,367.8 180.4,368.1"/>
</g>
<g class="dk">
<polygon points="219.6,384.2 231.2,378.4 237.0,380.4 224.3,386.7"/>
<polygon points="157.7,372.7 168.3,373.8 168.3,376.4 156.1,375.0"/>
</g>
<g class="lt">
<polygon points="242.9,353.4 251.6,343.1 258.4,341.5 249.0,352.8"/>
</g>
<g class="dk">
<polygon points="130.6,374.0 141.7,375.9 138.5,378.2 126.2,376.2"/>
<polygon points="105.4,376.3 116.9,380.5 112.1,382.7 99.6,378.4"/>
<polygon points="180.4,378.1 191.8,377.5 194.9,380.3 182.0,380.9"/>
<polygon points="144.8,373.7 156.1,375.0 154.5,377.5 141.7,375.9"/>
</g>
<g class="lt">
<polygon points="147.8,357.6 157.7,360.2 156.1,361.3 144.8,358.1"/>
<polygon points="85.0,339.8 93.6,345.0 87.5,343.0 78.2,337.6"/>
<polygon points="135.0,354.9 144.8,358.1 141.7,358.6 130.6,354.8"/>
<polygon points="116.7,350.2 126.2,354.5 121.6,354.1 111.1,349.3"/>
<polygon points="168.3,363.3 178.9,366.1 180.4,368.1 168.3,364.9"/>
</g>
<g class="dk">
<polygon points="224.3,386.7 237.0,380.4 242.9,382.4 229.2,389.3"/>
<polygon points="198.0,383.1 210.4,379.2 214.9,381.7 201.2,385.9"/>
</g>
<g class="lt">
<polygon points="214.9,365.1 225.5,356.7 231.2,355.2 219.6,365.0"/>
<polygon points="194.9,369.1 205.9,365.6 210.4,365.4 198.0,370.2"/>
</g>
<g class="dk">
<polygon points="99.6,378.4 112.1,382.7 107.3,384.9 93.6,380.4"/>
</g>
<g class="lt">
<polygon points="157.7,360.2 168.3,363.3 168.3,364.9 156.1,361.3"/>
</g>
<g class="dk">
<polygon points="168.3,376.4 180.4,378.1 182.0,380.9 168.2,378.9"/>
</g>
<g class="lt">
<polygon points="180.4,368.1 191.8,367.8 194.9,369.1 182.0,370.0"/>
</g>
<g class="dk">
<polygon points="126.2,376.2 138.5,378.2 135.2,380.5 121.6,378.3"/>
<polygon points="156.1,375.0 168.3,376.4 168.2,378.9 154.5,377.5"/>
<polygon points="182.0,380.9 194.9,380.3 198.0,383.1 183.6,383.8"/>
<polygon points="229.2,389.3 242.9,382.4 249.0,384.5 234.1,392.0"/>
</g>
<g class="lt">
<polygon points="111.1,349.3 121.6,354.1 116.9,353.4 105.4,348.1"/>
</g>
<g class="dk">
<polygon points="141.7,375.9 154.5,377.5 152.8,379.9 138.5,378.2"/>
</g>
<g class="lt">
<polygon points="130.6,354.8 141.7,358.6 138.5,358.9 126.2,354.5"/>
</g>
<g class="dk">
<polygon points="201.2,385.9 214.9,381.7 219.6,384.2 204.5,388.8"/>
<polygon points="93.6,380.4 107.3,384.9 102.3,387.2 87.5,382.4"/>
</g>
<g class="lt">
<polygon points="144.8,358.1 156.1,361.3 154.5,362.2 141.7,358.6"/>
<polygon points="219.6,365.0 231.2,355.2 237.0,354.1 224.3,365.2"/>
<polygon points="198.0,370.2 210.4,365.4 214.9,365.1 201.2,371.3"/>
<polygon points="168.3,364.9 180.4,368.1 182.0,370.0 168.2,366.5"/>
</g>
<g class="dk">
<polygon points="121.6,378.3 135.2,380.5 131.9,382.9 116.9,380.5"/>
<polygon points="168.2,378.9 182.0,380.9 183.6,383.8 168.2,381.6"/>
</g>
<g class="lt">
<polygon points="156.1,361.3 168.3,364.9 168.2,366.5 154.5,362.2"/>
<polygon points="182.0,370.0 194.9,369.1 198.0,370.2 183.6,372.0"/>
</g>
<g class="dk">
<polygon points="154.5,377.5 168.2,378.9 168.2,381.6 152.8,379.9"/>
<polygon points="183.6,383.8 198.0,383.1 201.2,385.9 185.3,386.7"/>
</g>
<g class="lt">
<polygon points="105.4,348.1 116.9,353.4 112.1,352.4 99.6,346.7"/>
</g>
<g class="dk">
<polygon points="204.5,388.8 219.6,384.2 224.3,386.7 207.9,391.8"/>
</g>
<g class="lt">
<polygon points="224.3,365.2 237.0,354.1 242.9,353.4 229.2,365.8"/>
</g>
<g class="dk">
<polygon points="138.5,378.2 152.8,379.9 151.1,382.4 135.2,380.5"/>
</g>
<g class="lt">
<polygon points="126.2,354.5 138.5,358.9 135.2,359.0 121.6,354.1"/>
<polygon points="141.7,358.6 154.5,362.2 152.8,363.1 138.5,358.9"/>
<polygon points="201.2,371.3 214.9,365.1 219.6,365.0 204.5,372.5"/>
</g>
<g class="dk">
<polygon points="116.9,380.5 131.9,382.9 128.5,385.3 112.1,382.7"/>
</g>
<g class="lt">
<polygon points="168.2,366.5 182.0,370.0 183.6,372.0 168.2,368.2"/>
</g>
<g class="dk">
<polygon points="168.2,381.6 183.6,383.8 185.3,386.7 168.2,384.3"/>
</g>
<g class="lt">
<polygon points="183.6,372.0 198.0,370.2 201.2,371.3 185.3,374.0"/>
<polygon points="154.5,362.2 168.2,366.5 168.2,368.2 152.8,363.1"/>
</g>
<g class="dk">
<polygon points="185.3,386.7 201.2,385.9 204.5,388.8 187.0,389.7"/>
</g>
<g class="lt">
<polygon points="99.6,346.7 112.1,352.4 107.3,351.2 93.6,345.0"/>
</g>
<g class="dk">
<polygon points="152.8,379.9 168.2,381.6 168.2,384.3 151.1,382.4"/>
</g>
<g class="lt">
<polygon points="229.2,365.8 242.9,353.4 249.0,352.8 234.1,366.4"/>
</g>
<g class="dk">
<polygon points="207.9,391.8 224.3,386.7 229.2,389.3 211.3,394.8"/>
<polygon points="135.2,380.5 151.1,382.4 149.4,385.0 131.9,382.9"/>
</g>
<g class="lt">
<polygon points="121.6,354.1 135.2,359.0 131.9,358.9 116.9,353.4"/>
</g>
<g class="dk">
<polygon points="112.1,382.7 128.5,385.3 125.1,387.8 107.3,384.9"/>
</g>
<g class="lt">
<polygon points="204.5,372.5 219.6,365.0 224.3,365.2 207.9,374.0"/>
<polygon points="138.5,358.9 152.8,363.1 151.1,363.9 135.2,359.0"/>
<polygon points="168.2,368.2 183.6,372.0 185.3,374.0 168.2,369.9"/>
<polygon points="93.6,345.0 107.3,351.2 102.3,349.8 87.5,343.0"/>
</g>
<g class="dk">
<polygon points="168.2,384.3 185.3,386.7 187.0,389.7 168.2,387.0"/>
</g>
<g class="lt">
<polygon points="185.3,374.0 201.2,371.3 204.5,372.5 187.0,376.2"/>
</g>
<g class="dk">
<polygon points="187.0,389.7 204.5,388.8 207.9,391.8 188.7,392.8"/>
<polygon points="211.3,394.8 229.2,389.3 234.1,392.0 214.8,397.9"/>
<polygon points="151.1,382.4 168.2,384.3 168.2,387.0 149.4,385.0"/>
</g>
<g class="lt">
<polygon points="152.8,363.1 168.2,368.2 168.2,369.9 151.1,363.9"/>
</g>
<g class="dk">
<polygon points="131.9,382.9 149.4,385.0 147.7,387.6 128.5,385.3"/>
<polygon points="107.3,384.9 125.1,387.8 121.6,390.3 102.3,387.2"/>
</g>
<g class="lt">
<polygon points="116.9,353.4 131.9,358.9 128.5,358.6 112.1,352.4"/>
<polygon points="207.9,374.0 224.3,365.2 229.2,365.8 211.3,375.7"/>
<polygon points="135.2,359.0 151.1,363.9 149.4,364.6 131.9,358.9"/>
<polygon points="168.2,369.9 185.3,374.0 187.0,376.2 168.2,371.7"/>
</g>
<g class="dk">
<polygon points="188.7,392.8 207.9,391.8 211.3,394.8 190.5,395.9"/>
<polygon points="168.2,387.0 187.0,389.7 188.7,392.8 168.2,389.8"/>
</g>
<g class="lt">
<polygon points="187.0,376.2 204.5,372.5 207.9,374.0 188.7,378.5"/>
</g>
<g class="dk">
<polygon points="149.4,385.0 168.2,387.0 168.2,389.8 147.7,387.6"/>
</g>
<g class="lt">
<polygon points="151.1,363.9 168.2,369.9 168.2,371.7 149.4,364.6"/>
</g>
<g class="dk">
<polygon points="128.5,385.3 147.7,387.6 145.9,390.3 125.1,387.8"/>
</g>
<g class="lt">
<polygon points="211.3,375.7 229.2,365.8 234.1,366.4 214.8,377.5"/>
<polygon points="112.1,352.4 128.5,358.6 125.1,358.1 107.3,351.2"/>
<polygon points="131.9,358.9 149.4,364.6 147.7,365.1 128.5,358.6"/>
</g>
<g class="dk">
<polygon points="190.5,395.9 211.3,394.8 214.8,397.9 192.3,399.0"/>
</g>
<g class="lt">
<polygon points="168.2,371.7 187.0,376.2 188.7,378.5 168.2,373.4"/>
<polygon points="188.7,378.5 207.9,374.0 211.3,375.7 190.5,380.9"/>
</g>
<g class="dk">
<polygon points="168.2,389.8 188.7,392.8 190.5,395.9 168.2,392.7"/>
<polygon points="147.7,387.6 168.2,389.8 168.2,392.7 145.9,390.3"/>
<polygon points="125.1,387.8 145.9,390.3 144.0,393.0 121.6,390.3"/>
</g>
<g class="lt">
<polygon points="149.4,364.6 168.2,371.7 168.2,373.4 147.7,365.1"/>
<polygon points="107.3,351.2 125.1,358.1 121.6,357.4 102.3,349.8"/>
<polygon points="128.5,358.6 147.7,365.1 145.9,365.5 125.1,358.1"/>
<polygon points="190.5,380.9 211.3,375.7 214.8,377.5 192.3,383.4"/>
<polygon points="168.2,373.4 188.7,378.5 190.5,380.9 168.2,375.2"/>
</g>
<g class="dk">
<polygon points="168.2,392.7 190.5,395.9 192.3,399.0 168.2,395.6"/>
<polygon points="145.9,390.3 168.2,392.7 168.2,395.6 144.0,393.0"/>
</g>
<g class="lt">
<polygon points="147.7,365.1 168.2,373.4 168.2,375.2 145.9,365.5"/>
<polygon points="168.2,375.2 190.5,380.9 192.3,383.4 168.2,377.1"/>
<polygon points="125.1,358.1 145.9,365.5 144.0,365.7 121.6,357.4"/>
<polygon points="145.9,365.5 168.2,375.2 168.2,377.1 144.0,365.7"/>
</g>
<g class="dk">
<polygon points="545.8,332.9 523.5,331.9 523.5,330.8 547.7,332.0"/>
<polygon points="523.5,331.9 501.2,332.9 499.4,331.9 523.5,330.8"/>
<polygon points="501.2,332.9 480.4,335.9 476.9,335.2 499.4,331.9"/>
<polygon points="566.6,336.0 545.8,332.9 547.7,332.0 570.1,335.2"/>
<polygon points="523.5,333.0 503.0,333.9 501.2,332.9 523.5,331.9"/>
<polygon points="544.0,333.9 523.5,333.0 523.5,331.9 545.8,332.9"/>
</g>
<g class="lt">
<polygon points="545.8,306.6 523.5,309.2 523.5,306.8 547.7,303.9"/>
<polygon points="523.5,309.2 501.2,297.2 499.4,293.7 523.5,306.8"/>
</g>
<g class="dk">
<polygon points="503.0,333.9 483.8,336.7 480.4,335.9 501.2,332.9"/>
<polygon points="563.2,336.7 544.0,333.9 545.8,332.9 566.6,336.0"/>
<polygon points="542.3,334.9 523.5,334.0 523.5,333.0 544.0,333.9"/>
<polygon points="523.5,334.0 504.7,334.9 503.0,333.9 523.5,333.0"/>
</g>
<g class="lt">
<polygon points="566.6,318.0 545.8,306.6 547.7,303.9 570.1,316.3"/>
<polygon points="544.0,309.1 523.5,311.6 523.5,309.2 545.8,306.6"/>
</g>
<g class="dk">
<polygon points="480.4,335.9 462.5,340.7 457.6,340.4 476.9,335.2"/>
<polygon points="584.4,340.8 566.6,336.0 570.1,335.2 589.4,340.5"/>
</g>
<g class="lt">
<polygon points="523.5,311.6 503.0,300.5 501.2,297.2 523.5,309.2"/>
</g>
<g class="dk">
<polygon points="559.8,337.4 542.3,334.9 544.0,333.9 563.2,336.7"/>
<polygon points="504.7,334.9 487.2,337.4 483.8,336.7 503.0,333.9"/>
</g>
<g class="lt">
<polygon points="563.2,319.6 544.0,309.1 545.8,306.6 566.6,318.0"/>
</g>
<g class="dk">
<polygon points="540.6,335.8 523.5,335.0 523.5,334.0 542.3,334.9"/>
<polygon points="523.5,335.0 506.4,335.8 504.7,334.9 523.5,334.0"/>
</g>
<g class="lt">
<polygon points="501.2,297.2 480.4,294.3 476.9,289.3 499.4,293.7"/>
<polygon points="542.3,311.6 523.5,313.9 523.5,311.6 544.0,309.1"/>
</g>
<g class="dk">
<polygon points="483.8,336.7 467.4,341.1 462.5,340.7 480.4,335.9"/>
<polygon points="579.6,341.2 563.2,336.7 566.6,336.0 584.4,340.8"/>
</g>
<g class="lt">
<polygon points="584.4,329.2 566.6,318.0 570.1,316.3 589.4,328.6"/>
<polygon points="523.5,313.9 504.7,303.8 503.0,300.5 523.5,311.6"/>
</g>
<g class="dk">
<polygon points="556.5,338.1 540.6,335.8 542.3,334.9 559.8,337.4"/>
<polygon points="506.4,335.8 490.5,338.1 487.2,337.4 504.7,334.9"/>
</g>
<g class="lt">
<polygon points="503.0,300.5 483.8,298.9 480.4,294.3 501.2,297.2"/>
<polygon points="559.8,321.1 542.3,311.6 544.0,309.1 563.2,319.6"/>
</g>
<g class="dk">
<polygon points="523.5,336.0 508.1,336.7 506.4,335.8 523.5,335.0"/>
<polygon points="538.9,336.7 523.5,336.0 523.5,335.0 540.6,335.8"/>
</g>
<g class="lt">
<polygon points="579.6,329.7 563.2,319.6 566.6,318.0 584.4,329.2"/>
</g>
<g class="dk">
<polygon points="487.2,337.4 472.1,341.4 467.4,341.1 483.8,336.7"/>
<polygon points="574.8,341.5 559.8,337.4 563.2,336.7 579.6,341.2"/>
</g>
<g class="lt">
<polygon points="540.6,314.1 523.5,316.1 523.5,313.9 542.3,311.6"/>
<polygon points="523.5,316.1 506.4,307.0 504.7,303.8 523.5,313.9"/>
</g>
<g class="dk">
<polygon points="508.1,336.7 493.7,338.8 490.5,338.1 506.4,335.8"/>
<polygon points="553.2,338.8 538.9,336.7 540.6,335.8 556.5,338.1"/>
</g>
<g class="lt">
<polygon points="504.7,303.8 487.2,302.7 483.8,298.9 503.0,300.5"/>
</g>
<g class="dk">
<polygon points="598.1,347.1 584.4,340.8 589.4,340.5 604.2,347.3"/>
</g>
<g class="lt">
<polygon points="556.5,322.5 540.6,314.1 542.3,311.6 559.8,321.1"/>
</g>
<g class="dk">
<polygon points="462.5,340.7 448.8,345.7 442.7,345.7 457.6,340.4"/>
</g>
<g class="lt">
<polygon points="480.4,294.3 462.5,304.8 457.6,293.7 476.9,289.3"/>
<polygon points="574.8,329.9 559.8,321.1 563.2,319.6 579.6,329.7"/>
</g>
<g class="dk">
<polygon points="490.5,338.1 476.8,341.8 472.1,341.4 487.2,337.4"/>
<polygon points="570.1,341.8 556.5,338.1 559.8,337.4 574.8,341.5"/>
<polygon points="537.2,337.6 523.5,337.0 523.5,336.0 538.9,336.7"/>
<polygon points="523.5,337.0 509.7,337.6 508.1,336.7 523.5,336.0"/>
</g>
<g class="lt">
<polygon points="538.9,316.4 523.5,318.4 523.5,316.1 540.6,314.1"/>
<polygon points="483.8,298.9 467.4,315.8 462.5,304.8 480.4,294.3"/>
<polygon points="523.5,318.4 508.1,309.9 506.4,307.0 523.5,316.1"/>
</g>
<g class="dk">
<polygon points="592.1,346.9 579.6,341.2 584.4,340.8 598.1,347.1"/>
</g>
<g class="lt">
<polygon points="598.1,335.0 584.4,329.2 589.4,328.6 604.2,335.4"/>
</g>
<g class="dk">
<polygon points="467.4,341.1 454.7,345.6 448.8,345.7 462.5,340.7"/>
</g>
<g class="lt">
<polygon points="506.4,307.0 490.5,305.0 487.2,302.7 504.7,303.8"/>
</g>
<g class="dk">
<polygon points="509.7,337.6 496.8,339.5 493.7,338.8 508.1,336.7"/>
<polygon points="550.0,339.5 537.2,337.6 538.9,336.7 553.2,338.8"/>
</g>
<g class="lt">
<polygon points="553.2,323.6 538.9,316.4 540.6,314.1 556.5,322.5"/>
<polygon points="570.1,329.9 556.5,322.5 559.8,321.1 574.8,329.9"/>
</g>
<g class="dk">
<polygon points="493.7,338.8 481.3,342.1 476.8,341.8 490.5,338.1"/>
<polygon points="565.5,342.2 553.2,338.8 556.5,338.1 570.1,341.8"/>
</g>
<g class="lt">
<polygon points="487.2,302.7 472.1,324.7 467.4,315.8 483.8,298.9"/>
</g>
<g class="dk">
<polygon points="535.6,338.5 523.4,337.9 523.5,337.0 537.2,337.6"/>
<polygon points="523.4,337.9 511.3,338.5 509.7,337.6 523.5,337.0"/>
</g>
<g class="lt">
<polygon points="537.2,318.6 523.5,320.6 523.5,318.4 538.9,316.4"/>
</g>
<g class="dk">
<polygon points="586.3,346.8 574.8,341.5 579.6,341.2 592.1,346.9"/>
</g>
<g class="lt">
<polygon points="592.1,334.4 579.6,329.7 584.4,329.2 598.1,335.0"/>
</g>
<g class="dk">
<polygon points="472.1,341.4 460.5,345.6 454.7,345.6 467.4,341.1"/>
</g>
<g class="lt">
<polygon points="523.5,320.6 509.7,312.8 508.1,309.9 523.5,318.4"/>
<polygon points="508.1,309.9 493.7,305.8 490.5,305.0 506.4,307.0"/>
<polygon points="490.5,305.0 476.8,326.4 472.1,324.7 487.2,302.7"/>
</g>
<g class="dk">
<polygon points="546.9,340.2 535.6,338.5 537.2,337.6 550.0,339.5"/>
<polygon points="511.3,338.5 499.9,340.1 496.8,339.5 509.7,337.6"/>
</g>
<g class="lt">
<polygon points="550.0,324.6 537.2,318.6 538.9,316.4 553.2,323.6"/>
</g>
<g class="dk">
<polygon points="496.8,339.5 485.8,342.4 481.3,342.1 493.7,338.8"/>
<polygon points="561.1,342.5 550.0,339.5 553.2,338.8 565.5,342.2"/>
</g>
<g class="lt">
<polygon points="565.5,329.5 553.2,323.6 556.5,322.5 570.1,329.9"/>
</g>
<g class="dk">
<polygon points="580.6,346.6 570.1,341.8 574.8,341.5 586.3,346.8"/>
<polygon points="476.8,341.8 466.2,345.6 460.5,345.6 472.1,341.4"/>
</g>
<g class="lt">
<polygon points="586.3,333.4 574.8,329.9 579.6,329.7 592.1,334.4"/>
</g>
<g class="dk">
<polygon points="534.0,339.4 523.4,338.9 523.4,337.9 535.6,338.5"/>
<polygon points="523.4,338.9 512.8,339.3 511.3,338.5 523.4,337.9"/>
</g>
<g class="lt">
<polygon points="535.6,320.8 523.4,323.3 523.5,320.6 537.2,318.6"/>
<polygon points="472.1,324.7 460.5,342.9 454.7,329.9 467.4,315.8"/>
<polygon points="523.4,323.3 511.3,316.3 509.7,312.8 523.5,320.6"/>
<polygon points="467.4,315.8 454.7,329.9 448.8,314.1 462.5,304.8"/>
<polygon points="462.5,304.8 448.8,314.1 442.7,299.0 457.6,293.7"/>
<polygon points="509.7,312.8 496.8,306.1 493.7,305.8 508.1,309.9"/>
<polygon points="493.7,305.8 481.3,321.6 476.8,326.4 490.5,305.0"/>
</g>
<g class="dk">
<polygon points="512.8,339.3 502.9,340.8 499.9,340.1 511.3,338.5"/>
<polygon points="543.9,340.8 534.0,339.4 535.6,338.5 546.9,340.2"/>
</g>
<g class="lt">
<polygon points="476.8,326.4 466.2,345.2 460.5,342.9 472.1,324.7"/>
</g>
<g class="dk">
<polygon points="556.7,342.8 546.9,340.2 550.0,339.5 561.1,342.5"/>
<polygon points="499.9,340.1 490.2,342.7 485.8,342.4 496.8,339.5"/>
</g>
<g class="lt">
<polygon points="546.9,325.4 535.6,320.8 537.2,318.6 550.0,324.6"/>
<polygon points="561.1,328.8 550.0,324.6 553.2,323.6 565.5,329.5"/>
</g>
<g class="dk">
<polygon points="575.0,346.5 565.5,342.2 570.1,341.8 580.6,346.6"/>
<polygon points="481.3,342.1 471.8,345.5 466.2,345.6 476.8,341.8"/>
</g>
<g class="lt">
<polygon points="580.6,331.7 570.1,329.9 574.8,329.9 586.3,333.4"/>
</g>
<g class="dk">
<polygon points="606.7,354.4 598.1,347.1 604.2,347.3 613.5,355.2"/>
</g>
<g class="lt">
<polygon points="534.0,323.2 523.4,327.3 523.4,323.3 535.6,320.8"/>
</g>
<g class="dk">
<polygon points="532.5,340.2 523.4,339.8 523.4,338.9 534.0,339.4"/>
<polygon points="523.4,339.8 514.3,340.2 512.8,339.3 523.4,338.9"/>
<polygon points="448.8,345.7 440.1,351.7 433.3,352.2 442.7,345.7"/>
</g>
<g class="lt">
<polygon points="523.4,327.3 512.8,322.1 511.3,316.3 523.4,323.3"/>
<polygon points="511.3,316.3 499.9,307.7 496.8,306.1 509.7,312.8"/>
</g>
<g class="dk">
<polygon points="569.5,346.4 561.1,342.5 565.5,342.2 575.0,346.5"/>
<polygon points="485.8,342.4 477.3,345.5 471.8,345.5 481.3,342.1"/>
</g>
<g class="lt">
<polygon points="481.3,321.6 471.8,337.5 466.2,345.2 476.8,326.4"/>
</g>
<g class="dk">
<polygon points="552.4,343.1 543.9,340.8 546.9,340.2 556.7,342.8"/>
<polygon points="502.9,340.8 494.4,343.1 490.2,342.7 499.9,340.1"/>
<polygon points="600.0,353.7 592.1,346.9 598.1,347.1 606.7,354.4"/>
<polygon points="540.9,341.4 532.5,340.2 534.0,339.4 543.9,340.8"/>
<polygon points="514.3,340.2 505.9,341.4 502.9,340.8 512.8,339.3"/>
</g>
<g class="lt">
<polygon points="556.7,328.2 546.9,325.4 550.0,324.6 561.1,328.8"/>
<polygon points="543.9,326.2 534.0,323.2 535.6,320.8 546.9,325.4"/>
<polygon points="496.8,306.1 485.8,315.4 481.3,321.6 493.7,305.8"/>
<polygon points="575.0,329.7 565.5,329.5 570.1,329.9 580.6,331.7"/>
</g>
<g class="dk">
<polygon points="454.7,345.6 446.7,351.1 440.1,351.7 448.8,345.7"/>
</g>
<g class="lt">
<polygon points="523.4,332.8 514.3,329.8 512.8,322.1 523.4,327.3"/>
<polygon points="606.7,338.4 598.1,335.0 604.2,335.4 613.5,339.9"/>
<polygon points="532.5,326.1 523.4,332.8 523.4,327.3 534.0,323.2"/>
</g>
<g class="dk">
<polygon points="593.5,352.9 586.3,346.8 592.1,346.9 600.0,353.7"/>
<polygon points="564.1,346.2 556.7,342.8 561.1,342.5 569.5,346.4"/>
<polygon points="531.0,341.0 523.4,340.7 523.4,339.8 532.5,340.2"/>
<polygon points="523.4,340.7 515.8,341.0 514.3,340.2 523.4,339.8"/>
<polygon points="460.5,345.6 453.3,350.6 446.7,351.1 454.7,345.6"/>
<polygon points="490.2,342.7 482.7,345.4 477.3,345.5 485.8,342.4"/>
</g>
<g class="lt">
<polygon points="512.8,322.1 502.9,312.0 499.9,307.7 511.3,316.3"/>
</g>
<g class="dk">
<polygon points="505.9,341.4 498.6,343.4 494.4,343.1 502.9,340.8"/>
<polygon points="548.2,343.4 540.9,341.4 543.9,340.8 552.4,343.1"/>
</g>
<g class="lt">
<polygon points="569.5,327.6 561.1,328.8 565.5,329.5 575.0,329.7"/>
<polygon points="600.0,336.9 592.1,334.4 598.1,335.0 606.7,338.4"/>
<polygon points="552.4,327.8 543.9,326.2 546.9,325.4 556.7,328.2"/>
</g>
<g class="dk">
<polygon points="515.8,341.0 508.8,342.0 505.9,341.4 514.3,340.2"/>
<polygon points="538.0,342.0 531.0,341.0 532.5,340.2 540.9,341.4"/>
</g>
<g class="lt">
<polygon points="540.9,327.2 532.5,326.1 534.0,323.2 543.9,326.2"/>
</g>
<g class="dk">
<polygon points="587.1,352.2 580.6,346.6 586.3,346.8 593.5,352.9"/>
</g>
<g class="lt">
<polygon points="523.4,337.0 515.8,335.6 514.3,329.8 523.4,332.8"/>
</g>
<g class="dk">
<polygon points="466.2,345.6 459.6,350.1 453.3,350.6 460.5,345.6"/>
</g>
<g class="lt">
<polygon points="499.9,307.7 490.2,312.1 485.8,315.4 496.8,306.1"/>
<polygon points="485.8,315.4 477.3,328.1 471.8,337.5 481.3,321.6"/>
<polygon points="531.0,329.2 523.4,337.0 523.4,332.8 532.5,326.1"/>
</g>
<g class="dk">
<polygon points="558.9,346.1 552.4,343.1 556.7,342.8 564.1,346.2"/>
</g>
<g class="lt">
<polygon points="514.3,329.8 505.9,319.2 502.9,312.0 512.8,322.1"/>
</g>
<g class="dk">
<polygon points="494.4,343.1 487.9,345.4 482.7,345.4 490.2,342.7"/>
<polygon points="580.9,351.5 575.0,346.5 580.6,346.6 587.1,352.2"/>
</g>
<g class="lt">
<polygon points="593.5,334.6 586.3,333.4 592.1,334.4 600.0,336.9"/>
</g>
<g class="dk">
<polygon points="471.8,345.5 465.9,349.7 459.6,350.1 466.2,345.6"/>
</g>
<g class="lt">
<polygon points="460.5,342.9 453.3,333.5 446.7,327.3 454.7,329.9"/>
</g>
<g class="dk">
<polygon points="529.5,341.8 523.4,341.5 523.4,340.7 531.0,341.0"/>
<polygon points="523.4,341.5 517.3,341.8 515.8,341.0 523.4,340.7"/>
<polygon points="508.8,342.0 502.7,343.7 498.6,343.4 505.9,341.4"/>
<polygon points="544.1,343.7 538.0,342.0 540.9,341.4 548.2,343.4"/>
</g>
<g class="lt">
<polygon points="466.2,345.2 459.6,335.1 453.3,333.5 460.5,342.9"/>
<polygon points="564.1,326.0 556.7,328.2 561.1,328.8 569.5,327.6"/>
<polygon points="548.2,327.9 540.9,327.2 543.9,326.2 552.4,327.8"/>
<polygon points="454.7,329.9 446.7,327.3 440.1,319.7 448.8,314.1"/>
<polygon points="515.8,335.6 508.8,326.4 505.9,319.2 514.3,329.8"/>
<polygon points="538.0,328.5 531.0,329.2 532.5,326.1 540.9,327.2"/>
</g>
<g class="dk">
<polygon points="517.3,341.8 511.6,342.6 508.8,342.0 515.8,341.0"/>
<polygon points="535.2,342.6 529.5,341.8 531.0,341.0 538.0,342.0"/>
</g>
<g class="lt">
<polygon points="523.4,337.6 517.3,336.3 515.8,335.6 523.4,337.0"/>
</g>
<g class="dk">
<polygon points="553.7,345.9 548.2,343.4 552.4,343.1 558.9,346.1"/>
<polygon points="574.8,350.9 569.5,346.4 575.0,346.5 580.9,351.5"/>
</g>
<g class="lt">
<polygon points="502.9,312.0 494.4,312.7 490.2,312.1 499.9,307.7"/>
</g>
<g class="dk">
<polygon points="498.6,343.4 493.0,345.4 487.9,345.4 494.4,343.1"/>
<polygon points="477.3,345.5 472.0,349.2 465.9,349.7 471.8,345.5"/>
</g>
<g class="lt">
<polygon points="448.8,314.1 440.1,319.7 433.3,312.0 442.7,299.0"/>
<polygon points="529.5,331.2 523.4,337.6 523.4,337.0 531.0,329.2"/>
<polygon points="587.1,331.5 580.6,331.7 586.3,333.4 593.5,334.6"/>
<polygon points="490.2,312.1 482.7,322.5 477.3,328.1 485.8,315.4"/>
<polygon points="471.8,337.5 465.9,332.6 459.6,335.1 466.2,345.2"/>
</g>
<g class="dk">
<polygon points="568.8,350.2 564.1,346.2 569.5,346.4 574.8,350.9"/>
</g>
<g class="lt">
<polygon points="558.9,325.2 552.4,327.8 556.7,328.2 564.1,326.0"/>
</g>
<g class="dk">
<polygon points="540.1,344.0 535.2,342.6 538.0,342.0 544.1,343.7"/>
<polygon points="511.6,342.6 506.7,343.9 502.7,343.7 508.8,342.0"/>
<polygon points="482.7,345.4 477.9,348.7 472.0,349.2 477.3,345.5"/>
</g>
<g class="lt">
<polygon points="517.3,336.3 511.6,330.2 508.8,326.4 515.8,335.6"/>
</g>
<g class="dk">
<polygon points="528.1,342.6 523.4,342.4 523.4,341.5 529.5,341.8"/>
<polygon points="523.4,342.4 518.7,342.6 517.3,341.8 523.4,341.5"/>
</g>
<g class="lt">
<polygon points="505.9,319.2 498.6,316.4 494.4,312.7 502.9,312.0"/>
<polygon points="544.1,328.6 538.0,328.5 540.9,327.2 548.2,327.9"/>
</g>
<g class="dk">
<polygon points="548.7,345.8 544.1,343.7 548.2,343.4 553.7,345.9"/>
<polygon points="502.7,343.7 498.0,345.3 493.0,345.4 498.6,343.4"/>
</g>
<g class="lt">
<polygon points="535.2,330.0 529.5,331.2 531.0,329.2 538.0,328.5"/>
<polygon points="580.9,328.1 575.0,329.7 580.6,331.7 587.1,331.5"/>
</g>
<g class="dk">
<polygon points="532.5,343.2 528.1,342.6 529.5,341.8 535.2,342.6"/>
<polygon points="518.7,342.6 514.3,343.2 511.6,342.6 517.3,341.8"/>
<polygon points="562.9,349.6 558.9,346.1 564.1,346.2 568.8,350.2"/>
<polygon points="487.9,345.4 483.8,348.3 477.9,348.7 482.7,345.4"/>
</g>
<g class="lt">
<polygon points="523.4,335.7 518.7,334.1 517.3,336.3 523.4,337.6"/>
<polygon points="508.8,326.4 502.7,321.6 498.6,316.4 505.9,319.2"/>
<polygon points="477.3,328.1 472.0,329.4 465.9,332.6 471.8,337.5"/>
<polygon points="494.4,312.7 487.9,321.1 482.7,322.5 490.2,312.1"/>
</g>
<g class="dk">
<polygon points="609.6,363.8 606.7,354.4 613.5,355.2 616.6,365.3"/>
</g>
<g class="lt">
<polygon points="528.1,332.1 523.4,335.7 523.4,337.6 529.5,331.2"/>
<polygon points="553.7,325.5 548.2,327.9 552.4,327.8 558.9,325.2"/>
</g>
<g class="dk">
<polygon points="514.3,343.2 510.5,344.2 506.7,343.9 511.6,342.6"/>
<polygon points="536.2,344.2 532.5,343.2 535.2,342.6 540.1,344.0"/>
<polygon points="543.9,345.7 540.1,344.0 544.1,343.7 548.7,345.8"/>
<polygon points="506.7,343.9 502.9,345.3 498.0,345.3 502.7,343.7"/>
<polygon points="602.7,362.3 600.0,353.7 606.7,354.4 609.6,363.8"/>
<polygon points="440.1,351.7 437.1,359.0 430.1,360.1 433.3,352.2"/>
<polygon points="557.2,348.9 553.7,345.9 558.9,346.1 562.9,349.6"/>
</g>
<g class="lt">
<polygon points="540.1,329.9 535.2,330.0 538.0,328.5 544.1,328.6"/>
<polygon points="574.8,325.0 569.5,327.6 575.0,329.7 580.9,328.1"/>
</g>
<g class="dk">
<polygon points="493.0,345.4 489.5,347.8 483.8,348.3 487.9,345.4"/>
</g>
<g class="lt">
<polygon points="518.7,334.1 514.3,331.2 511.6,330.2 517.3,336.3"/>
</g>
<g class="dk">
<polygon points="526.7,343.4 523.4,343.2 523.4,342.4 528.1,342.6"/>
<polygon points="523.4,343.2 520.1,343.3 518.7,342.6 523.4,342.4"/>
</g>
<g class="lt">
<polygon points="532.5,331.5 528.1,332.1 529.5,331.2 535.2,330.0"/>
</g>
<g class="dk">
<polygon points="446.7,351.1 444.0,357.9 437.1,359.0 440.1,351.7"/>
</g>
<g class="lt">
<polygon points="511.6,330.2 506.7,326.3 502.7,321.6 508.8,326.4"/>
</g>
<g class="dk">
<polygon points="596.0,360.9 593.5,352.9 600.0,353.7 602.7,362.3"/>
<polygon points="520.1,343.3 517.0,343.8 514.3,343.2 518.7,342.6"/>
<polygon points="529.8,343.8 526.7,343.4 528.1,342.6 532.5,343.2"/>
</g>
<g class="lt">
<polygon points="498.6,316.4 493.0,322.1 487.9,321.1 494.4,312.7"/>
<polygon points="548.7,326.8 544.1,328.6 548.2,327.9 553.7,325.5"/>
</g>
<g class="dk">
<polygon points="453.3,350.6 450.7,356.8 444.0,357.9 446.7,351.1"/>
<polygon points="551.7,348.3 548.7,345.8 553.7,345.9 557.2,348.9"/>
<polygon points="589.4,359.4 587.1,352.2 593.5,352.9 596.0,360.9"/>
<polygon points="498.0,345.3 495.1,347.4 489.5,347.8 493.0,345.4"/>
</g>
<g class="lt">
<polygon points="482.7,322.5 477.9,327.7 472.0,329.4 477.3,328.1"/>
</g>
<g class="dk">
<polygon points="539.1,345.6 536.2,344.2 540.1,344.0 543.9,345.7"/>
<polygon points="510.5,344.2 507.6,345.3 502.9,345.3 506.7,343.9"/>
</g>
<g class="lt">
<polygon points="568.8,322.9 564.1,326.0 569.5,327.6 574.8,325.0"/>
</g>
<g class="dk">
<polygon points="459.6,350.1 457.3,355.7 450.7,356.8 453.3,350.6"/>
<polygon points="517.0,343.8 514.3,344.5 510.5,344.2 514.3,343.2"/>
<polygon points="532.4,344.5 529.8,343.8 532.5,343.2 536.2,344.2"/>
<polygon points="582.9,358.0 580.9,351.5 587.1,352.2 589.4,359.4"/>
</g>
<g class="lt">
<polygon points="536.2,331.6 532.5,331.5 535.2,330.0 540.1,329.9"/>
<polygon points="523.4,334.3 520.1,332.9 518.7,334.1 523.4,335.7"/>
<polygon points="526.7,332.7 523.4,334.3 523.4,335.7 528.1,332.1"/>
<polygon points="502.7,321.6 498.0,324.4 493.0,322.1 498.6,316.4"/>
<polygon points="514.3,331.2 510.5,329.6 506.7,326.3 511.6,330.2"/>
<polygon points="609.6,345.3 606.7,338.4 613.5,339.9 616.6,347.5"/>
</g>
<g class="dk">
<polygon points="465.9,349.7 463.8,354.7 457.3,355.7 459.6,350.1"/>
<polygon points="546.2,347.7 543.9,345.7 548.7,345.8 551.7,348.3"/>
<polygon points="576.6,356.7 574.8,350.9 580.9,351.5 582.9,358.0"/>
<polygon points="502.9,345.3 500.5,346.9 495.1,347.4 498.0,345.3"/>
</g>
<g class="lt">
<polygon points="543.9,328.7 540.1,329.9 544.1,328.6 548.7,326.8"/>
<polygon points="520.1,332.9 517.0,331.9 514.3,331.2 518.7,334.1"/>
<polygon points="529.8,332.9 526.7,332.7 528.1,332.1 532.5,331.5"/>
</g>
<g class="dk">
<polygon points="472.0,349.2 470.1,353.7 463.8,354.7 465.9,349.7"/>
</g>
<g class="lt">
<polygon points="487.9,321.1 483.8,327.8 477.9,327.7 482.7,322.5"/>
</g>
<g class="dk">
<polygon points="523.4,344.0 521.4,344.1 520.1,343.3 523.4,343.2"/>
<polygon points="525.3,344.1 523.4,344.0 523.4,343.2 526.7,343.4"/>
<polygon points="570.4,355.3 568.8,350.2 574.8,350.9 576.6,356.7"/>
</g>
<g class="lt">
<polygon points="562.9,322.2 558.9,325.2 564.1,326.0 568.8,322.9"/>
</g>
<g class="dk">
<polygon points="534.5,345.5 532.4,344.5 536.2,344.2 539.1,345.6"/>
<polygon points="514.3,344.5 512.3,345.2 507.6,345.3 510.5,344.2"/>
</g>
<g class="lt">
<polygon points="602.7,343.1 600.0,336.9 606.7,338.4 609.6,345.3"/>
</g>
<g class="dk">
<polygon points="527.2,344.4 525.3,344.1 526.7,343.4 529.8,343.8"/>
<polygon points="521.4,344.1 519.6,344.4 517.0,343.8 520.1,343.3"/>
</g>
<g class="lt">
<polygon points="506.7,326.3 502.9,327.2 498.0,324.4 502.7,321.6"/>
</g>
<g class="dk">
<polygon points="477.9,348.7 476.3,352.7 470.1,353.7 472.0,349.2"/>
<polygon points="540.9,347.1 539.1,345.6 543.9,345.7 546.2,347.7"/>
<polygon points="507.6,345.3 505.8,346.5 500.5,346.9 502.9,345.3"/>
<polygon points="564.3,354.0 562.9,349.6 568.8,350.2 570.4,355.3"/>
<polygon points="528.7,344.8 527.2,344.4 529.8,343.8 532.4,344.5"/>
<polygon points="519.6,344.4 518.0,344.8 514.3,344.5 517.0,343.8"/>
</g>
<g class="lt">
<polygon points="532.4,333.3 529.8,332.9 532.5,331.5 536.2,331.6"/>
</g>
<g class="dk">
<polygon points="483.8,348.3 482.4,351.7 476.3,352.7 477.9,348.7"/>
</g>
<g class="lt">
<polygon points="596.0,340.0 593.5,334.6 600.0,336.9 602.7,343.1"/>
<polygon points="539.1,331.0 536.2,331.6 540.1,329.9 543.9,328.7"/>
<polygon points="493.0,322.1 489.5,328.9 483.8,327.8 487.9,321.1"/>
<polygon points="517.0,331.9 514.3,331.9 510.5,329.6 514.3,331.2"/>
</g>
<g class="dk">
<polygon points="558.4,352.7 557.2,348.9 562.9,349.6 564.3,354.0"/>
</g>
<g class="lt">
<polygon points="557.2,323.1 553.7,325.5 558.9,325.2 562.9,322.2"/>
<polygon points="510.5,329.6 507.6,330.0 502.9,327.2 506.7,326.3"/>
</g>
<g class="dk">
<polygon points="489.5,347.8 488.3,350.8 482.4,351.7 483.8,348.3"/>
<polygon points="525.0,344.3 523.4,344.2 523.4,344.0 525.3,344.1"/>
<polygon points="523.4,344.2 521.8,344.3 521.4,344.1 523.4,344.0"/>
<polygon points="535.7,346.5 534.5,345.5 539.1,345.6 540.9,347.1"/>
<polygon points="529.9,345.3 528.7,344.8 532.4,344.5 534.5,345.5"/>
<polygon points="512.3,345.2 511.0,346.1 505.8,346.5 507.6,345.3"/>
<polygon points="518.0,344.8 516.8,345.2 512.3,345.2 514.3,344.5"/>
</g>
<g class="lt">
<polygon points="523.4,334.6 521.4,333.9 520.1,332.9 523.4,334.3"/>
<polygon points="525.3,334.0 523.4,334.6 523.4,334.3 526.7,332.7"/>
</g>
<g class="dk">
<polygon points="526.5,344.5 525.0,344.3 525.3,344.1 527.2,344.4"/>
<polygon points="521.8,344.3 520.3,344.5 519.6,344.4 521.4,344.1"/>
<polygon points="552.6,351.5 551.7,348.3 557.2,348.9 558.4,352.7"/>
</g>
<g class="lt">
<polygon points="498.0,324.4 495.1,330.3 489.5,328.9 493.0,322.1"/>
<polygon points="589.4,336.2 587.1,331.5 593.5,334.6 596.0,340.0"/>
</g>
<g class="dk">
<polygon points="495.1,347.4 494.1,349.9 488.3,350.8 489.5,347.8"/>
<polygon points="527.8,344.9 526.5,344.5 527.2,344.4 528.7,344.8"/>
<polygon points="520.3,344.5 519.0,344.8 518.0,344.8 519.6,344.4"/>
</g>
<g class="lt">
<polygon points="527.2,334.5 525.3,334.0 526.7,332.7 529.8,332.9"/>
<polygon points="551.7,325.1 548.7,326.8 553.7,325.5 557.2,323.1"/>
<polygon points="521.4,333.9 519.6,333.6 517.0,331.9 520.1,332.9"/>
<polygon points="459.6,335.1 457.3,333.6 450.7,332.8 453.3,333.5"/>
</g>
<g class="dkf">
<polygon points="524.5,344.5 523.4,344.5 523.4,344.2 525.0,344.3"/>
<polygon points="523.4,344.5 522.2,344.5 521.8,344.3 523.4,344.2"/>
</g>
<g class="lt">
<polygon points="453.3,333.5 450.7,332.8 444.0,331.6 446.7,327.3"/>
</g>
<g class="dk">
<polygon points="547.0,350.3 546.2,347.7 551.7,348.3 552.6,351.5"/>
</g>
<g class="lt">
<polygon points="534.5,333.2 532.4,333.3 536.2,331.6 539.1,331.0"/>
</g>
<g class="dkf">
<polygon points="525.6,344.7 524.5,344.5 525.0,344.3 526.5,344.5"/>
<polygon points="522.2,344.5 521.1,344.7 520.3,344.5 521.8,344.3"/>
</g>
<g class="dk">
<polygon points="500.5,346.9 499.7,349.0 494.1,349.9 495.1,347.4"/>
</g>
<g class="lt">
<polygon points="446.7,327.3 444.0,331.6 437.1,330.2 440.1,319.7"/>
<polygon points="514.3,331.9 512.3,332.5 507.6,330.0 510.5,329.6"/>
<polygon points="465.9,332.6 463.8,334.0 457.3,333.6 459.6,335.1"/>
<polygon points="502.9,327.2 500.5,331.7 495.1,330.3 498.0,324.4"/>
</g>
<g class="dk">
<polygon points="528.7,345.3 527.8,344.9 528.7,344.8 529.9,345.3"/>
<polygon points="519.0,344.8 518.0,345.2 516.8,345.2 518.0,344.8"/>
<polygon points="530.7,346.0 529.9,345.3 534.5,345.5 535.7,346.5"/>
</g>
<g class="lt">
<polygon points="528.7,335.0 527.2,334.5 529.8,332.9 532.4,333.3"/>
</g>
<g class="dkf">
<polygon points="526.5,344.9 525.6,344.7 526.5,344.5 527.8,344.9"/>
<polygon points="521.1,344.7 520.2,344.9 519.0,344.8 520.3,344.5"/>
</g>
<g class="dk">
<polygon points="516.8,345.2 516.0,345.7 511.0,346.1 512.3,345.2"/>
<polygon points="541.5,349.1 540.9,347.1 546.2,347.7 547.0,350.3"/>
</g>
<g class="lt">
<polygon points="440.1,319.7 437.1,330.2 430.1,328.7 433.3,312.0"/>
<polygon points="519.6,333.6 518.0,334.1 514.3,331.9 517.0,331.9"/>
<polygon points="546.2,327.9 543.9,328.7 548.7,326.8 551.7,325.1"/>
</g>
<g class="dk">
<polygon points="505.8,346.5 505.2,348.1 499.7,349.0 500.5,346.9"/>
</g>
<g class="lt">
<polygon points="582.9,332.1 580.9,328.1 587.1,331.5 589.4,336.2"/>
</g>
<g class="dkf">
<polygon points="524.1,344.8 523.4,344.7 523.4,344.5 524.5,344.5"/>
<polygon points="523.4,344.7 522.6,344.8 522.2,344.5 523.4,344.5"/>
<polygon points="527.2,345.3 526.5,344.9 527.8,344.9 528.7,345.3"/>
<polygon points="520.2,344.9 519.5,345.2 518.0,345.2 519.0,344.8"/>
<polygon points="524.7,344.9 524.1,344.8 524.5,344.5 525.6,344.7"/>
<polygon points="522.6,344.8 522.0,344.9 521.1,344.7 522.2,344.5"/>
</g>
<g class="ltf">
<polygon points="525.0,334.5 523.4,335.0 523.4,334.6 525.3,334.0"/>
<polygon points="523.4,335.0 521.8,334.4 521.4,333.9 523.4,334.6"/>
</g>
<g class="lt">
<polygon points="472.0,329.4 470.1,334.2 463.8,334.0 465.9,332.6"/>
</g>
<g class="dk">
<polygon points="536.2,347.9 535.7,346.5 540.9,347.1 541.5,349.1"/>
</g>
<g class="lt">
<polygon points="507.6,330.0 505.8,333.2 500.5,331.7 502.9,327.2"/>
</g>
<g class="dk">
<polygon points="529.4,345.8 528.7,345.3 529.9,345.3 530.7,346.0"/>
</g>
<g class="dkf">
<polygon points="525.3,345.0 524.7,344.9 525.6,344.7 526.5,344.9"/>
<polygon points="522.0,344.9 521.4,345.0 520.2,344.9 521.1,344.7"/>
</g>
<g class="dk">
<polygon points="518.0,345.2 517.3,345.6 516.0,345.7 516.8,345.2"/>
<polygon points="511.0,346.1 510.5,347.2 505.2,348.1 505.8,346.5"/>
</g>
<g class="ltf">
<polygon points="526.5,334.9 525.0,334.5 525.3,334.0 527.2,334.5"/>
</g>
<g class="lt">
<polygon points="540.9,330.7 539.1,331.0 543.9,328.7 546.2,327.9"/>
</g>
<g class="ltf">
<polygon points="521.8,334.4 520.3,334.2 519.6,333.6 521.4,333.9"/>
</g>
<g class="lt">
<polygon points="529.9,335.1 528.7,335.0 532.4,333.3 534.5,333.2"/>
</g>
<g class="dkf">
<polygon points="525.7,345.2 525.3,345.0 526.5,344.9 527.2,345.3"/>
<polygon points="527.7,345.6 527.2,345.3 528.7,345.3 529.4,345.8"/>
<polygon points="521.4,345.0 521.0,345.2 519.5,345.2 520.2,344.9"/>
<polygon points="519.5,345.2 519.0,345.5 517.3,345.6 518.0,345.2"/>
</g>
<g class="lt">
<polygon points="518.0,334.1 516.8,334.7 512.3,332.5 514.3,331.9"/>
</g>
<g class="dk">
<polygon points="530.9,346.8 530.7,346.0 535.7,346.5 536.2,347.9"/>
</g>
<g class="dkf">
<polygon points="523.7,345.0 523.4,345.0 523.4,344.7 524.1,344.8"/>
<polygon points="523.4,345.0 523.0,345.0 522.6,344.8 523.4,344.7"/>
</g>
<g class="ltf">
<polygon points="527.8,335.4 526.5,334.9 527.2,334.5 528.7,335.0"/>
</g>
<g class="dk">
<polygon points="516.0,345.7 515.8,346.4 510.5,347.2 511.0,346.1"/>
</g>
<g class="dkf">
<polygon points="524.0,345.0 523.7,345.0 524.1,344.8 524.7,344.9"/>
<polygon points="523.0,345.0 522.7,345.0 522.0,344.9 522.6,344.8"/>
</g>
<g class="ltf">
<polygon points="524.5,335.2 523.4,335.5 523.4,335.0 525.0,334.5"/>
</g>
<g class="lt">
<polygon points="477.9,327.7 476.3,334.6 470.1,334.2 472.0,329.4"/>
</g>
<g class="ltf">
<polygon points="523.4,335.5 522.2,335.1 521.8,334.4 523.4,335.0"/>
<polygon points="520.3,334.2 519.0,334.7 518.0,334.1 519.6,333.6"/>
</g>
<g class="dkf">
<polygon points="524.2,345.1 524.0,345.0 524.7,344.9 525.3,345.0"/>
<polygon points="522.7,345.0 522.5,345.1 521.4,345.0 522.0,344.9"/>
</g>
<g class="lt">
<polygon points="512.3,332.5 511.0,334.6 505.8,333.2 507.6,330.0"/>
</g>
<g class="dkf">
<polygon points="526.0,345.5 525.7,345.2 527.2,345.3 527.7,345.6"/>
<polygon points="521.0,345.2 520.7,345.4 519.0,345.5 519.5,345.2"/>
</g>
<g class="lt">
<polygon points="576.6,328.4 574.8,325.0 580.9,328.1 582.9,332.1"/>
</g>
<g class="ltf">
<polygon points="525.6,335.5 524.5,335.2 525.0,334.5 526.5,334.9"/>
</g>
<g class="dk">
<polygon points="529.6,346.5 529.4,345.8 530.7,346.0 530.9,346.8"/>
</g>
<g class="lt">
<polygon points="535.7,333.3 534.5,333.2 539.1,331.0 540.9,330.7"/>
</g>
<g class="ltf">
<polygon points="522.2,335.1 521.1,335.1 520.3,334.2 521.8,334.4"/>
</g>
<g class="dkf">
<polygon points="524.4,345.2 524.2,345.1 525.3,345.0 525.7,345.2"/>
<polygon points="522.5,345.1 522.3,345.2 521.0,345.2 521.4,345.0"/>
</g>
<g class="dk">
<polygon points="517.3,345.6 517.1,346.2 515.8,346.4 516.0,345.7"/>
</g>
<g class="dkf">
<polygon points="527.8,346.1 527.7,345.6 529.4,345.8 529.6,346.5"/>
<polygon points="519.0,345.5 518.9,345.9 517.1,346.2 517.3,345.6"/>
</g>
<g class="lt">
<polygon points="483.8,327.8 482.4,335.1 476.3,334.6 477.9,327.7"/>
</g>
<g class="dkf">
<polygon points="524.6,345.3 524.4,345.2 525.7,345.2 526.0,345.5"/>
</g>
<g class="ltf">
<polygon points="526.5,335.9 525.6,335.5 526.5,334.9 527.8,335.4"/>
</g>
<g class="dkf">
<polygon points="522.3,345.2 522.1,345.3 520.7,345.4 521.0,345.2"/>
</g>
<g class="ltf">
<polygon points="528.7,335.6 527.8,335.4 528.7,335.0 529.9,335.1"/>
</g>
<g class="dkf">
<polygon points="526.1,345.8 526.0,345.5 527.7,345.6 527.8,346.1"/>
<polygon points="520.7,345.4 520.6,345.6 518.9,345.9 519.0,345.5"/>
</g>
<g class="ltf">
<polygon points="521.1,335.1 520.2,335.4 519.0,334.7 520.3,334.2"/>
</g>
<g class="dkf">
<polygon points="523.4,345.2 523.4,345.0 523.7,345.0"/>
<polygon points="523.4,345.2 523.0,345.0 523.4,345.0"/>
<polygon points="523.4,345.2 522.7,345.0 523.0,345.0"/>
<polygon points="523.4,345.2 523.7,345.0 524.0,345.0"/>
</g>
<g class="ltf">
<polygon points="519.0,334.7 518.0,335.2 516.8,334.7 518.0,334.1"/>
</g>
<g class="dkf">
<polygon points="523.4,345.2 524.0,345.0 524.2,345.1"/>
<polygon points="523.4,345.2 522.5,345.1 522.7,345.0"/>
<polygon points="523.4,345.2 524.2,345.1 524.4,345.2"/>
<polygon points="523.4,345.2 522.3,345.2 522.5,345.1"/>
<polygon points="524.6,345.4 524.6,345.3 526.0,345.5 526.1,345.8"/>
<polygon points="522.1,345.3 522.1,345.4 520.6,345.6 520.7,345.4"/>
</g>
<g class="lt">
<polygon points="489.5,328.9 488.3,335.7 482.4,335.1 483.8,327.8"/>
</g>
<g class="dkf">
<polygon points="523.4,345.2 524.4,345.2 524.6,345.3"/>
<polygon points="523.4,345.2 522.1,345.3 522.3,345.2"/>
</g>
<g class="ltf">
<polygon points="524.1,336.0 523.4,336.2 523.4,335.5 524.5,335.2"/>
<polygon points="523.4,336.2 522.6,335.9 522.2,335.1 523.4,335.5"/>
</g>
<g class="dkf">
<polygon points="523.4,345.2 524.6,345.3 524.6,345.4"/>
<polygon points="523.4,345.2 522.1,345.4 522.1,345.3"/>
</g>
<g class="lt">
<polygon points="516.8,334.7 516.0,335.9 511.0,334.6 512.3,332.5"/>
<polygon points="530.7,335.3 529.9,335.1 534.5,333.2 535.7,333.3"/>
</g>
<g class="ltf">
<polygon points="524.7,336.2 524.1,336.0 524.5,335.2 525.6,335.5"/>
</g>
<g class="dkf">
<polygon points="523.4,345.2 522.1,345.6 522.1,345.4"/>
<polygon points="523.4,345.2 524.6,345.4 524.6,345.5"/>
<polygon points="522.1,345.4 522.1,345.6 520.7,346.2 520.6,345.6"/>
</g>
<g class="ltf">
<polygon points="527.2,336.1 526.5,335.9 527.8,335.4 528.7,335.6"/>
<polygon points="522.6,335.9 522.0,335.9 521.1,335.1 522.2,335.1"/>
</g>
<g class="dkf">
<polygon points="524.6,345.5 524.6,345.4 526.1,345.8 526.0,345.9"/>
<polygon points="520.6,345.6 520.7,346.2 519.0,346.9 518.9,345.9"/>
<polygon points="523.4,345.2 522.3,345.8 522.1,345.6"/>
<polygon points="526.0,345.9 526.1,345.8 527.8,346.1 527.7,346.4"/>
<polygon points="523.4,345.2 524.6,345.5 524.4,345.6"/>
</g>
<g class="lt">
<polygon points="495.1,330.3 494.1,336.3 488.3,335.7 489.5,328.9"/>
</g>
<g class="dkf">
<polygon points="518.9,345.9 519.0,346.9 517.3,347.6 517.1,346.2"/>
</g>
<g class="dk">
<polygon points="517.1,346.2 517.3,347.6 516.0,348.1 515.8,346.4"/>
</g>
<g class="dkf">
<polygon points="527.7,346.4 527.8,346.1 529.6,346.5 529.4,346.8"/>
</g>
<g class="ltf">
<polygon points="520.2,335.4 519.5,335.8 518.0,335.2 519.0,334.7"/>
</g>
<g class="dkf">
<polygon points="523.4,345.2 522.5,345.8 522.3,345.8"/>
<polygon points="523.4,345.2 524.4,345.6 524.2,345.7"/>
</g>
<g class="dk">
<polygon points="529.4,346.8 529.6,346.5 530.9,346.8 530.7,347.2"/>
<polygon points="515.8,346.4 516.0,348.1 511.0,350.1 510.5,347.2"/>
</g>
<g class="ltf">
<polygon points="525.3,336.5 524.7,336.2 525.6,335.5 526.5,335.9"/>
</g>
<g class="dkf">
<polygon points="523.4,345.2 522.7,345.8 522.5,345.8"/>
<polygon points="523.4,345.2 524.2,345.7 524.0,345.8"/>
</g>
<g class="lt">
<polygon points="570.4,325.8 568.8,322.9 574.8,325.0 576.6,328.4"/>
</g>
<g class="dkf">
<polygon points="522.1,345.6 522.3,345.8 521.0,346.5 520.7,346.2"/>
<polygon points="523.4,345.2 524.0,345.8 523.7,345.9"/>
</g>
<g class="dk">
<polygon points="530.7,347.2 530.9,346.8 536.2,347.9 535.7,348.6"/>
</g>
<g class="dkf">
<polygon points="523.4,345.2 523.0,345.8 522.7,345.8"/>
<polygon points="523.4,345.2 523.7,345.9 523.3,345.8"/>
<polygon points="523.4,345.2 523.3,345.8 523.0,345.8"/>
</g>
<g class="ltf">
<polygon points="522.0,335.9 521.4,336.2 520.2,335.4 521.1,335.1"/>
</g>
<g class="dk">
<polygon points="510.5,347.2 511.0,350.1 505.8,352.2 505.2,348.1"/>
</g>
<g class="dkf">
<polygon points="524.4,345.6 524.6,345.5 526.0,345.9 525.7,346.2"/>
</g>
<g class="lt">
<polygon points="500.5,331.7 499.7,336.8 494.1,336.3 495.1,330.3"/>
</g>
<g class="dk">
<polygon points="535.7,348.6 536.2,347.9 541.5,349.1 540.9,350.0"/>
<polygon points="505.2,348.1 505.8,352.2 500.5,354.3 499.7,349.0"/>
</g>
<g class="ltf">
<polygon points="518.0,335.2 517.3,336.3 516.0,335.9 516.8,334.7"/>
<polygon points="529.4,335.8 528.7,335.6 529.9,335.1 530.7,335.3"/>
</g>
<g class="dkf">
<polygon points="520.7,346.2 521.0,346.5 519.5,347.4 519.0,346.9"/>
<polygon points="522.3,345.8 522.5,345.8 521.4,346.5 521.0,346.5"/>
</g>
<g class="dk">
<polygon points="499.7,349.0 500.5,354.3 495.0,356.4 494.1,349.9"/>
</g>
<g class="dkf">
<polygon points="524.2,345.7 524.4,345.6 525.7,346.2 525.3,346.4"/>
</g>
<g class="dk">
<polygon points="540.9,350.0 541.5,349.1 547.0,350.3 546.2,351.5"/>
</g>
<g class="ltf">
<polygon points="525.7,336.6 525.3,336.5 526.5,335.9 527.2,336.1"/>
</g>
<g class="lt">
<polygon points="505.8,333.2 505.2,337.2 499.7,336.8 500.5,331.7"/>
</g>
<g class="dkf">
<polygon points="525.7,346.2 526.0,345.9 527.7,346.4 527.2,346.8"/>
</g>
<g class="ltf">
<polygon points="521.4,336.2 521.0,336.5 519.5,335.8 520.2,335.4"/>
</g>
<g class="dk">
<polygon points="494.1,349.9 495.0,356.4 489.5,358.6 488.3,350.8"/>
</g>
<g class="ltf">
<polygon points="523.7,336.7 523.4,336.8 523.4,336.2 524.1,336.0"/>
<polygon points="523.4,336.8 523.0,336.7 522.6,335.9 523.4,336.2"/>
</g>
<g class="dk">
<polygon points="546.2,351.5 547.0,350.3 552.6,351.5 551.6,353.0"/>
</g>
<g class="ltf">
<polygon points="519.5,335.8 519.0,336.6 517.3,336.3 518.0,335.2"/>
</g>
<g class="dkf">
<polygon points="519.0,346.9 519.5,347.4 518.0,348.3 517.3,347.6"/>
</g>
<g class="ltf">
<polygon points="527.7,336.3 527.2,336.1 528.7,335.6 529.4,335.8"/>
</g>
<g class="dkf">
<polygon points="522.5,345.8 522.7,345.8 522.0,346.5 521.4,346.5"/>
<polygon points="524.0,345.8 524.2,345.7 525.3,346.4 524.7,346.6"/>
</g>
<g class="ltf">
<polygon points="524.0,336.8 523.7,336.7 524.1,336.0 524.7,336.2"/>
</g>
<g class="dk">
<polygon points="488.3,350.8 489.5,358.6 483.8,360.9 482.4,351.7"/>
</g>
<g class="ltf">
<polygon points="523.0,336.7 522.7,336.7 522.0,335.9 522.6,335.9"/>
</g>
<g class="lt">
<polygon points="511.0,334.6 510.5,337.4 505.2,337.2 505.8,333.2"/>
</g>
<g class="dkf">
<polygon points="527.2,346.8 527.7,346.4 529.4,346.8 528.7,347.4"/>
</g>
<g class="dk">
<polygon points="551.6,353.0 552.6,351.5 558.4,352.7 557.2,354.5"/>
</g>
<g class="ltf">
<polygon points="524.2,337.0 524.0,336.8 524.7,336.2 525.3,336.5"/>
</g>
<g class="dkf">
<polygon points="523.7,345.9 524.0,345.8 524.7,346.6 524.1,346.7"/>
</g>
<g class="dk">
<polygon points="482.4,351.7 483.8,360.9 477.9,363.3 476.3,352.7"/>
</g>
<g class="dkf">
<polygon points="522.7,345.8 523.0,345.8 522.6,346.5 522.0,346.5"/>
</g>
<g class="ltf">
<polygon points="522.7,336.7 522.5,336.8 521.4,336.2 522.0,335.9"/>
</g>
<g class="dkf">
<polygon points="521.0,346.5 521.4,346.5 520.2,347.4 519.5,347.4"/>
</g>
<g class="dk">
<polygon points="517.3,347.6 518.0,348.3 516.8,348.9 516.0,348.1"/>
</g>
<g class="dkf">
<polygon points="523.3,345.8 523.7,345.9 524.1,346.7 523.3,346.7"/>
<polygon points="523.0,345.8 523.3,345.8 523.3,346.7 522.6,346.5"/>
<polygon points="525.3,346.4 525.7,346.2 527.2,346.8 526.5,347.2"/>
</g>
<g class="dk">
<polygon points="476.3,352.7 477.9,363.3 471.9,365.6 470.1,353.7"/>
</g>
<g class="ltf">
<polygon points="521.0,336.5 520.7,336.9 519.0,336.6 519.5,335.8"/>
<polygon points="526.0,336.7 525.7,336.6 527.2,336.1 527.7,336.3"/>
</g>
<g class="dk">
<polygon points="557.2,354.5 558.4,352.7 564.3,354.0 562.9,356.1"/>
</g>
<g class="ltf">
<polygon points="524.4,337.0 524.2,337.0 525.3,336.5 525.7,336.6"/>
</g>
<g class="lt">
<polygon points="516.0,335.9 515.8,337.6 510.5,337.4 511.0,334.6"/>
<polygon points="564.3,324.8 562.9,322.2 568.8,322.9 570.4,325.8"/>
</g>
<g class="ltf">
<polygon points="522.5,336.8 522.3,337.0 521.0,336.5 521.4,336.2"/>
</g>
<g class="dk">
<polygon points="528.7,347.4 529.4,346.8 530.7,347.2 529.9,347.9"/>
<polygon points="470.1,353.7 471.9,365.6 465.8,368.1 463.8,354.7"/>
<polygon points="562.9,356.1 564.3,354.0 570.4,355.3 568.8,357.8"/>
</g>
<g class="ltf">
<polygon points="517.3,336.3 517.1,337.6 515.8,337.6 516.0,335.9"/>
</g>
<g class="dk">
<polygon points="463.8,354.7 465.8,368.1 459.6,370.6 457.3,355.7"/>
</g>
<g class="ltf">
<polygon points="522.3,337.0 522.1,337.2 520.7,336.9 521.0,336.5"/>
<polygon points="524.6,337.1 524.4,337.0 525.7,336.6 526.0,336.7"/>
<polygon points="519.0,336.6 518.9,337.6 517.1,337.6 517.3,336.3"/>
</g>
<g class="dkf">
<polygon points="521.4,346.5 522.0,346.5 521.1,347.3 520.2,347.4"/>
<polygon points="524.7,346.6 525.3,346.4 526.5,347.2 525.6,347.5"/>
</g>
<g class="ltf">
<polygon points="523.4,337.4 523.4,336.8 523.7,336.7"/>
</g>
<g class="dk">
<polygon points="568.8,357.8 570.4,355.3 576.6,356.7 574.7,359.4"/>
</g>
<g class="ltf">
<polygon points="523.4,337.4 523.0,336.7 523.4,336.8"/>
<polygon points="523.4,337.4 523.7,336.7 524.0,336.8"/>
</g>
<g class="dkf">
<polygon points="519.5,347.4 520.2,347.4 518.9,348.3 518.0,348.3"/>
</g>
<g class="dk">
<polygon points="516.0,348.1 516.8,348.9 512.2,351.5 511.0,350.1"/>
</g>
<g class="ltf">
<polygon points="523.4,337.4 522.7,336.7 523.0,336.7"/>
</g>
<g class="dk">
<polygon points="457.3,355.7 459.6,370.6 453.2,373.1 450.7,356.8"/>
</g>
<g class="ltf">
<polygon points="523.4,337.4 524.0,336.8 524.2,337.0"/>
</g>
<g class="lt">
<polygon points="530.9,336.0 530.7,335.3 535.7,333.3 536.2,334.4"/>
</g>
<g class="ltf">
<polygon points="520.7,336.9 520.6,337.5 518.9,337.6 519.0,336.6"/>
<polygon points="523.4,337.4 522.5,336.8 522.7,336.7"/>
<polygon points="529.6,336.4 529.4,335.8 530.7,335.3 530.9,336.0"/>
</g>
<g class="lt">
<polygon points="536.2,334.4 535.7,333.3 540.9,330.7 541.5,332.2"/>
</g>
<g class="ltf">
<polygon points="527.8,336.7 527.7,336.3 529.4,335.8 529.6,336.4"/>
<polygon points="523.4,337.4 524.2,337.0 524.4,337.0"/>
<polygon points="523.4,337.4 522.3,337.0 522.5,336.8"/>
</g>
<g class="dkf">
<polygon points="526.5,347.2 527.2,346.8 528.7,347.4 527.7,348.0"/>
</g>
<g class="ltf">
<polygon points="526.1,337.0 526.0,336.7 527.7,336.3 527.8,336.7"/>
<polygon points="522.1,337.2 522.1,337.4 520.6,337.5 520.7,336.9"/>
</g>
<g class="dk">
<polygon points="574.7,359.4 576.6,356.7 582.9,358.0 580.8,361.1"/>
<polygon points="450.7,356.8 453.2,373.1 446.7,375.7 444.0,357.9"/>
</g>
<g class="ltf">
<polygon points="523.4,337.4 522.1,337.2 522.3,337.0"/>
<polygon points="523.4,337.4 524.4,337.0 524.6,337.1"/>
</g>
<g class="lt">
<polygon points="558.4,325.3 557.2,323.1 562.9,322.2 564.3,324.8"/>
<polygon points="541.5,332.2 540.9,330.7 546.2,327.9 547.0,329.6"/>
</g>
<g class="ltf">
<polygon points="524.6,337.2 524.6,337.1 526.0,336.7 526.1,337.0"/>
</g>
<g class="dkf">
<polygon points="524.1,346.7 524.7,346.6 525.6,347.5 524.5,347.7"/>
</g>
<g class="ltf">
<polygon points="523.4,337.4 522.1,337.4 522.1,337.2"/>
</g>
<g class="dkf">
<polygon points="522.0,346.5 522.6,346.5 522.2,347.3 521.1,347.3"/>
</g>
<g class="ltf">
<polygon points="523.4,337.4 524.6,337.1 524.6,337.2"/>
</g>
<g class="dk">
<polygon points="529.9,347.9 530.7,347.2 535.7,348.6 534.4,349.8"/>
<polygon points="444.0,357.9 446.7,375.7 440.0,378.3 437.1,359.0"/>
</g>
<g class="ltf">
<polygon points="523.4,337.4 522.1,337.7 522.1,337.4"/>
</g>
<g class="dk">
<polygon points="580.8,361.1 582.9,358.0 589.4,359.4 587.1,362.8"/>
</g>
<g class="lt">
<polygon points="547.0,329.6 546.2,327.9 551.7,325.1 552.6,327.2"/>
</g>
<g class="ltf">
<polygon points="523.4,337.4 524.6,337.2 524.6,337.4"/>
</g>
<g class="dkf">
<polygon points="523.3,346.7 524.1,346.7 524.5,347.7 523.3,347.6"/>
</g>
<g class="lt">
<polygon points="552.6,327.2 551.7,325.1 557.2,323.1 558.4,325.3"/>
</g>
<g class="dkf">
<polygon points="522.6,346.5 523.3,346.7 523.3,347.6 522.2,347.3"/>
</g>
<g class="ltf">
<polygon points="522.1,337.4 522.1,337.7 520.7,338.0 520.6,337.5"/>
<polygon points="523.4,337.4 522.3,337.8 522.1,337.7"/>
</g>
<g class="dk">
<polygon points="518.0,348.3 518.9,348.3 518.0,349.0 516.8,348.9"/>
</g>
<g class="ltf">
<polygon points="523.4,337.4 524.6,337.4 524.4,337.5"/>
</g>
<g class="dk">
<polygon points="437.1,359.0 440.0,378.3 433.2,381.0 430.1,360.1"/>
</g>
<g class="ltf">
<polygon points="520.6,337.5 520.7,338.0 519.0,338.4 518.9,337.6"/>
<polygon points="523.4,337.4 522.5,337.9 522.3,337.8"/>
<polygon points="524.6,337.4 524.6,337.2 526.1,337.0 526.0,337.4"/>
<polygon points="523.4,337.4 524.4,337.5 524.2,337.7"/>
</g>
<g class="dk">
<polygon points="587.1,362.8 589.4,359.4 596.0,360.9 593.4,364.6"/>
</g>
<g class="ltf">
<polygon points="523.4,337.4 522.7,337.9 522.5,337.9"/>
<polygon points="523.4,337.4 524.2,337.7 524.0,337.8"/>
<polygon points="518.9,337.6 519.0,338.4 517.3,338.8 517.1,337.6"/>
</g>
<g class="dk">
<polygon points="527.7,348.0 528.7,347.4 529.9,347.9 528.7,348.6"/>
</g>
<g class="ltf">
<polygon points="523.4,337.4 523.0,338.0 522.7,337.9"/>
<polygon points="523.4,337.4 524.0,337.8 523.7,337.9"/>
<polygon points="523.4,337.4 523.3,338.0 523.0,338.0"/>
<polygon points="523.4,337.4 523.7,337.9 523.3,338.0"/>
</g>
<g class="dkf">
<polygon points="520.2,347.4 521.1,347.3 520.2,348.1 518.9,348.3"/>
<polygon points="525.6,347.5 526.5,347.2 527.7,348.0 526.4,348.5"/>
</g>
<g class="ltf">
<polygon points="522.1,337.7 522.3,337.8 521.0,338.3 520.7,338.0"/>
<polygon points="526.0,337.4 526.1,337.0 527.8,336.7 527.7,337.3"/>
<polygon points="517.1,337.6 517.3,338.8 516.0,339.1 515.8,337.6"/>
</g>
<g class="dk">
<polygon points="593.4,364.6 596.0,360.9 602.7,362.3 600.0,366.4"/>
</g>
<g class="ltf">
<polygon points="524.4,337.5 524.6,337.4 526.0,337.4 525.7,337.8"/>
</g>
<g class="dk">
<polygon points="511.0,350.1 512.2,351.5 507.6,354.2 505.8,352.2"/>
</g>
<g class="ltf">
<polygon points="527.7,337.3 527.8,336.7 529.6,336.4 529.4,337.2"/>
</g>
<g class="lt">
<polygon points="515.8,337.6 516.0,339.1 511.0,340.0 510.5,337.4"/>
</g>
<g class="ltf">
<polygon points="522.3,337.8 522.5,337.9 521.4,338.5 521.0,338.3"/>
</g>
<g class="dk">
<polygon points="600.0,366.4 602.7,362.3 609.6,363.8 606.6,368.2"/>
</g>
<g class="ltf">
<polygon points="520.7,338.0 521.0,338.3 519.5,338.9 519.0,338.4"/>
<polygon points="524.2,337.7 524.4,337.5 525.7,337.8 525.3,338.1"/>
</g>
<g class="dkf">
<polygon points="524.5,347.7 525.6,347.5 526.4,348.5 524.9,348.7"/>
</g>
<g class="ltf">
<polygon points="529.4,337.2 529.6,336.4 530.9,336.0 530.7,337.1"/>
</g>
<g class="dkf">
<polygon points="521.1,347.3 522.2,347.3 521.7,348.2 520.2,348.1"/>
</g>
<g class="ltf">
<polygon points="522.5,337.9 522.7,337.9 522.0,338.6 521.4,338.5"/>
</g>
<g class="dk">
<polygon points="606.6,368.2 609.6,363.8 616.6,365.3 613.4,370.1"/>
</g>
<g class="ltf">
<polygon points="525.7,337.8 526.0,337.4 527.7,337.3 527.2,338.0"/>
<polygon points="524.0,337.8 524.2,337.7 525.3,338.1 524.7,338.4"/>
</g>
<g class="dk">
<polygon points="534.4,349.8 535.7,348.6 540.9,350.0 539.1,351.8"/>
</g>
<g class="dkf">
<polygon points="523.3,347.6 524.5,347.7 524.9,348.7 523.3,348.6"/>
</g>
<g class="lt">
<polygon points="510.5,337.4 511.0,340.0 505.8,340.8 505.2,337.2"/>
</g>
<g class="ltf">
<polygon points="522.7,337.9 523.0,338.0 522.6,338.7 522.0,338.6"/>
<polygon points="519.0,338.4 519.5,338.9 518.0,339.4 517.3,338.8"/>
</g>
<g class="dk">
<polygon points="518.9,348.3 520.2,348.1 519.5,348.8 518.0,349.0"/>
<polygon points="526.4,348.5 527.7,348.0 528.7,348.6 527.1,349.2"/>
</g>
<g class="ltf">
<polygon points="523.7,337.9 524.0,337.8 524.7,338.4 524.1,338.7"/>
</g>
<g class="dkf">
<polygon points="522.2,347.3 523.3,347.6 523.3,348.6 521.7,348.2"/>
</g>
<g class="ltf">
<polygon points="523.0,338.0 523.3,338.0 523.3,338.8 522.6,338.7"/>
<polygon points="523.3,338.0 523.7,337.9 524.1,338.7 523.3,338.8"/>
</g>
<g class="dk">
<polygon points="516.8,348.9 518.0,349.0 514.3,351.6 512.2,351.5"/>
</g>
<g class="ltf">
<polygon points="521.0,338.3 521.4,338.5 520.2,339.3 519.5,338.9"/>
</g>
<g class="lt">
<polygon points="530.7,337.1 530.9,336.0 536.2,334.4 535.7,336.4"/>
</g>
<g class="ltf">
<polygon points="525.3,338.1 525.7,337.8 527.2,338.0 526.5,338.6"/>
<polygon points="527.2,338.0 527.7,337.3 529.4,337.2 528.7,338.1"/>
<polygon points="517.3,338.8 518.0,339.4 516.8,339.8 516.0,339.1"/>
</g>
<g class="dk">
<polygon points="505.8,352.2 507.6,354.2 502.8,356.9 500.5,354.3"/>
<polygon points="528.7,348.6 529.9,347.9 534.4,349.8 532.4,350.9"/>
</g>
<g class="lt">
<polygon points="505.2,337.2 505.8,340.8 500.5,341.5 499.7,336.8"/>
</g>
<g class="dk">
<polygon points="524.9,348.7 526.4,348.5 527.1,349.2 525.3,349.5"/>
</g>
<g class="ltf">
<polygon points="521.4,338.5 522.0,338.6 521.1,339.4 520.2,339.3"/>
</g>
<g class="dk">
<polygon points="520.2,348.1 521.7,348.2 521.4,348.9 519.5,348.8"/>
</g>
<g class="ltf">
<polygon points="524.7,338.4 525.3,338.1 526.5,338.6 525.6,339.1"/>
<polygon points="528.7,338.1 529.4,337.2 530.7,337.1 529.9,338.2"/>
<polygon points="519.5,338.9 520.2,339.3 518.9,340.0 518.0,339.4"/>
<polygon points="522.0,338.6 522.6,338.7 522.2,339.7 521.1,339.4"/>
</g>
<g class="dk">
<polygon points="523.3,348.6 524.9,348.7 525.3,349.5 523.3,349.3"/>
</g>
<g class="ltf">
<polygon points="524.1,338.7 524.7,338.4 525.6,339.1 524.5,339.5"/>
</g>
<g class="dk">
<polygon points="521.7,348.2 523.3,348.6 523.3,349.3 521.4,348.9"/>
</g>
<g class="lt">
<polygon points="499.7,336.8 500.5,341.5 495.0,342.0 494.1,336.3"/>
</g>
<g class="ltf">
<polygon points="526.5,338.6 527.2,338.0 528.7,338.1 527.7,339.0"/>
</g>
<g class="dk">
<polygon points="539.1,351.8 540.9,350.0 546.2,351.5 543.8,353.8"/>
</g>
<g class="ltf">
<polygon points="522.6,338.7 523.3,338.8 523.3,339.7 522.2,339.7"/>
</g>
<g class="lt">
<polygon points="516.0,339.1 516.8,339.8 512.2,341.4 511.0,340.0"/>
</g>
<g class="ltf">
<polygon points="523.3,338.8 524.1,338.7 524.5,339.5 523.3,339.7"/>
</g>
<g class="lt">
<polygon points="535.7,336.4 536.2,334.4 541.5,332.2 540.9,335.2"/>
</g>
<g class="dk">
<polygon points="500.5,354.3 502.8,356.9 498.0,359.7 495.0,356.4"/>
</g>
<g class="ltf">
<polygon points="518.0,339.4 518.9,340.0 518.0,340.6 516.8,339.8"/>
<polygon points="520.2,339.3 521.1,339.4 520.2,340.3 518.9,340.0"/>
</g>
<g class="dk">
<polygon points="518.0,349.0 519.5,348.8 516.9,351.3 514.3,351.6"/>
<polygon points="527.1,349.2 528.7,348.6 532.4,350.9 529.7,351.9"/>
</g>
<g class="lt">
<polygon points="494.1,336.3 495.0,342.0 489.5,342.5 488.3,335.7"/>
</g>
<g class="ltf">
<polygon points="525.6,339.1 526.5,338.6 527.7,339.0 526.4,339.8"/>
<polygon points="527.7,339.0 528.7,338.1 529.9,338.2 528.7,339.4"/>
</g>
<g class="lt">
<polygon points="529.9,338.2 530.7,337.1 535.7,336.4 534.4,338.5"/>
</g>
<g class="dk">
<polygon points="512.2,351.5 514.3,351.6 510.5,354.3 507.6,354.2"/>
</g>
<g class="ltf">
<polygon points="521.1,339.4 522.2,339.7 521.7,340.6 520.2,340.3"/>
<polygon points="524.5,339.5 525.6,339.1 526.4,339.8 524.9,340.4"/>
<polygon points="522.2,339.7 523.3,339.7 523.3,340.7 521.7,340.6"/>
<polygon points="523.3,339.7 524.5,339.5 524.9,340.4 523.3,340.7"/>
</g>
<g class="lt">
<polygon points="488.3,335.7 489.5,342.5 483.8,342.8 482.4,335.1"/>
<polygon points="540.9,335.2 541.5,332.2 547.0,329.6 546.2,333.9"/>
</g>
<g class="ltf">
<polygon points="518.9,340.0 520.2,340.3 519.5,340.9 518.0,340.6"/>
</g>
<g class="dk">
<polygon points="543.8,353.8 546.2,351.5 551.6,353.0 548.7,355.8"/>
<polygon points="532.4,350.9 534.4,349.8 539.1,351.8 536.2,353.3"/>
<polygon points="495.0,356.4 498.0,359.7 493.0,362.6 489.5,358.6"/>
</g>
<g class="lt">
<polygon points="511.0,340.0 512.2,341.4 507.6,342.9 505.8,340.8"/>
</g>
<g class="ltf">
<polygon points="526.4,339.8 527.7,339.0 528.7,339.4 527.1,340.4"/>
</g>
<g class="dk">
<polygon points="525.3,349.5 527.1,349.2 529.7,351.9 526.6,352.4"/>
</g>
<g class="lt">
<polygon points="516.8,339.8 518.0,340.6 514.3,342.8 512.2,341.4"/>
</g>
<g class="dk">
<polygon points="519.5,348.8 521.4,348.9 520.0,351.4 516.9,351.3"/>
</g>
<g class="ltf">
<polygon points="520.2,340.3 521.7,340.6 521.4,341.4 519.5,340.9"/>
</g>
<g class="lt">
<polygon points="482.4,335.1 483.8,342.8 477.9,343.1 476.3,334.6"/>
</g>
<g class="ltf">
<polygon points="524.9,340.4 526.4,339.8 527.1,340.4 525.3,341.2"/>
</g>
<g class="dk">
<polygon points="523.3,349.3 525.3,349.5 526.6,352.4 523.3,352.1"/>
<polygon points="521.4,348.9 523.3,349.3 523.3,352.1 520.0,351.4"/>
</g>
<g class="lt">
<polygon points="528.7,339.4 529.9,338.2 534.4,338.5 532.4,340.8"/>
</g>
<g class="ltf">
<polygon points="521.7,340.6 523.3,340.7 523.3,341.5 521.4,341.4"/>
<polygon points="523.3,340.7 524.9,340.4 525.3,341.2 523.3,341.5"/>
</g>
<g class="lt">
<polygon points="546.2,333.9 547.0,329.6 552.6,327.2 551.6,332.9"/>
</g>
<g class="dk">
<polygon points="489.5,358.6 493.0,362.6 487.8,365.5 483.8,360.9"/>
<polygon points="548.7,355.8 551.6,353.0 557.2,354.5 553.7,357.9"/>
</g>
<g class="lt">
<polygon points="534.4,338.5 535.7,336.4 540.9,335.2 539.1,338.7"/>
<polygon points="476.3,334.6 477.9,343.1 471.9,343.4 470.1,334.2"/>
<polygon points="505.8,340.8 507.6,342.9 502.8,344.2 500.5,341.5"/>
</g>
<g class="dk">
<polygon points="507.6,354.2 510.5,354.3 506.6,357.1 502.8,356.9"/>
</g>
<g class="lt">
<polygon points="518.0,340.6 519.5,340.9 516.9,343.5 514.3,342.8"/>
<polygon points="600.0,352.5 602.7,343.1 609.6,345.3 606.6,354.9"/>
<polygon points="593.4,349.6 596.0,340.0 602.7,343.1 600.0,352.5"/>
</g>
<g class="dk">
<polygon points="514.3,351.6 516.9,351.3 514.2,353.8 510.5,354.3"/>
</g>
<g class="lt">
<polygon points="606.6,354.9 609.6,345.3 616.6,347.5 613.4,357.1"/>
<polygon points="470.1,334.2 471.9,343.4 465.8,343.6 463.8,334.0"/>
</g>
<g class="dk">
<polygon points="529.7,351.9 532.4,350.9 536.2,353.3 532.4,354.8"/>
</g>
<g class="lt">
<polygon points="527.1,340.4 528.7,339.4 532.4,340.8 529.7,342.8"/>
</g>
<g class="dk">
<polygon points="536.2,353.3 539.1,351.8 543.8,353.8 540.0,355.8"/>
</g>
<g class="lt">
<polygon points="551.6,332.9 552.6,327.2 558.4,325.3 557.2,332.5"/>
<polygon points="587.1,346.0 589.4,336.2 596.0,340.0 593.4,349.6"/>
</g>
<g class="dk">
<polygon points="483.8,360.9 487.8,365.5 482.6,368.5 477.9,363.3"/>
</g>
<g class="lt">
<polygon points="512.2,341.4 514.3,342.8 510.5,345.1 507.6,342.9"/>
</g>
<g class="dk">
<polygon points="553.7,357.9 557.2,354.5 562.9,356.1 558.8,360.1"/>
</g>
<g class="lt">
<polygon points="519.5,340.9 521.4,341.4 520.0,344.4 516.9,343.5"/>
<polygon points="580.8,342.1 582.9,332.1 589.4,336.2 587.1,346.0"/>
<polygon points="463.8,334.0 465.8,343.6 459.6,343.7 457.3,333.6"/>
<polygon points="525.3,341.2 527.1,340.4 529.7,342.8 526.6,344.1"/>
<polygon points="557.2,332.5 558.4,325.3 564.3,324.8 562.9,333.2"/>
<polygon points="500.5,341.5 502.8,344.2 498.0,345.6 495.0,342.0"/>
<polygon points="521.4,341.4 523.3,341.5 523.3,344.7 520.0,344.4"/>
<polygon points="574.7,338.4 576.6,328.4 582.9,332.1 580.8,342.1"/>
<polygon points="523.3,341.5 525.3,341.2 526.6,344.1 523.3,344.7"/>
<polygon points="539.1,338.7 540.9,335.2 546.2,333.9 543.8,339.0"/>
<polygon points="562.9,333.2 564.3,324.8 570.4,325.8 568.8,335.2"/>
<polygon points="532.4,340.8 534.4,338.5 539.1,338.7 536.2,342.4"/>
<polygon points="568.8,335.2 570.4,325.8 576.6,328.4 574.7,338.4"/>
</g>
<g class="dk">
<polygon points="526.6,352.4 529.7,351.9 532.4,354.8 528.0,355.5"/>
<polygon points="477.9,363.3 482.6,368.5 477.2,371.6 471.9,365.6"/>
</g>
<g class="lt">
<polygon points="457.3,333.6 459.6,343.7 453.2,343.8 450.7,332.8"/>
</g>
<g class="dk">
<polygon points="502.8,356.9 506.6,357.1 502.6,359.9 498.0,359.7"/>
<polygon points="516.9,351.3 520.0,351.4 518.6,354.0 514.2,353.8"/>
<polygon points="558.8,360.1 562.9,356.1 568.8,357.8 564.0,362.3"/>
<polygon points="523.3,352.1 526.6,352.4 528.0,355.5 523.3,355.1"/>
<polygon points="540.0,355.8 543.8,353.8 548.7,355.8 544.0,358.3"/>
</g>
<g class="lt">
<polygon points="450.7,332.8 453.2,343.8 446.7,344.0 444.0,331.6"/>
</g>
<g class="dk">
<polygon points="520.0,351.4 523.3,352.1 523.3,355.1 518.6,354.0"/>
</g>
<g class="lt">
<polygon points="514.3,342.8 516.9,343.5 514.2,346.3 510.5,345.1"/>
<polygon points="495.0,342.0 498.0,345.6 493.0,346.8 489.5,342.5"/>
</g>
<g class="dk">
<polygon points="471.9,365.6 477.2,371.6 471.7,374.7 465.8,368.1"/>
</g>
<g class="lt">
<polygon points="507.6,342.9 510.5,345.1 506.6,347.4 502.8,344.2"/>
</g>
<g class="dk">
<polygon points="510.5,354.3 514.2,353.8 511.5,356.4 506.6,357.1"/>
<polygon points="532.4,354.8 536.2,353.3 540.0,355.8 535.1,357.7"/>
</g>
<g class="lt">
<polygon points="529.7,342.8 532.4,340.8 536.2,342.4 532.4,345.4"/>
<polygon points="543.8,339.0 546.2,333.9 551.6,332.9 548.7,339.7"/>
<polygon points="444.0,331.6 446.7,344.0 440.0,344.1 437.1,330.2"/>
</g>
<g class="dk">
<polygon points="564.0,362.3 568.8,357.8 574.7,359.4 569.4,364.6"/>
<polygon points="498.0,359.7 502.6,359.9 498.5,362.8 493.0,362.6"/>
</g>
<g class="lt">
<polygon points="516.9,343.5 520.0,344.4 518.6,347.8 514.2,346.3"/>
<polygon points="536.2,342.4 539.1,338.7 543.8,339.0 540.0,344.2"/>
</g>
<g class="dk">
<polygon points="465.8,368.1 471.7,374.7 466.1,378.0 459.6,370.6"/>
</g>
<g class="lt">
<polygon points="526.6,344.1 529.7,342.8 532.4,345.4 528.0,347.5"/>
<polygon points="489.5,342.5 493.0,346.8 487.8,348.0 483.8,342.8"/>
<polygon points="437.1,330.2 440.0,344.1 433.2,343.9 430.1,328.7"/>
<polygon points="520.0,344.4 523.3,344.7 523.3,348.3 518.6,347.8"/>
</g>
<g class="dk">
<polygon points="544.0,358.3 548.7,355.8 553.7,357.9 548.1,360.9"/>
</g>
<g class="lt">
<polygon points="523.3,344.7 526.6,344.1 528.0,347.5 523.3,348.3"/>
</g>
<g class="dk">
<polygon points="528.0,355.5 532.4,354.8 535.1,357.7 529.4,358.6"/>
<polygon points="569.4,364.6 574.7,359.4 580.8,361.1 574.9,366.9"/>
</g>
<g class="lt">
<polygon points="548.7,339.7 551.6,332.9 557.2,332.5 553.7,341.0"/>
<polygon points="502.8,344.2 506.6,347.4 502.6,349.7 498.0,345.6"/>
</g>
<g class="dk">
<polygon points="459.6,370.6 466.1,378.0 460.4,381.2 453.2,373.1"/>
<polygon points="514.2,353.8 518.6,354.0 517.2,356.7 511.5,356.4"/>
</g>
<g class="lt">
<polygon points="510.5,345.1 514.2,346.3 511.5,349.3 506.6,347.4"/>
</g>
<g class="dk">
<polygon points="493.0,362.6 498.5,362.8 494.3,365.8 487.8,365.5"/>
<polygon points="506.6,357.1 511.5,356.4 508.7,359.1 502.6,359.9"/>
<polygon points="535.1,357.7 540.0,355.8 544.0,358.3 537.9,360.7"/>
</g>
<g class="lt">
<polygon points="532.4,345.4 536.2,342.4 540.0,344.2 535.1,348.5"/>
</g>
<g class="dk">
<polygon points="523.3,355.1 528.0,355.5 529.4,358.6 523.3,358.1"/>
</g>
<g class="lt">
<polygon points="483.8,342.8 487.8,348.0 482.6,349.0 477.9,343.1"/>
</g>
<g class="dk">
<polygon points="518.6,354.0 523.3,355.1 523.3,358.1 517.2,356.7"/>
<polygon points="574.9,366.9 580.8,361.1 587.1,362.8 580.5,369.2"/>
</g>
<g class="lt">
<polygon points="540.0,344.2 543.8,339.0 548.7,339.7 544.0,346.5"/>
</g>
<g class="dk">
<polygon points="453.2,373.1 460.4,381.2 454.6,384.6 446.7,375.7"/>
</g>
<g class="lt">
<polygon points="553.7,341.0 557.2,332.5 562.9,333.2 558.8,343.0"/>
</g>
<g class="dk">
<polygon points="548.1,360.9 553.7,357.9 558.8,360.1 552.3,363.6"/>
</g>
<g class="lt">
<polygon points="514.2,346.3 518.6,347.8 517.2,351.5 511.5,349.3"/>
<polygon points="528.0,347.5 532.4,345.4 535.1,348.5 529.4,351.4"/>
<polygon points="498.0,345.6 502.6,349.7 498.5,352.1 493.0,346.8"/>
</g>
<g class="dk">
<polygon points="446.7,375.7 454.6,384.6 448.6,388.0 440.0,378.3"/>
</g>
<g class="lt">
<polygon points="477.9,343.1 482.6,349.0 477.2,349.8 471.9,343.4"/>
</g>
<g class="dk">
<polygon points="580.5,369.2 587.1,362.8 593.4,364.6 586.2,371.6"/>
</g>
<g class="lt">
<polygon points="558.8,343.0 562.9,333.2 568.8,335.2 564.0,345.7"/>
</g>
<g class="dk">
<polygon points="487.8,365.5 494.3,365.8 490.0,368.8 482.6,368.5"/>
</g>
<g class="lt">
<polygon points="518.6,347.8 523.3,348.3 523.3,352.3 517.2,351.5"/>
<polygon points="523.3,348.3 528.0,347.5 529.4,351.4 523.3,352.3"/>
</g>
<g class="dk">
<polygon points="529.4,358.6 535.1,357.7 537.9,360.7 530.9,361.8"/>
</g>
<g class="lt">
<polygon points="506.6,347.4 511.5,349.3 508.7,352.5 502.6,349.7"/>
</g>
<g class="dk">
<polygon points="511.5,356.4 517.2,356.7 515.7,359.4 508.7,359.1"/>
<polygon points="502.6,359.9 508.7,359.1 505.8,361.9 498.5,362.8"/>
<polygon points="537.9,360.7 544.0,358.3 548.1,360.9 540.8,363.7"/>
</g>
<g class="lt">
<polygon points="544.0,346.5 548.7,339.7 553.7,341.0 548.1,349.1"/>
<polygon points="535.1,348.5 540.0,344.2 544.0,346.5 537.9,351.9"/>
<polygon points="564.0,345.7 568.8,335.2 574.7,338.4 569.4,348.9"/>
</g>
<g class="dk">
<polygon points="440.0,378.3 448.6,388.0 442.5,391.5 433.2,381.0"/>
<polygon points="552.3,363.6 558.8,360.1 564.0,362.3 556.5,366.3"/>
<polygon points="586.2,371.6 593.4,364.6 600.0,366.4 592.0,374.1"/>
</g>
<g class="lt">
<polygon points="471.9,343.4 477.2,349.8 471.7,350.4 465.8,343.6"/>
</g>
<g class="dk">
<polygon points="523.3,358.1 529.4,358.6 530.9,361.8 523.3,361.1"/>
</g>
<g class="lt">
<polygon points="493.0,346.8 498.5,352.1 494.3,354.3 487.8,348.0"/>
</g>
<g class="dk">
<polygon points="517.2,356.7 523.3,358.1 523.3,361.1 515.7,359.4"/>
</g>
<g class="lt">
<polygon points="569.4,348.9 574.7,338.4 580.8,342.1 574.9,352.1"/>
</g>
<g class="dk">
<polygon points="482.6,368.5 490.0,368.8 485.6,371.9 477.2,371.6"/>
</g>
<g class="lt">
<polygon points="511.5,349.3 517.2,351.5 515.7,355.5 508.7,352.5"/>
<polygon points="529.4,351.4 535.1,348.5 537.9,351.9 530.9,355.5"/>
</g>
<g class="dk">
<polygon points="592.0,374.1 600.0,366.4 606.6,368.2 597.9,376.6"/>
</g>
<g class="lt">
<polygon points="574.9,352.1 580.8,342.1 587.1,346.0 580.5,355.2"/>
<polygon points="548.1,349.1 553.7,341.0 558.8,343.0 552.3,352.1"/>
<polygon points="502.6,349.7 508.7,352.5 505.8,355.8 498.5,352.1"/>
<polygon points="517.2,351.5 523.3,352.3 523.3,356.6 515.7,355.5"/>
<polygon points="523.3,352.3 529.4,351.4 530.9,355.5 523.3,356.6"/>
</g>
<g class="dk">
<polygon points="556.5,366.3 564.0,362.3 569.4,364.6 560.9,369.1"/>
</g>
<g class="lt">
<polygon points="465.8,343.6 471.7,350.4 466.1,350.8 459.6,343.7"/>
</g>
<g class="dk">
<polygon points="530.9,361.8 537.9,360.7 540.8,363.7 532.4,365.0"/>
</g>
<g class="lt">
<polygon points="537.9,351.9 544.0,346.5 548.1,349.1 540.8,355.5"/>
</g>
<g class="dk">
<polygon points="498.5,362.8 505.8,361.9 502.8,364.7 494.3,365.8"/>
<polygon points="540.8,363.7 548.1,360.9 552.3,363.6 543.8,366.8"/>
</g>
<g class="lt">
<polygon points="580.5,355.2 587.1,346.0 593.4,349.6 586.2,358.0"/>
</g>
<g class="dk">
<polygon points="508.7,359.1 515.7,359.4 514.2,362.3 505.8,361.9"/>
<polygon points="597.9,376.6 606.6,368.2 613.4,370.1 604.0,379.1"/>
<polygon points="477.2,371.6 485.6,371.9 481.2,375.1 471.7,374.7"/>
</g>
<g class="lt">
<polygon points="487.8,348.0 494.3,354.3 490.0,356.3 482.6,349.0"/>
<polygon points="552.3,352.1 558.8,343.0 564.0,345.7 556.5,355.2"/>
</g>
<g class="dk">
<polygon points="523.3,361.1 530.9,361.8 532.4,365.0 523.3,364.3"/>
</g>
<g class="lt">
<polygon points="586.2,358.0 593.4,349.6 600.0,352.5 592.0,360.4"/>
<polygon points="459.6,343.7 466.1,350.8 460.4,351.1 453.2,343.8"/>
<polygon points="508.7,352.5 515.7,355.5 514.2,359.6 505.8,355.8"/>
</g>
<g class="dk">
<polygon points="515.7,359.4 523.3,361.1 523.3,364.3 514.2,362.3"/>
</g>
<g class="lt">
<polygon points="530.9,355.5 537.9,351.9 540.8,355.5 532.4,359.7"/>
</g>
<g class="dk">
<polygon points="560.9,369.1 569.4,364.6 574.9,366.9 565.4,371.9"/>
</g>
<g class="lt">
<polygon points="498.5,352.1 505.8,355.8 502.8,358.9 494.3,354.3"/>
<polygon points="540.8,355.5 548.1,349.1 552.3,352.1 543.8,359.1"/>
</g>
<g class="dk">
<polygon points="471.7,374.7 481.2,375.1 476.6,378.4 466.1,378.0"/>
<polygon points="494.3,365.8 502.8,364.7 499.8,367.6 490.0,368.8"/>
</g>
<g class="lt">
<polygon points="523.3,356.6 530.9,355.5 532.4,359.7 523.3,361.0"/>
<polygon points="515.7,355.5 523.3,356.6 523.3,361.0 514.2,359.6"/>
</g>
<g class="dk">
<polygon points="543.8,366.8 552.3,363.6 556.5,366.3 546.8,370.0"/>
</g>
<g class="lt">
<polygon points="592.0,360.4 600.0,352.5 606.6,354.9 597.9,362.5"/>
<polygon points="482.6,349.0 490.0,356.3 485.6,357.8 477.2,349.8"/>
</g>
<g class="dk">
<polygon points="532.4,365.0 540.8,363.7 543.8,366.8 533.9,368.4"/>
</g>
<g class="lt">
<polygon points="556.5,355.2 564.0,345.7 569.4,348.9 560.9,358.1"/>
<polygon points="453.2,343.8 460.4,351.1 454.6,351.4 446.7,344.0"/>
</g>
<g class="dk">
<polygon points="505.8,361.9 514.2,362.3 512.7,365.1 502.8,364.7"/>
<polygon points="565.4,371.9 574.9,366.9 580.5,369.2 569.9,374.8"/>
</g>
<g class="lt">
<polygon points="597.9,362.5 606.6,354.9 613.4,357.1 604.0,364.4"/>
</g>
<g class="dk">
<polygon points="466.1,378.0 476.6,378.4 471.9,381.7 460.4,381.2"/>
</g>
<g class="lt">
<polygon points="532.4,359.7 540.8,355.5 543.8,359.1 533.9,363.8"/>
<polygon points="505.8,355.8 514.2,359.6 512.7,363.5 502.8,358.9"/>
</g>
<g class="dk">
<polygon points="523.3,364.3 532.4,365.0 533.9,368.4 523.3,367.5"/>
</g>
<g class="lt">
<polygon points="494.3,354.3 502.8,358.9 499.8,361.5 490.0,356.3"/>
<polygon points="543.8,359.1 552.3,352.1 556.5,355.2 546.8,362.4"/>
</g>
<g class="dk">
<polygon points="514.2,362.3 523.3,364.3 523.3,367.5 512.7,365.1"/>
</g>
<g class="lt">
<polygon points="446.7,344.0 454.6,351.4 448.6,351.7 440.0,344.1"/>
<polygon points="560.9,358.1 569.4,348.9 574.9,352.1 565.4,360.9"/>
</g>
<g class="dk">
<polygon points="490.0,368.8 499.8,367.6 496.7,370.5 485.6,371.9"/>
<polygon points="546.8,370.0 556.5,366.3 560.9,369.1 549.9,373.3"/>
</g>
<g class="lt">
<polygon points="477.2,349.8 485.6,357.8 481.2,358.9 471.7,350.4"/>
<polygon points="523.3,361.0 532.4,359.7 533.9,363.8 523.3,365.3"/>
<polygon points="514.2,359.6 523.3,361.0 523.3,365.3 512.7,363.5"/>
</g>
<g class="dk">
<polygon points="533.9,368.4 543.8,366.8 546.8,370.0 535.4,371.8"/>
<polygon points="569.9,374.8 580.5,369.2 586.2,371.6 574.6,377.8"/>
<polygon points="460.4,381.2 471.9,381.7 467.1,385.1 454.6,384.6"/>
<polygon points="502.8,364.7 512.7,365.1 511.1,368.1 499.8,367.6"/>
</g>
<g class="lt">
<polygon points="440.0,344.1 448.6,351.7 442.5,351.0 433.2,343.9"/>
<polygon points="565.4,360.9 574.9,352.1 580.5,355.2 569.9,363.3"/>
<polygon points="533.9,363.8 543.8,359.1 546.8,362.4 535.4,367.4"/>
<polygon points="546.8,362.4 556.5,355.2 560.9,358.1 549.9,365.4"/>
<polygon points="502.8,358.9 512.7,363.5 511.1,366.8 499.8,361.5"/>
<polygon points="490.0,356.3 499.8,361.5 496.7,363.5 485.6,357.8"/>
<polygon points="471.7,350.4 481.2,358.9 476.6,359.5 466.1,350.8"/>
</g>
<g class="dk">
<polygon points="485.6,371.9 496.7,370.5 493.5,373.6 481.2,375.1"/>
<polygon points="523.3,367.5 533.9,368.4 535.4,371.8 523.3,370.8"/>
<polygon points="549.9,373.3 560.9,369.1 565.4,371.9 553.0,376.7"/>
<polygon points="574.6,377.8 586.2,371.6 592.0,374.1 579.3,380.8"/>
<polygon points="512.7,365.1 523.3,367.5 523.3,370.8 511.1,368.1"/>
<polygon points="454.6,384.6 467.1,385.1 462.3,388.5 448.6,388.0"/>
</g>
<g class="lt">
<polygon points="523.3,365.3 533.9,363.8 535.4,367.4 523.3,369.0"/>
<polygon points="512.7,363.5 523.3,365.3 523.3,369.0 511.1,366.8"/>
</g>
<g class="dk">
<polygon points="535.4,371.8 546.8,370.0 549.9,373.3 537.0,375.3"/>
</g>
<g class="lt">
<polygon points="569.9,363.3 580.5,355.2 586.2,358.0 574.6,365.5"/>
</g>
<g class="dk">
<polygon points="499.8,367.6 511.1,368.1 509.5,371.1 496.7,370.5"/>
</g>
<g class="lt">
<polygon points="549.9,365.4 560.9,358.1 565.4,360.9 553.0,367.8"/>
</g>
<g class="dk">
<polygon points="579.3,380.8 592.0,374.1 597.9,376.6 584.2,383.9"/>
</g>
<g class="lt">
<polygon points="466.1,350.8 476.6,359.5 471.9,359.7 460.4,351.1"/>
</g>
<g class="dk">
<polygon points="448.6,388.0 462.3,388.5 457.3,392.0 442.5,391.5"/>
</g>
<g class="lt">
<polygon points="535.4,367.4 546.8,362.4 549.9,365.4 537.0,370.4"/>
</g>
<g class="dk">
<polygon points="481.2,375.1 493.5,373.6 490.2,376.6 476.6,378.4"/>
<polygon points="553.0,376.7 565.4,371.9 569.9,374.8 556.2,380.1"/>
</g>
<g class="lt">
<polygon points="485.6,357.8 496.7,363.5 493.5,364.6 481.2,358.9"/>
<polygon points="499.8,361.5 511.1,366.8 509.5,369.2 496.7,363.5"/>
</g>
<g class="dk">
<polygon points="523.3,370.8 535.4,371.8 537.0,375.3 523.2,374.2"/>
</g>
<g class="lt">
<polygon points="574.6,365.5 586.2,358.0 592.0,360.4 579.3,367.6"/>
</g>
<g class="dk">
<polygon points="511.1,368.1 523.3,370.8 523.2,374.2 509.5,371.1"/>
</g>
<g class="lt">
<polygon points="523.3,369.0 535.4,367.4 537.0,370.4 523.2,371.8"/>
</g>
<g class="dk">
<polygon points="537.0,375.3 549.9,373.3 553.0,376.7 538.6,378.9"/>
</g>
<g class="lt">
<polygon points="511.1,366.8 523.3,369.0 523.2,371.8 509.5,369.2"/>
</g>
<g class="dk">
<polygon points="584.2,383.9 597.9,376.6 604.0,379.1 589.1,387.0"/>
<polygon points="496.7,370.5 509.5,371.1 507.8,374.2 493.5,373.6"/>
</g>
<g class="lt">
<polygon points="460.4,351.1 471.9,359.7 467.1,359.9 454.6,351.4"/>
<polygon points="553.0,367.8 565.4,360.9 569.9,363.3 556.2,369.9"/>
</g>
<g class="dk">
<polygon points="476.6,378.4 490.2,376.6 486.9,379.8 471.9,381.7"/>
<polygon points="556.2,380.1 569.9,374.8 574.6,377.8 559.5,383.6"/>
</g>
<g class="lt">
<polygon points="579.3,367.6 592.0,360.4 597.9,362.5 584.2,369.6"/>
<polygon points="537.0,370.4 549.9,365.4 553.0,367.8 538.6,372.6"/>
<polygon points="481.2,358.9 493.5,364.6 490.2,364.9 476.6,359.5"/>
<polygon points="496.7,363.5 509.5,369.2 507.8,370.6 493.5,364.6"/>
</g>
<g class="dk">
<polygon points="523.2,374.2 537.0,375.3 538.6,378.9 523.2,377.6"/>
<polygon points="509.5,371.1 523.2,374.2 523.2,377.6 507.8,374.2"/>
<polygon points="538.6,378.9 553.0,376.7 556.2,380.1 540.3,382.6"/>
</g>
<g class="lt">
<polygon points="523.2,371.8 537.0,370.4 538.6,372.6 523.2,373.6"/>
<polygon points="454.6,351.4 467.1,359.9 462.3,360.1 448.6,351.7"/>
<polygon points="509.5,369.2 523.2,371.8 523.2,373.6 507.8,370.6"/>
<polygon points="584.2,369.6 597.9,362.5 604.0,364.4 589.1,370.9"/>
<polygon points="556.2,369.9 569.9,363.3 574.6,365.5 559.5,371.6"/>
</g>
<g class="dk">
<polygon points="471.9,381.7 486.9,379.8 483.5,383.0 467.1,385.1"/>
<polygon points="559.5,383.6 574.6,377.8 579.3,380.8 562.9,387.1"/>
<polygon points="493.5,373.6 507.8,374.2 506.1,377.4 490.2,376.6"/>
</g>
<g class="lt">
<polygon points="538.6,372.6 553.0,367.8 556.2,369.9 540.3,374.1"/>
<polygon points="476.6,359.5 490.2,364.9 486.9,364.8 471.9,359.7"/>
</g>
<g class="dk">
<polygon points="523.2,377.6 538.6,378.9 540.3,382.6 523.2,381.2"/>
</g>
<g class="lt">
<polygon points="493.5,364.6 507.8,370.6 506.1,371.1 490.2,364.9"/>
</g>
<g class="dk">
<polygon points="540.3,382.6 556.2,380.1 559.5,383.6 542.0,386.3"/>
<polygon points="507.8,374.2 523.2,377.6 523.2,381.2 506.1,377.4"/>
</g>
<g class="lt">
<polygon points="448.6,351.7 462.3,360.1 457.3,358.9 442.5,351.0"/>
</g>
<g class="dk">
<polygon points="467.1,385.1 483.5,383.0 480.1,386.3 462.3,388.5"/>
<polygon points="562.9,387.1 579.3,380.8 584.2,383.9 566.3,390.8"/>
</g>
<g class="lt">
<polygon points="559.5,371.6 574.6,365.5 579.3,367.6 562.9,373.2"/>
<polygon points="523.2,373.6 538.6,372.6 540.3,374.1 523.2,374.5"/>
</g>
<g class="dk">
<polygon points="490.2,376.6 506.1,377.4 504.4,380.6 486.9,379.8"/>
</g>
<g class="lt">
<polygon points="507.8,370.6 523.2,373.6 523.2,374.5 506.1,371.1"/>
<polygon points="471.9,359.7 486.9,364.8 483.5,364.5 467.1,359.9"/>
<polygon points="540.3,374.1 556.2,369.9 559.5,371.6 542.0,375.2"/>
</g>
<g class="dk">
<polygon points="523.2,381.2 540.3,382.6 542.0,386.3 523.2,384.8"/>
<polygon points="542.0,386.3 559.5,383.6 562.9,387.1 543.7,390.2"/>
<polygon points="462.3,388.5 480.1,386.3 476.6,389.6 457.3,392.0"/>
<polygon points="566.3,390.8 584.2,383.9 589.1,387.0 569.8,394.5"/>
</g>
<g class="lt">
<polygon points="490.2,364.9 506.1,371.1 504.4,371.1 486.9,364.8"/>
</g>
<g class="dk">
<polygon points="506.1,377.4 523.2,381.2 523.2,384.8 504.4,380.6"/>
</g>
<g class="lt">
<polygon points="562.9,373.2 579.3,367.6 584.2,369.6 566.3,374.9"/>
</g>
<g class="dk">
<polygon points="486.9,379.8 504.4,380.6 502.7,383.9 483.5,383.0"/>
</g>
<g class="lt">
<polygon points="523.2,374.5 540.3,374.1 542.0,375.2 523.2,374.9"/>
<polygon points="506.1,371.1 523.2,374.5 523.2,374.9 504.4,371.1"/>
<polygon points="467.1,359.9 483.5,364.5 480.1,364.5 462.3,360.1"/>
<polygon points="542.0,375.2 559.5,371.6 562.9,373.2 543.7,376.2"/>
</g>
<g class="dk">
<polygon points="523.2,384.8 542.0,386.3 543.7,390.2 523.2,388.4"/>
<polygon points="543.7,390.2 562.9,387.1 566.3,390.8 545.5,394.1"/>
<polygon points="504.4,380.6 523.2,384.8 523.2,388.4 502.7,383.9"/>
</g>
<g class="lt">
<polygon points="566.3,374.9 584.2,369.6 589.1,370.9 569.8,375.2"/>
<polygon points="486.9,364.8 504.4,371.1 502.7,370.9 483.5,364.5"/>
</g>
<g class="dk">
<polygon points="483.5,383.0 502.7,383.9 500.9,387.2 480.1,386.3"/>
</g>
<g class="lt">
<polygon points="523.2,374.9 542.0,375.2 543.7,376.2 523.2,375.2"/>
<polygon points="462.3,360.1 480.1,364.5 476.6,363.0 457.3,358.9"/>
<polygon points="504.4,371.1 523.2,374.9 523.2,375.2 502.7,370.9"/>
</g>
<g class="dk">
<polygon points="545.5,394.1 566.3,390.8 569.8,394.5 547.3,398.0"/>
<polygon points="523.2,388.4 543.7,390.2 545.5,394.1 523.2,392.2"/>
</g>
<g class="lt">
<polygon points="543.7,376.2 562.9,373.2 566.3,374.9 545.5,377.4"/>
</g>
<g class="dk">
<polygon points="502.7,383.9 523.2,388.4 523.2,392.2 500.9,387.2"/>
<polygon points="480.1,386.3 500.9,387.2 499.0,390.6 476.6,389.6"/>
</g>
<g class="lt">
<polygon points="483.5,364.5 502.7,370.9 500.9,371.1 480.1,364.5"/>
<polygon points="523.2,375.2 543.7,376.2 545.5,377.4 523.2,375.8"/>
</g>
<g class="dk">
<polygon points="523.2,392.2 545.5,394.1 547.3,398.0 523.2,396.0"/>
</g>
<g class="lt">
<polygon points="545.5,377.4 566.3,374.9 569.8,375.2 547.3,377.1"/>
<polygon points="502.7,370.9 523.2,375.2 523.2,375.8 500.9,371.1"/>
</g>
<g class="dk">
<polygon points="500.9,387.2 523.2,392.2 523.2,396.0 499.0,390.6"/>
</g>
<g class="lt">
<polygon points="480.1,364.5 500.9,371.1 499.0,370.0 476.6,363.0"/>
<polygon points="523.2,375.8 545.5,377.4 547.3,377.1 523.2,375.1"/>
<polygon points="500.9,371.1 523.2,375.8 523.2,375.1 499.0,370.0"/>
</g>
<rect x="192.5" y="260.6" width="102" height="37" fill="#fff" stroke="#a0a0a0" stroke-width="1"/>
<rect x="195.1" y="264.6" width="22.2" height="12.2" fill="none" stroke="#33e033" stroke-width="1"/>
<rect x="195.1" y="281.8" width="22.2" height="12.4" fill="none" stroke="#2a7a2a" stroke-width="1"/>
<text class="t" x="224.40" y="274.20" text-anchor="start" font-size="14">WLS</text>
<text class="t" x="224.40" y="292.60" text-anchor="start" font-size="14">WLS+PCA</text>
<rect x="547.5" y="260.6" width="102" height="37" fill="#fff" stroke="#a0a0a0" stroke-width="1"/>
<rect x="550.1" y="264.6" width="22.2" height="12.2" fill="none" stroke="#33e033" stroke-width="1"/>
<rect x="550.1" y="281.8" width="22.2" height="12.4" fill="none" stroke="#2a7a2a" stroke-width="1"/>
<text class="t" x="579.40" y="274.20" text-anchor="start" font-size="14">WLS</text>
<text class="t" x="579.40" y="292.60" text-anchor="start" font-size="14">WLS+PCA</text>
<text class="t" x="27.58" y="51.10" text-anchor="end" font-size="14.5">4</text>
<text class="t" x="27.58" y="105.50" text-anchor="end" font-size="14.5">2</text>
<text class="t" x="27.58" y="163.20" text-anchor="end" font-size="14.5">0</text>
<text class="t" x="27.18" y="178.80" text-anchor="end" font-size="14.5">-750</text>
<text class="t" x="96.78" y="198.20" text-anchor="end" font-size="14.5">0</text>
<text class="t" x="161.58" y="220.50" text-anchor="end" font-size="14.5">750</text>
<text class="t" x="173.22" y="220.50" text-anchor="start" font-size="14.5">-750</text>
<text class="t" x="246.02" y="196.70" text-anchor="start" font-size="14.5">0</text>
<text class="t" x="305.80" y="171.00" text-anchor="start" font-size="14.5">750</text>
<text class="t" x="46.24" y="210.70" text-anchor="start" font-size="14" font-style="italic">x</text>
<text class="t" x="53.54" y="212.20" text-anchor="start" font-size="19.0" style="stroke-width:0">(</text>
<text class="t" x="60.72" y="210.70" text-anchor="start" font-size="14">mm</text>
<text class="t" x="83.43" y="212.20" text-anchor="start" font-size="19.0" style="stroke-width:0">)</text>
<text class="t" x="254.82" y="206.50" text-anchor="start" font-size="14" font-style="italic">y</text>
<text class="t" x="261.64" y="209.00" text-anchor="start" font-size="19.0" style="stroke-width:0">(</text>
<text class="t" x="268.22" y="206.50" text-anchor="start" font-size="14">mm</text>
<text class="t" x="289.83" y="209.00" text-anchor="start" font-size="19.0" style="stroke-width:0">)</text>
<text class="t" x="9.81" y="29.50" text-anchor="start" font-size="14.5" font-style="italic" font-weight="bold">δ</text>
<text class="t" x="22.34" y="30.30" text-anchor="start" font-size="19" style="stroke-width:0">(</text>
<text class="t" x="28.52" y="29.40" text-anchor="start" font-size="14">mm</text>
<text class="t" x="51.03" y="30.30" text-anchor="start" font-size="19" style="stroke-width:0">)</text>
<line class="bar" x1="6.30" y1="17.20" x2="6.30" y2="34.60"/>
<line class="bar" x1="8.30" y1="17.20" x2="8.30" y2="34.60"/>
<line class="bar" x1="18.50" y1="17.20" x2="18.50" y2="34.60"/>
<line class="bar" x1="20.40" y1="17.20" x2="20.40" y2="34.60"/>
<text class="t" x="383.78" y="52.80" text-anchor="end" font-size="14.5">2</text>
<text class="t" x="383.78" y="107.30" text-anchor="end" font-size="14.5">1</text>
<text class="t" x="383.78" y="164.10" text-anchor="end" font-size="14.5">0</text>
<text class="t" x="383.68" y="178.80" text-anchor="end" font-size="14.5">-750</text>
<text class="t" x="452.23" y="198.20" text-anchor="end" font-size="14.5">0</text>
<text class="t" x="519.28" y="220.50" text-anchor="end" font-size="14.5">750</text>
<text class="t" x="530.62" y="220.50" text-anchor="start" font-size="14.5">-750</text>
<text class="t" x="602.07" y="196.70" text-anchor="start" font-size="14.5">0</text>
<text class="t" x="661.40" y="171.00" text-anchor="start" font-size="14.5">750</text>
<text class="t" x="405.84" y="210.70" text-anchor="start" font-size="14" font-style="italic">x</text>
<text class="t" x="413.14" y="212.20" text-anchor="start" font-size="19.0" style="stroke-width:0">(</text>
<text class="t" x="420.22" y="210.70" text-anchor="start" font-size="14">mm</text>
<text class="t" x="442.43" y="212.20" text-anchor="start" font-size="19.0" style="stroke-width:0">)</text>
<text class="t" x="611.02" y="207.10" text-anchor="start" font-size="14" font-style="italic">y</text>
<text class="t" x="618.34" y="209.60" text-anchor="start" font-size="19.0" style="stroke-width:0">(</text>
<text class="t" x="624.22" y="207.10" text-anchor="start" font-size="14">mm</text>
<text class="t" x="646.63" y="209.60" text-anchor="start" font-size="19.0" style="stroke-width:0">)</text>
<text class="t" x="379.86" y="28.30" text-anchor="start" font-size="14.5" font-style="italic" font-weight="bold">ε</text>
<text class="t" x="391.44" y="29.50" text-anchor="start" font-size="19" style="stroke-width:0">(</text>
<text class="t" x="397.20" y="28.60" text-anchor="start" font-size="14">°</text>
<text class="t" x="403.43" y="29.50" text-anchor="start" font-size="19" style="stroke-width:0">)</text>
<line class="bar" x1="376.90" y1="15.50" x2="376.90" y2="33.00"/>
<line class="bar" x1="378.60" y1="15.50" x2="378.60" y2="33.00"/>
<line class="bar" x1="387.50" y1="15.50" x2="387.50" y2="33.00"/>
<line class="bar" x1="389.30" y1="15.50" x2="389.30" y2="33.00"/>
<text class="t" x="27.58" y="307.80" text-anchor="end" font-size="14.5">0.1</text>
<text class="t" x="27.58" y="362.30" text-anchor="end" font-size="14.5">0.05</text>
<text class="t" x="27.58" y="417.30" text-anchor="end" font-size="14.5">0</text>
<text class="t" x="27.18" y="431.90" text-anchor="end" font-size="14.5">-750</text>
<text class="t" x="96.78" y="451.30" text-anchor="end" font-size="14.5">0</text>
<text class="t" x="161.58" y="473.60" text-anchor="end" font-size="14.5">750</text>
<text class="t" x="173.22" y="473.60" text-anchor="start" font-size="14.5">-750</text>
<text class="t" x="246.02" y="449.80" text-anchor="start" font-size="14.5">0</text>
<text class="t" x="305.80" y="424.10" text-anchor="start" font-size="14.5">750</text>
<text class="t" x="46.24" y="463.80" text-anchor="start" font-size="14" font-style="italic">x</text>
<text class="t" x="53.54" y="465.30" text-anchor="start" font-size="19.0" style="stroke-width:0">(</text>
<text class="t" x="60.72" y="463.80" text-anchor="start" font-size="14">mm</text>
<text class="t" x="83.43" y="465.30" text-anchor="start" font-size="19.0" style="stroke-width:0">)</text>
<text class="t" x="254.82" y="459.60" text-anchor="start" font-size="14" font-style="italic">y</text>
<text class="t" x="261.64" y="462.10" text-anchor="start" font-size="19.0" style="stroke-width:0">(</text>
<text class="t" x="268.22" y="459.60" text-anchor="start" font-size="14">mm</text>
<text class="t" x="289.83" y="462.10" text-anchor="start" font-size="19.0" style="stroke-width:0">)</text>
<text class="t" x="9.81" y="282.60" text-anchor="start" font-size="14.5" font-style="italic" font-weight="bold">δ</text>
<text class="t" x="22.34" y="283.40" text-anchor="start" font-size="19" style="stroke-width:0">(</text>
<text class="t" x="28.52" y="282.50" text-anchor="start" font-size="14">mm</text>
<text class="t" x="51.03" y="283.40" text-anchor="start" font-size="19" style="stroke-width:0">)</text>
<line class="bar" x1="6.30" y1="270.30" x2="6.30" y2="287.70"/>
<line class="bar" x1="8.30" y1="270.30" x2="8.30" y2="287.70"/>
<line class="bar" x1="18.50" y1="270.30" x2="18.50" y2="287.70"/>
<line class="bar" x1="20.40" y1="270.30" x2="20.40" y2="287.70"/>
<text class="t" x="383.78" y="307.80" text-anchor="end" font-size="14.5">0.04</text>
<text class="t" x="383.78" y="362.30" text-anchor="end" font-size="14.5">0.02</text>
<text class="t" x="383.78" y="417.30" text-anchor="end" font-size="14.5">0</text>
<text class="t" x="383.68" y="431.90" text-anchor="end" font-size="14.5">-750</text>
<text class="t" x="452.23" y="451.30" text-anchor="end" font-size="14.5">0</text>
<text class="t" x="519.28" y="473.60" text-anchor="end" font-size="14.5">750</text>
<text class="t" x="530.62" y="473.60" text-anchor="start" font-size="14.5">-750</text>
<text class="t" x="602.07" y="449.80" text-anchor="start" font-size="14.5">0</text>
<text class="t" x="661.40" y="424.10" text-anchor="start" font-size="14.5">750</text>
<text class="t" x="404.34" y="463.80" text-anchor="start" font-size="14" font-style="italic">x</text>
<text class="t" x="411.64" y="465.30" text-anchor="start" font-size="19.0" style="stroke-width:0">(</text>
<text class="t" x="418.72" y="463.80" text-anchor="start" font-size="14">mm</text>
<text class="t" x="440.93" y="465.30" text-anchor="start" font-size="19.0" style="stroke-width:0">)</text>
<text class="t" x="611.02" y="460.20" text-anchor="start" font-size="14" font-style="italic">y</text>
<text class="t" x="618.34" y="462.70" text-anchor="start" font-size="19.0" style="stroke-width:0">(</text>
<text class="t" x="624.22" y="460.20" text-anchor="start" font-size="14">mm</text>
<text class="t" x="646.63" y="462.70" text-anchor="start" font-size="19.0" style="stroke-width:0">)</text>
<text class="t" x="379.86" y="281.40" text-anchor="start" font-size="14.5" font-style="italic" font-weight="bold">ε</text>
<text class="t" x="391.44" y="282.60" text-anchor="start" font-size="19" style="stroke-width:0">(</text>
<text class="t" x="397.20" y="281.70" text-anchor="start" font-size="14">°</text>
<text class="t" x="403.43" y="282.60" text-anchor="start" font-size="19" style="stroke-width:0">)</text>
<line class="bar" x1="376.90" y1="268.60" x2="376.90" y2="286.10"/>
<line class="bar" x1="378.60" y1="268.60" x2="378.60" y2="286.10"/>
<line class="bar" x1="387.50" y1="268.60" x2="387.50" y2="286.10"/>
<line class="bar" x1="389.30" y1="268.60" x2="389.30" y2="286.10"/>
<text class="t" x="330.78" y="232.30" text-anchor="start" font-size="15.5">(</text>
<text class="t" x="336.46" y="232.30" text-anchor="start" font-size="14.5" font-style="italic">a</text>
<text class="t" x="343.74" y="232.30" text-anchor="start" font-size="15.5">)</text>
<text class="t" x="330.78" y="485.40" text-anchor="start" font-size="15.5">(</text>
<text class="t" x="336.46" y="485.40" text-anchor="start" font-size="14.5" font-style="italic">b</text>
<text class="t" x="343.74" y="485.40" text-anchor="start" font-size="15.5">)</text>
</svg></body></html>
